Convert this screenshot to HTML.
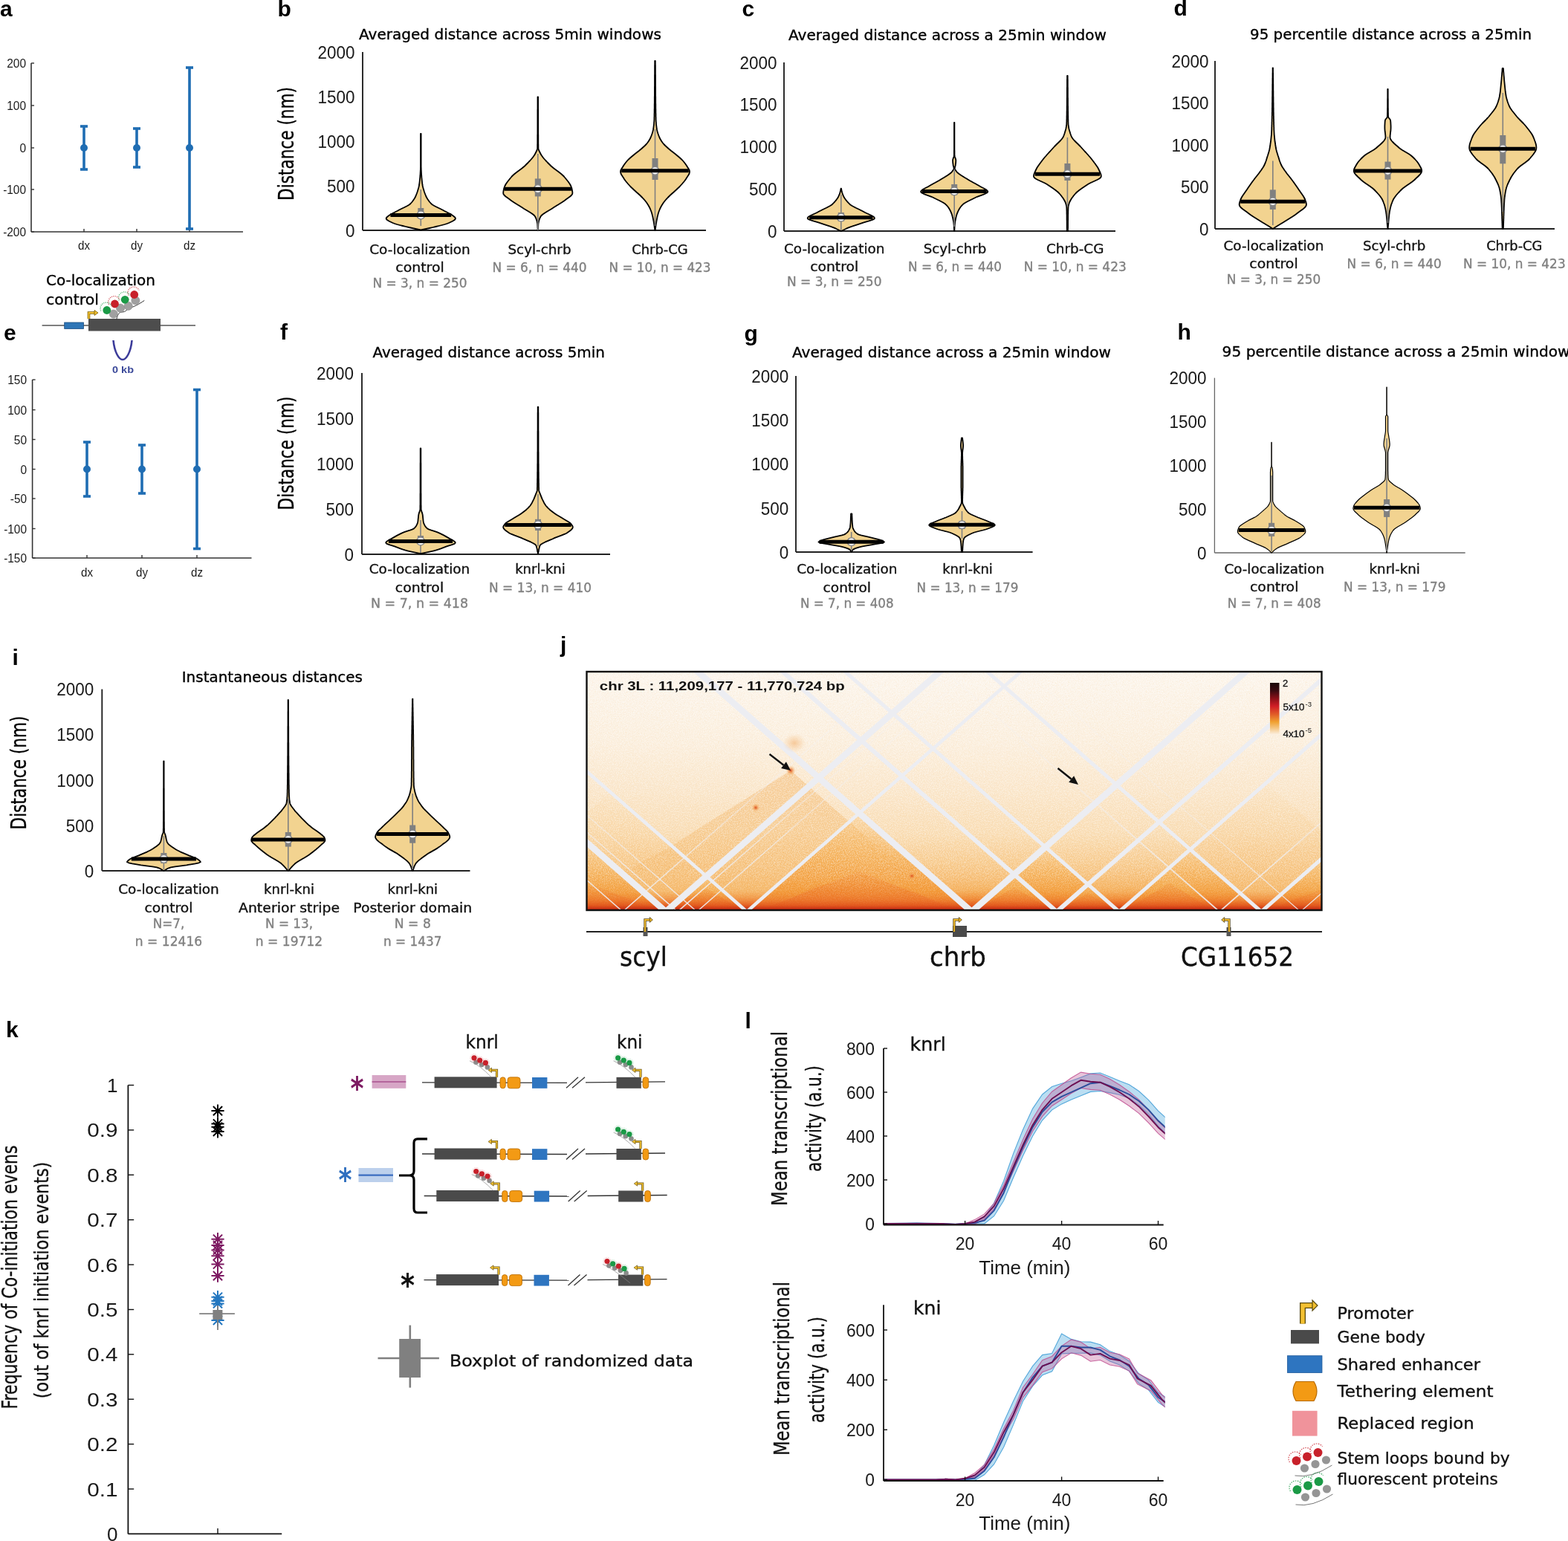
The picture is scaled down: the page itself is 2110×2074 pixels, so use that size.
<!DOCTYPE html><html><head><meta charset="utf-8"><style>html,body{margin:0;padding:0;background:#fff;overflow:hidden}svg{display:block}</style></head><body><svg width="2110" height="2074" viewBox="0 0 2110 2074">
<rect width="2110" height="2074" fill="#fff"/>
<text x="0.0" y="21.7" font-size="30" font-family="'Liberation Sans', Arial, sans-serif" fill="#000" font-weight="bold">a</text>
<text x="373.5" y="21.7" font-size="30" font-family="'Liberation Sans', Arial, sans-serif" fill="#000" font-weight="bold">b</text>
<text x="998.5" y="22.0" font-size="30" font-family="'Liberation Sans', Arial, sans-serif" fill="#000" font-weight="bold">c</text>
<text x="1579.5" y="21.0" font-size="30" font-family="'Liberation Sans', Arial, sans-serif" fill="#000" font-weight="bold">d</text>
<text x="5.0" y="458.0" font-size="30" font-family="'Liberation Sans', Arial, sans-serif" fill="#000" font-weight="bold">e</text>
<text x="377.0" y="457.0" font-size="30" font-family="'Liberation Sans', Arial, sans-serif" fill="#000" font-weight="bold">f</text>
<text x="1001.5" y="458.5" font-size="30" font-family="'Liberation Sans', Arial, sans-serif" fill="#000" font-weight="bold">g</text>
<text x="1584.5" y="457.0" font-size="30" font-family="'Liberation Sans', Arial, sans-serif" fill="#000" font-weight="bold">h</text>
<text x="16.5" y="895.0" font-size="30" font-family="'Liberation Sans', Arial, sans-serif" fill="#000" font-weight="bold">i</text>
<text x="754.0" y="877.6" font-size="30" font-family="'Liberation Sans', Arial, sans-serif" fill="#000" font-weight="bold">j</text>
<text x="8.0" y="1396.4" font-size="30" font-family="'Liberation Sans', Arial, sans-serif" fill="#000" font-weight="bold">k</text>
<text x="1002.5" y="1383.6" font-size="30" font-family="'Liberation Sans', Arial, sans-serif" fill="#000" font-weight="bold">l</text>
<line x1="42.0" y1="85.0" x2="42.0" y2="312.0" stroke="#333333" stroke-width="1.6"/>
<line x1="42.0" y1="312.0" x2="327.0" y2="312.0" stroke="#333333" stroke-width="1.6"/>
<line x1="42.0" y1="85.0" x2="46.0" y2="85.0" stroke="#333333" stroke-width="1.4"/>
<text x="35.0" y="91.0" font-size="16" font-family="'Liberation Sans', Arial, sans-serif" fill="#1a1a1a" text-anchor="end" textLength="25.799999999999997" lengthAdjust="spacingAndGlyphs">200</text>
<line x1="42.0" y1="142.0" x2="46.0" y2="142.0" stroke="#333333" stroke-width="1.4"/>
<text x="35.0" y="148.0" font-size="16" font-family="'Liberation Sans', Arial, sans-serif" fill="#1a1a1a" text-anchor="end" textLength="25.799999999999997" lengthAdjust="spacingAndGlyphs">100</text>
<line x1="42.0" y1="199.0" x2="46.0" y2="199.0" stroke="#333333" stroke-width="1.4"/>
<text x="35.0" y="205.0" font-size="16" font-family="'Liberation Sans', Arial, sans-serif" fill="#1a1a1a" text-anchor="end" textLength="8.6" lengthAdjust="spacingAndGlyphs">0</text>
<line x1="42.0" y1="255.0" x2="46.0" y2="255.0" stroke="#333333" stroke-width="1.4"/>
<text x="35.0" y="261.0" font-size="16" font-family="'Liberation Sans', Arial, sans-serif" fill="#1a1a1a" text-anchor="end" textLength="30.799999999999997" lengthAdjust="spacingAndGlyphs">-100</text>
<line x1="42.0" y1="312.0" x2="46.0" y2="312.0" stroke="#333333" stroke-width="1.4"/>
<text x="35.0" y="318.0" font-size="16" font-family="'Liberation Sans', Arial, sans-serif" fill="#1a1a1a" text-anchor="end" textLength="30.799999999999997" lengthAdjust="spacingAndGlyphs">-200</text>
<line x1="113.0" y1="312.0" x2="113.0" y2="308.0" stroke="#333333" stroke-width="1.4"/>
<line x1="113.0" y1="170.0" x2="113.0" y2="228.0" stroke="#1f6db3" stroke-width="3.6"/>
<line x1="108.0" y1="170.0" x2="118.0" y2="170.0" stroke="#1f6db3" stroke-width="3.6"/>
<line x1="108.0" y1="228.0" x2="118.0" y2="228.0" stroke="#1f6db3" stroke-width="3.6"/>
<circle cx="113" cy="199" r="5" fill="#1f6db3"/>
<text x="113.0" y="336.0" font-size="17" font-family="'Liberation Sans', Arial, sans-serif" fill="#1a1a1a" text-anchor="middle" textLength="16" lengthAdjust="spacingAndGlyphs">dx</text>
<line x1="184.0" y1="312.0" x2="184.0" y2="308.0" stroke="#333333" stroke-width="1.4"/>
<line x1="184.0" y1="173.0" x2="184.0" y2="225.0" stroke="#1f6db3" stroke-width="3.6"/>
<line x1="179.0" y1="173.0" x2="189.0" y2="173.0" stroke="#1f6db3" stroke-width="3.6"/>
<line x1="179.0" y1="225.0" x2="189.0" y2="225.0" stroke="#1f6db3" stroke-width="3.6"/>
<circle cx="184" cy="199" r="5" fill="#1f6db3"/>
<text x="184.0" y="336.0" font-size="17" font-family="'Liberation Sans', Arial, sans-serif" fill="#1a1a1a" text-anchor="middle" textLength="16" lengthAdjust="spacingAndGlyphs">dy</text>
<line x1="255.0" y1="312.0" x2="255.0" y2="308.0" stroke="#333333" stroke-width="1.4"/>
<line x1="255.0" y1="91.0" x2="255.0" y2="308.0" stroke="#1f6db3" stroke-width="3.6"/>
<line x1="250.0" y1="91.0" x2="260.0" y2="91.0" stroke="#1f6db3" stroke-width="3.6"/>
<line x1="250.0" y1="308.0" x2="260.0" y2="308.0" stroke="#1f6db3" stroke-width="3.6"/>
<circle cx="255" cy="199" r="5" fill="#1f6db3"/>
<text x="255.0" y="336.0" font-size="17" font-family="'Liberation Sans', Arial, sans-serif" fill="#1a1a1a" text-anchor="middle" textLength="16" lengthAdjust="spacingAndGlyphs">dz</text>
<line x1="43.6" y1="511.0" x2="43.6" y2="751.0" stroke="#333333" stroke-width="1.6"/>
<line x1="43.6" y1="751.0" x2="338.5" y2="751.0" stroke="#333333" stroke-width="1.6"/>
<line x1="43.6" y1="511.0" x2="47.6" y2="511.0" stroke="#333333" stroke-width="1.4"/>
<text x="36.0" y="517.0" font-size="16" font-family="'Liberation Sans', Arial, sans-serif" fill="#1a1a1a" text-anchor="end" textLength="25.799999999999997" lengthAdjust="spacingAndGlyphs">150</text>
<line x1="43.6" y1="551.6" x2="47.6" y2="551.6" stroke="#333333" stroke-width="1.4"/>
<text x="36.0" y="557.6" font-size="16" font-family="'Liberation Sans', Arial, sans-serif" fill="#1a1a1a" text-anchor="end" textLength="25.799999999999997" lengthAdjust="spacingAndGlyphs">100</text>
<line x1="43.6" y1="591.5" x2="47.6" y2="591.5" stroke="#333333" stroke-width="1.4"/>
<text x="36.0" y="597.5" font-size="16" font-family="'Liberation Sans', Arial, sans-serif" fill="#1a1a1a" text-anchor="end" textLength="17.2" lengthAdjust="spacingAndGlyphs">50</text>
<line x1="43.6" y1="631.5" x2="47.6" y2="631.5" stroke="#333333" stroke-width="1.4"/>
<text x="36.0" y="637.5" font-size="16" font-family="'Liberation Sans', Arial, sans-serif" fill="#1a1a1a" text-anchor="end" textLength="8.6" lengthAdjust="spacingAndGlyphs">0</text>
<line x1="43.6" y1="671.0" x2="47.6" y2="671.0" stroke="#333333" stroke-width="1.4"/>
<text x="36.0" y="677.0" font-size="16" font-family="'Liberation Sans', Arial, sans-serif" fill="#1a1a1a" text-anchor="end" textLength="22.2" lengthAdjust="spacingAndGlyphs">-50</text>
<line x1="43.6" y1="711.5" x2="47.6" y2="711.5" stroke="#333333" stroke-width="1.4"/>
<text x="36.0" y="717.5" font-size="16" font-family="'Liberation Sans', Arial, sans-serif" fill="#1a1a1a" text-anchor="end" textLength="30.799999999999997" lengthAdjust="spacingAndGlyphs">-100</text>
<line x1="43.6" y1="751.0" x2="47.6" y2="751.0" stroke="#333333" stroke-width="1.4"/>
<text x="36.0" y="757.0" font-size="16" font-family="'Liberation Sans', Arial, sans-serif" fill="#1a1a1a" text-anchor="end" textLength="30.799999999999997" lengthAdjust="spacingAndGlyphs">-150</text>
<line x1="117.0" y1="751.0" x2="117.0" y2="747.0" stroke="#333333" stroke-width="1.4"/>
<line x1="117.0" y1="595.0" x2="117.0" y2="668.0" stroke="#1f6db3" stroke-width="3.6"/>
<line x1="112.0" y1="595.0" x2="122.0" y2="595.0" stroke="#1f6db3" stroke-width="3.6"/>
<line x1="112.0" y1="668.0" x2="122.0" y2="668.0" stroke="#1f6db3" stroke-width="3.6"/>
<circle cx="117" cy="631.5" r="5" fill="#1f6db3"/>
<text x="117.0" y="776.0" font-size="17" font-family="'Liberation Sans', Arial, sans-serif" fill="#1a1a1a" text-anchor="middle" textLength="16" lengthAdjust="spacingAndGlyphs">dx</text>
<line x1="191.0" y1="751.0" x2="191.0" y2="747.0" stroke="#333333" stroke-width="1.4"/>
<line x1="191.0" y1="599.0" x2="191.0" y2="664.0" stroke="#1f6db3" stroke-width="3.6"/>
<line x1="186.0" y1="599.0" x2="196.0" y2="599.0" stroke="#1f6db3" stroke-width="3.6"/>
<line x1="186.0" y1="664.0" x2="196.0" y2="664.0" stroke="#1f6db3" stroke-width="3.6"/>
<circle cx="191" cy="631.5" r="5" fill="#1f6db3"/>
<text x="191.0" y="776.0" font-size="17" font-family="'Liberation Sans', Arial, sans-serif" fill="#1a1a1a" text-anchor="middle" textLength="16" lengthAdjust="spacingAndGlyphs">dy</text>
<line x1="265.0" y1="751.0" x2="265.0" y2="747.0" stroke="#333333" stroke-width="1.4"/>
<line x1="265.0" y1="524.5" x2="265.0" y2="738.5" stroke="#1f6db3" stroke-width="3.6"/>
<line x1="260.0" y1="524.5" x2="270.0" y2="524.5" stroke="#1f6db3" stroke-width="3.6"/>
<line x1="260.0" y1="738.5" x2="270.0" y2="738.5" stroke="#1f6db3" stroke-width="3.6"/>
<circle cx="265" cy="631.5" r="5" fill="#1f6db3"/>
<text x="265.0" y="776.0" font-size="17" font-family="'Liberation Sans', Arial, sans-serif" fill="#1a1a1a" text-anchor="middle" textLength="16" lengthAdjust="spacingAndGlyphs">dz</text>
<text x="62.0" y="384.0" font-size="20" font-family="'DejaVu Sans', 'Liberation Sans', sans-serif" fill="#000" textLength="147" lengthAdjust="spacingAndGlyphs" stroke="#000" stroke-width="0.35">Co-localization</text>
<text x="62.0" y="410.0" font-size="20" font-family="'DejaVu Sans', 'Liberation Sans', sans-serif" fill="#000" textLength="71" lengthAdjust="spacingAndGlyphs" stroke="#000" stroke-width="0.35">control</text>
<line x1="56.6" y1="438.0" x2="263.0" y2="438.0" stroke="#555" stroke-width="1.4"/>
<rect x="86.7" y="434.0" width="25.8" height="8.5" fill="#2e75b6" stroke="#1d4f80" stroke-width="0.8"/>
<rect x="119.0" y="429.0" width="97.0" height="16.5" fill="#4d4d4d"/>
<path d="M119.5,429 L119.5,421 L128,421" fill="none" stroke="#7a5c00" stroke-width="3.6"/>
<path d="M119.5,429 L119.5,421 L128,421" fill="none" stroke="#f0c030" stroke-width="2"/>
<path d="M127,417.5 L132,421 L127,424.5 Z" fill="#f0c030" stroke="#7a5c00" stroke-width="0.8"/>
<path d="M156.8,430 C158,424 160,420 164,420 C170,420 170,416 176,414 C182,412 186,410 194.3,404.4" fill="none" stroke="#333" stroke-width="1"/>
<circle cx="182.4" cy="404.4" r="5.6" fill="#a0a0a0" stroke="#8a8a8a" stroke-width="0.6"/>
<circle cx="180.7" cy="396.5" r="5.4" fill="#c8202a"/>
<path d="M172.8,397.5 A7.9,7.9 0 0 1 187.1,390.6" fill="none" stroke="#c8202a" stroke-width="1.4" stroke-dasharray="1.1,1.3" opacity="0.75"/>
<circle cx="172.7" cy="411.8" r="5.6" fill="#a0a0a0" stroke="#8a8a8a" stroke-width="0.6"/>
<circle cx="168.2" cy="403.3" r="5.4" fill="#1a9a46"/>
<path d="M160.3,404.3 A7.9,7.9 0 0 1 174.6,397.4" fill="none" stroke="#1a9a46" stroke-width="1.4" stroke-dasharray="1.1,1.3" opacity="0.75"/>
<circle cx="162.0" cy="414.7" r="5.6" fill="#a0a0a0" stroke="#8a8a8a" stroke-width="0.6"/>
<circle cx="154.5" cy="409.0" r="5.4" fill="#c8202a"/>
<path d="M146.6,410.0 A7.9,7.9 0 0 1 160.9,403.1" fill="none" stroke="#c8202a" stroke-width="1.4" stroke-dasharray="1.1,1.3" opacity="0.75"/>
<circle cx="152.8" cy="422.6" r="5.6" fill="#a0a0a0" stroke="#8a8a8a" stroke-width="0.6"/>
<circle cx="143.8" cy="417.5" r="5.4" fill="#1a9a46"/>
<path d="M135.8,418.5 A7.9,7.9 0 0 1 150.2,411.6" fill="none" stroke="#1a9a46" stroke-width="1.4" stroke-dasharray="1.1,1.3" opacity="0.75"/>
<path d="M152.5,458 C154,474 160,484 165,484 C170,484 176,474 177.5,458" fill="none" stroke="#3c3c9a" stroke-width="2.6"/>
<text x="151.0" y="502.0" font-size="13" font-family="'Liberation Sans', Arial, sans-serif" fill="#3c4a9a" font-weight="bold" textLength="29" lengthAdjust="spacingAndGlyphs">0 kb</text>
<line x1="488.0" y1="70.0" x2="488.0" y2="310.0" stroke="#222" stroke-width="1.9"/>
<line x1="488.0" y1="310.0" x2="950.0" y2="310.0" stroke="#222" stroke-width="1.9"/>
<text x="477.5" y="318.7" font-size="24.5" font-family="'Liberation Sans', Arial, sans-serif" fill="#1a1a1a" text-anchor="end" textLength="12.5" lengthAdjust="spacingAndGlyphs">0</text>
<text x="477.5" y="258.7" font-size="24.5" font-family="'Liberation Sans', Arial, sans-serif" fill="#1a1a1a" text-anchor="end" textLength="37.5" lengthAdjust="spacingAndGlyphs">500</text>
<text x="477.5" y="198.7" font-size="24.5" font-family="'Liberation Sans', Arial, sans-serif" fill="#1a1a1a" text-anchor="end" textLength="50.0" lengthAdjust="spacingAndGlyphs">1000</text>
<text x="477.5" y="138.7" font-size="24.5" font-family="'Liberation Sans', Arial, sans-serif" fill="#1a1a1a" text-anchor="end" textLength="50.0" lengthAdjust="spacingAndGlyphs">1500</text>
<text x="477.5" y="78.7" font-size="24.5" font-family="'Liberation Sans', Arial, sans-serif" fill="#1a1a1a" text-anchor="end" textLength="50.0" lengthAdjust="spacingAndGlyphs">2000</text>
<text x="483.0" y="53.0" font-size="20" font-family="'DejaVu Sans', 'Liberation Sans', sans-serif" fill="#000" textLength="407" lengthAdjust="spacingAndGlyphs" stroke="#000" stroke-width="0.35">Averaged distance across 5min windows</text>
<text x="395.0" y="193.5" font-size="29" font-family="'DejaVu Sans', 'Liberation Sans', sans-serif" fill="#000" text-anchor="middle" textLength="153" lengthAdjust="spacingAndGlyphs" transform="rotate(-90 395.0 193.5)" stroke="#000" stroke-width="0.35">Distance (nm)</text>
<path d="M566.6,180.0 L566.6,181.0 L566.6,182.0 L566.6,183.0 L566.6,184.0 L566.6,185.0 L566.6,186.0 L566.6,187.0 L566.6,188.0 L566.6,189.0 L566.6,190.0 L566.6,191.0 L566.6,192.0 L566.6,193.0 L566.6,194.0 L566.6,195.0 L566.6,196.0 L566.6,197.0 L566.6,198.0 L566.6,199.0 L566.6,200.0 L566.6,201.0 L566.6,202.0 L566.6,203.0 L566.6,204.0 L566.6,205.0 L566.6,206.0 L566.6,207.0 L566.6,208.0 L566.6,209.0 L566.6,210.0 L566.6,211.0 L566.6,212.0 L566.6,213.0 L566.6,214.0 L566.6,215.0 L566.6,216.0 L566.6,217.0 L566.6,218.0 L566.6,219.0 L566.6,220.0 L566.6,221.0 L566.6,222.0 L566.6,223.0 L566.6,224.0 L566.6,225.0 L566.7,226.0 L566.7,227.0 L566.7,228.0 L566.8,229.0 L566.8,230.0 L566.9,231.0 L566.9,232.0 L567.0,233.0 L567.0,234.0 L567.1,235.0 L567.2,236.0 L567.3,237.0 L567.3,238.0 L567.4,239.0 L567.5,240.0 L567.6,241.0 L567.7,242.0 L567.8,243.0 L567.9,244.0 L568.0,245.0 L568.1,246.0 L568.2,247.0 L568.4,248.0 L568.5,249.0 L568.7,250.0 L568.9,251.0 L569.2,252.0 L569.4,253.0 L569.7,254.0 L570.0,255.0 L570.3,256.0 L570.6,257.0 L570.9,258.0 L571.3,259.0 L571.6,260.0 L572.0,261.0 L572.4,262.0 L572.8,263.0 L573.2,264.0 L573.7,265.0 L574.2,266.0 L574.8,267.0 L575.4,268.0 L576.1,269.0 L576.8,270.0 L577.5,271.0 L578.3,272.0 L579.2,273.0 L580.1,274.0 L581.2,275.0 L582.7,276.0 L584.4,277.0 L586.3,278.0 L588.3,279.0 L590.4,280.0 L592.5,281.0 L594.5,282.0 L596.4,283.0 L598.2,284.0 L600.2,285.0 L602.1,286.0 L604.1,287.0 L605.9,288.0 L607.6,289.0 L609.1,290.0 L610.4,291.0 L611.6,292.0 L612.6,293.0 L613.0,294.0 L612.6,295.0 L611.6,296.0 L610.1,297.0 L608.3,298.0 L606.2,299.0 L604.1,300.0 L601.6,301.0 L598.4,302.0 L594.7,303.0 L590.7,304.0 L586.5,305.0 L582.4,306.0 L578.1,307.0 L573.5,308.0 L568.8,309.0 L566.4,309.5 L566.1,309.5 L563.8,309.0 L559.1,308.0 L554.5,307.0 L550.2,306.0 L546.1,305.0 L541.9,304.0 L537.9,303.0 L534.2,302.0 L531.0,301.0 L528.5,300.0 L526.4,299.0 L524.3,298.0 L522.5,297.0 L521.0,296.0 L520.0,295.0 L519.6,294.0 L520.0,293.0 L521.0,292.0 L522.2,291.0 L523.5,290.0 L525.0,289.0 L526.7,288.0 L528.5,287.0 L530.5,286.0 L532.4,285.0 L534.4,284.0 L536.2,283.0 L538.1,282.0 L540.1,281.0 L542.2,280.0 L544.3,279.0 L546.3,278.0 L548.2,277.0 L549.9,276.0 L551.4,275.0 L552.5,274.0 L553.4,273.0 L554.3,272.0 L555.1,271.0 L555.8,270.0 L556.5,269.0 L557.2,268.0 L557.8,267.0 L558.4,266.0 L558.9,265.0 L559.4,264.0 L559.8,263.0 L560.2,262.0 L560.6,261.0 L561.0,260.0 L561.3,259.0 L561.7,258.0 L562.0,257.0 L562.3,256.0 L562.6,255.0 L562.9,254.0 L563.2,253.0 L563.4,252.0 L563.7,251.0 L563.9,250.0 L564.1,249.0 L564.2,248.0 L564.4,247.0 L564.5,246.0 L564.6,245.0 L564.7,244.0 L564.8,243.0 L564.9,242.0 L565.0,241.0 L565.1,240.0 L565.2,239.0 L565.3,238.0 L565.3,237.0 L565.4,236.0 L565.5,235.0 L565.6,234.0 L565.6,233.0 L565.7,232.0 L565.7,231.0 L565.8,230.0 L565.8,229.0 L565.9,228.0 L565.9,227.0 L565.9,226.0 L566.0,225.0 L566.0,224.0 L566.0,223.0 L566.0,222.0 L566.0,221.0 L566.0,220.0 L566.0,219.0 L566.0,218.0 L566.0,217.0 L566.0,216.0 L566.0,215.0 L566.0,214.0 L566.0,213.0 L566.0,212.0 L566.0,211.0 L566.0,210.0 L566.0,209.0 L566.0,208.0 L566.0,207.0 L566.0,206.0 L566.0,205.0 L566.0,204.0 L566.0,203.0 L566.0,202.0 L566.0,201.0 L566.0,200.0 L566.0,199.0 L566.0,198.0 L566.0,197.0 L566.0,196.0 L566.0,195.0 L566.0,194.0 L566.0,193.0 L566.0,192.0 L566.0,191.0 L566.0,190.0 L566.0,189.0 L566.0,188.0 L566.0,187.0 L566.0,186.0 L566.0,185.0 L566.0,184.0 L566.0,183.0 L566.0,182.0 L566.0,181.0 L566.0,180.0 Z" fill="#f2d390" stroke="#000" stroke-width="1.8" stroke-linejoin="round"/>
<line x1="566.3" y1="255.0" x2="566.3" y2="304.0" stroke="#808080" stroke-width="1.6"/>
<rect x="562.3" y="280.0" width="8.0" height="12.0" fill="#808080"/>
<circle cx="566.3" cy="289.5" r="5.4" fill="#fff" stroke="#8a8a8a" stroke-width="1.5"/>
<line x1="525.4" y1="289.5" x2="607.2" y2="289.5" stroke="#000" stroke-width="5"/>
<rect x="564.1" y="288.0" width="4.4" height="3" fill="#fff" opacity="0.0"/>
<path d="M724.1,130.5 L724.1,131.5 L724.1,132.5 L724.1,133.5 L724.1,134.5 L724.1,135.5 L724.1,136.5 L724.1,137.5 L724.1,138.5 L724.1,139.5 L724.1,140.5 L724.1,141.5 L724.1,142.5 L724.1,143.5 L724.1,144.5 L724.1,145.5 L724.1,146.5 L724.2,147.5 L724.2,148.5 L724.2,149.5 L724.2,150.5 L724.2,151.5 L724.2,152.5 L724.2,153.5 L724.2,154.5 L724.2,155.5 L724.2,156.5 L724.2,157.5 L724.2,158.5 L724.2,159.5 L724.2,160.5 L724.2,161.5 L724.2,162.5 L724.2,163.5 L724.2,164.5 L724.2,165.5 L724.2,166.5 L724.2,167.5 L724.2,168.5 L724.2,169.5 L724.2,170.5 L724.2,171.5 L724.2,172.5 L724.2,173.5 L724.2,174.5 L724.2,175.5 L724.2,176.5 L724.2,177.5 L724.2,178.5 L724.2,179.5 L724.2,180.5 L724.3,181.5 L724.3,182.5 L724.3,183.5 L724.3,184.5 L724.3,185.5 L724.3,186.5 L724.3,187.5 L724.3,188.5 L724.3,189.5 L724.3,190.5 L724.3,191.5 L724.3,192.5 L724.3,193.5 L724.4,194.5 L724.4,195.5 L724.4,196.5 L724.4,197.5 L724.4,198.5 L724.4,199.5 L724.6,200.5 L724.9,201.5 L725.2,202.5 L725.7,203.5 L726.2,204.5 L726.7,205.5 L727.2,206.5 L727.8,207.5 L728.3,208.5 L729.0,209.5 L729.7,210.5 L730.4,211.5 L731.2,212.5 L732.0,213.5 L732.9,214.5 L733.8,215.5 L734.7,216.5 L735.7,217.5 L736.6,218.5 L737.6,219.5 L738.6,220.5 L739.6,221.5 L740.6,222.5 L741.6,223.5 L742.8,224.5 L744.0,225.5 L745.2,226.5 L746.5,227.5 L747.9,228.5 L749.2,229.5 L750.6,230.5 L751.9,231.5 L753.2,232.5 L754.5,233.5 L755.7,234.5 L756.8,235.5 L757.9,236.5 L758.9,237.5 L759.7,238.5 L760.6,239.5 L761.4,240.5 L762.2,241.5 L763.0,242.5 L763.8,243.5 L764.6,244.5 L765.3,245.5 L766.0,246.5 L766.7,247.5 L767.3,248.5 L767.8,249.5 L768.3,250.5 L768.7,251.5 L769.1,252.5 L769.4,253.5 L769.6,254.5 L769.8,255.5 L770.0,256.5 L770.2,257.5 L770.3,258.5 L770.4,259.5 L770.3,260.5 L770.0,261.5 L769.2,262.5 L768.2,263.5 L767.1,264.5 L765.7,265.5 L764.3,266.5 L762.9,267.5 L761.5,268.5 L760.3,269.5 L758.9,270.5 L757.4,271.5 L755.9,272.5 L754.3,273.5 L752.7,274.5 L751.1,275.5 L749.4,276.5 L747.8,277.5 L746.2,278.5 L744.6,279.5 L743.2,280.5 L741.6,281.5 L739.9,282.5 L738.2,283.5 L736.5,284.5 L734.9,285.5 L733.3,286.5 L731.8,287.5 L730.4,288.5 L729.2,289.5 L728.2,290.5 L727.5,291.5 L727.0,292.5 L726.5,293.5 L726.1,294.5 L725.8,295.5 L725.4,296.5 L725.1,297.5 L724.9,298.5 L724.7,299.5 L724.5,300.5 L724.4,301.5 L724.3,302.5 L724.3,303.5 L724.2,304.5 L724.2,305.5 L724.1,306.5 L724.1,307.5 L724.0,308.5 L724.0,309.5 L723.9,310.0 L723.6,310.0 L723.6,309.5 L723.6,308.5 L723.5,307.5 L723.5,306.5 L723.4,305.5 L723.4,304.5 L723.3,303.5 L723.3,302.5 L723.2,301.5 L723.1,300.5 L722.9,299.5 L722.7,298.5 L722.5,297.5 L722.2,296.5 L721.8,295.5 L721.5,294.5 L721.1,293.5 L720.6,292.5 L720.1,291.5 L719.4,290.5 L718.4,289.5 L717.2,288.5 L715.8,287.5 L714.3,286.5 L712.7,285.5 L711.1,284.5 L709.4,283.5 L707.7,282.5 L706.0,281.5 L704.4,280.5 L703.0,279.5 L701.4,278.5 L699.8,277.5 L698.2,276.5 L696.5,275.5 L694.9,274.5 L693.3,273.5 L691.7,272.5 L690.2,271.5 L688.7,270.5 L687.3,269.5 L686.1,268.5 L684.7,267.5 L683.3,266.5 L681.9,265.5 L680.5,264.5 L679.4,263.5 L678.4,262.5 L677.6,261.5 L677.3,260.5 L677.2,259.5 L677.3,258.5 L677.4,257.5 L677.6,256.5 L677.8,255.5 L678.0,254.5 L678.2,253.5 L678.5,252.5 L678.9,251.5 L679.3,250.5 L679.8,249.5 L680.3,248.5 L680.9,247.5 L681.6,246.5 L682.3,245.5 L683.0,244.5 L683.8,243.5 L684.6,242.5 L685.4,241.5 L686.2,240.5 L687.0,239.5 L687.9,238.5 L688.7,237.5 L689.7,236.5 L690.8,235.5 L691.9,234.5 L693.1,233.5 L694.4,232.5 L695.7,231.5 L697.0,230.5 L698.4,229.5 L699.7,228.5 L701.1,227.5 L702.4,226.5 L703.6,225.5 L704.8,224.5 L706.0,223.5 L707.0,222.5 L708.0,221.5 L709.0,220.5 L710.0,219.5 L711.0,218.5 L711.9,217.5 L712.9,216.5 L713.8,215.5 L714.7,214.5 L715.6,213.5 L716.4,212.5 L717.2,211.5 L717.9,210.5 L718.6,209.5 L719.3,208.5 L719.8,207.5 L720.4,206.5 L720.9,205.5 L721.4,204.5 L721.9,203.5 L722.4,202.5 L722.7,201.5 L723.0,200.5 L723.2,199.5 L723.2,198.5 L723.2,197.5 L723.2,196.5 L723.2,195.5 L723.2,194.5 L723.3,193.5 L723.3,192.5 L723.3,191.5 L723.3,190.5 L723.3,189.5 L723.3,188.5 L723.3,187.5 L723.3,186.5 L723.3,185.5 L723.3,184.5 L723.3,183.5 L723.3,182.5 L723.3,181.5 L723.4,180.5 L723.4,179.5 L723.4,178.5 L723.4,177.5 L723.4,176.5 L723.4,175.5 L723.4,174.5 L723.4,173.5 L723.4,172.5 L723.4,171.5 L723.4,170.5 L723.4,169.5 L723.4,168.5 L723.4,167.5 L723.4,166.5 L723.4,165.5 L723.4,164.5 L723.4,163.5 L723.4,162.5 L723.4,161.5 L723.4,160.5 L723.4,159.5 L723.4,158.5 L723.4,157.5 L723.4,156.5 L723.4,155.5 L723.4,154.5 L723.4,153.5 L723.4,152.5 L723.4,151.5 L723.4,150.5 L723.4,149.5 L723.4,148.5 L723.4,147.5 L723.5,146.5 L723.5,145.5 L723.5,144.5 L723.5,143.5 L723.5,142.5 L723.5,141.5 L723.5,140.5 L723.5,139.5 L723.5,138.5 L723.5,137.5 L723.5,136.5 L723.5,135.5 L723.5,134.5 L723.5,133.5 L723.5,132.5 L723.5,131.5 L723.5,130.5 Z" fill="#f2d390" stroke="#000" stroke-width="1.8" stroke-linejoin="round"/>
<line x1="723.8" y1="207.0" x2="723.8" y2="310.0" stroke="#808080" stroke-width="1.6"/>
<rect x="719.8" y="240.4" width="8.0" height="24.0" fill="#808080"/>
<circle cx="723.8" cy="254.2" r="5.4" fill="#fff" stroke="#8a8a8a" stroke-width="1.5"/>
<line x1="678.7" y1="254.2" x2="768.9" y2="254.2" stroke="#000" stroke-width="5"/>
<rect x="721.6" y="252.7" width="4.4" height="3" fill="#fff" opacity="0.0"/>
<path d="M881.8,82.0 L881.8,83.0 L881.8,84.0 L881.8,85.0 L881.8,86.0 L881.8,87.0 L881.9,88.0 L881.9,89.0 L881.9,90.0 L881.9,91.0 L881.9,92.0 L881.9,93.0 L881.9,94.0 L881.9,95.0 L881.9,96.0 L881.9,97.0 L881.9,98.0 L881.9,99.0 L881.9,100.0 L882.0,101.0 L882.0,102.0 L882.0,103.0 L882.0,104.0 L882.0,105.0 L882.0,106.0 L882.0,107.0 L882.0,108.0 L882.0,109.0 L882.0,110.0 L882.0,111.0 L882.0,112.0 L882.0,113.0 L882.0,114.0 L882.0,115.0 L882.0,116.0 L882.1,117.0 L882.1,118.0 L882.1,119.0 L882.1,120.0 L882.1,121.0 L882.1,122.0 L882.1,123.0 L882.1,124.0 L882.1,125.0 L882.1,126.0 L882.1,127.0 L882.1,128.0 L882.1,129.0 L882.2,130.0 L882.2,131.0 L882.2,132.0 L882.2,133.0 L882.2,134.0 L882.2,135.0 L882.2,136.0 L882.2,137.0 L882.2,138.0 L882.2,139.0 L882.3,140.0 L882.3,141.0 L882.3,142.0 L882.3,143.0 L882.3,144.0 L882.3,145.0 L882.3,146.0 L882.4,147.0 L882.4,148.0 L882.4,149.0 L882.4,150.0 L882.4,151.0 L882.4,152.0 L882.5,153.0 L882.5,154.0 L882.5,155.0 L882.5,156.0 L882.5,157.0 L882.6,158.0 L882.6,159.0 L882.6,160.0 L882.6,161.0 L882.7,162.0 L882.7,163.0 L882.8,164.0 L882.9,165.0 L882.9,166.0 L883.0,167.0 L883.1,168.0 L883.2,169.0 L883.4,170.0 L883.5,171.0 L883.6,172.0 L883.7,173.0 L883.9,174.0 L884.1,175.0 L884.4,176.0 L884.6,177.0 L884.9,178.0 L885.2,179.0 L885.5,180.0 L885.9,181.0 L886.2,182.0 L886.6,183.0 L887.0,184.0 L887.4,185.0 L887.9,186.0 L888.4,187.0 L889.0,188.0 L889.6,189.0 L890.2,190.0 L890.9,191.0 L891.6,192.0 L892.4,193.0 L893.2,194.0 L894.2,195.0 L895.2,196.0 L896.3,197.0 L897.4,198.0 L898.5,199.0 L899.6,200.0 L900.8,201.0 L902.0,202.0 L903.2,203.0 L904.5,204.0 L905.8,205.0 L907.1,206.0 L908.4,207.0 L909.6,208.0 L910.8,209.0 L912.0,210.0 L913.2,211.0 L914.4,212.0 L915.5,213.0 L916.6,214.0 L917.7,215.0 L918.6,216.0 L919.5,217.0 L920.3,218.0 L921.1,219.0 L921.9,220.0 L922.6,221.0 L923.3,222.0 L924.0,223.0 L924.6,224.0 L925.2,225.0 L925.9,226.0 L926.5,227.0 L927.1,228.0 L927.6,229.0 L927.9,230.0 L928.0,231.0 L927.9,232.0 L927.7,233.0 L927.3,234.0 L926.8,235.0 L926.2,236.0 L925.5,237.0 L924.9,238.0 L924.2,239.0 L923.6,240.0 L923.0,241.0 L922.3,242.0 L921.6,243.0 L920.8,244.0 L920.0,245.0 L919.1,246.0 L918.3,247.0 L917.4,248.0 L916.5,249.0 L915.6,250.0 L914.7,251.0 L913.7,252.0 L912.6,253.0 L911.5,254.0 L910.5,255.0 L909.4,256.0 L908.3,257.0 L907.2,258.0 L906.1,259.0 L904.9,260.0 L903.8,261.0 L902.7,262.0 L901.6,263.0 L900.6,264.0 L899.6,265.0 L898.6,266.0 L897.7,267.0 L896.7,268.0 L895.8,269.0 L895.0,270.0 L894.2,271.0 L893.4,272.0 L892.7,273.0 L892.0,274.0 L891.4,275.0 L890.7,276.0 L890.2,277.0 L889.6,278.0 L889.1,279.0 L888.6,280.0 L888.1,281.0 L887.7,282.0 L887.3,283.0 L886.9,284.0 L886.5,285.0 L886.2,286.0 L885.9,287.0 L885.6,288.0 L885.3,289.0 L885.1,290.0 L884.8,291.0 L884.6,292.0 L884.4,293.0 L884.2,294.0 L884.0,295.0 L883.8,296.0 L883.6,297.0 L883.4,298.0 L883.3,299.0 L883.1,300.0 L882.9,301.0 L882.8,302.0 L882.6,303.0 L882.5,304.0 L882.3,305.0 L882.2,306.0 L882.1,307.0 L881.9,308.0 L881.8,309.0 L881.6,310.0 L881.4,310.0 L881.2,309.0 L881.1,308.0 L880.9,307.0 L880.8,306.0 L880.7,305.0 L880.5,304.0 L880.4,303.0 L880.2,302.0 L880.1,301.0 L879.9,300.0 L879.7,299.0 L879.6,298.0 L879.4,297.0 L879.2,296.0 L879.0,295.0 L878.8,294.0 L878.6,293.0 L878.4,292.0 L878.2,291.0 L877.9,290.0 L877.7,289.0 L877.4,288.0 L877.1,287.0 L876.8,286.0 L876.5,285.0 L876.1,284.0 L875.7,283.0 L875.3,282.0 L874.9,281.0 L874.4,280.0 L873.9,279.0 L873.4,278.0 L872.8,277.0 L872.3,276.0 L871.6,275.0 L871.0,274.0 L870.3,273.0 L869.6,272.0 L868.8,271.0 L868.0,270.0 L867.2,269.0 L866.3,268.0 L865.3,267.0 L864.4,266.0 L863.4,265.0 L862.4,264.0 L861.4,263.0 L860.3,262.0 L859.2,261.0 L858.1,260.0 L856.9,259.0 L855.8,258.0 L854.7,257.0 L853.6,256.0 L852.5,255.0 L851.5,254.0 L850.4,253.0 L849.3,252.0 L848.3,251.0 L847.4,250.0 L846.5,249.0 L845.6,248.0 L844.7,247.0 L843.9,246.0 L843.0,245.0 L842.2,244.0 L841.4,243.0 L840.7,242.0 L840.0,241.0 L839.4,240.0 L838.8,239.0 L838.1,238.0 L837.5,237.0 L836.8,236.0 L836.2,235.0 L835.7,234.0 L835.3,233.0 L835.1,232.0 L835.0,231.0 L835.1,230.0 L835.4,229.0 L835.9,228.0 L836.5,227.0 L837.1,226.0 L837.8,225.0 L838.4,224.0 L839.0,223.0 L839.7,222.0 L840.4,221.0 L841.1,220.0 L841.9,219.0 L842.7,218.0 L843.5,217.0 L844.4,216.0 L845.3,215.0 L846.4,214.0 L847.5,213.0 L848.6,212.0 L849.8,211.0 L851.0,210.0 L852.2,209.0 L853.4,208.0 L854.6,207.0 L855.9,206.0 L857.2,205.0 L858.5,204.0 L859.8,203.0 L861.0,202.0 L862.2,201.0 L863.4,200.0 L864.5,199.0 L865.6,198.0 L866.7,197.0 L867.8,196.0 L868.8,195.0 L869.8,194.0 L870.6,193.0 L871.4,192.0 L872.1,191.0 L872.8,190.0 L873.4,189.0 L874.0,188.0 L874.6,187.0 L875.1,186.0 L875.6,185.0 L876.0,184.0 L876.4,183.0 L876.8,182.0 L877.1,181.0 L877.5,180.0 L877.8,179.0 L878.1,178.0 L878.4,177.0 L878.6,176.0 L878.9,175.0 L879.1,174.0 L879.3,173.0 L879.4,172.0 L879.5,171.0 L879.6,170.0 L879.8,169.0 L879.9,168.0 L880.0,167.0 L880.1,166.0 L880.1,165.0 L880.2,164.0 L880.3,163.0 L880.3,162.0 L880.4,161.0 L880.4,160.0 L880.4,159.0 L880.4,158.0 L880.5,157.0 L880.5,156.0 L880.5,155.0 L880.5,154.0 L880.5,153.0 L880.6,152.0 L880.6,151.0 L880.6,150.0 L880.6,149.0 L880.6,148.0 L880.6,147.0 L880.7,146.0 L880.7,145.0 L880.7,144.0 L880.7,143.0 L880.7,142.0 L880.7,141.0 L880.7,140.0 L880.8,139.0 L880.8,138.0 L880.8,137.0 L880.8,136.0 L880.8,135.0 L880.8,134.0 L880.8,133.0 L880.8,132.0 L880.8,131.0 L880.8,130.0 L880.9,129.0 L880.9,128.0 L880.9,127.0 L880.9,126.0 L880.9,125.0 L880.9,124.0 L880.9,123.0 L880.9,122.0 L880.9,121.0 L880.9,120.0 L880.9,119.0 L880.9,118.0 L880.9,117.0 L881.0,116.0 L881.0,115.0 L881.0,114.0 L881.0,113.0 L881.0,112.0 L881.0,111.0 L881.0,110.0 L881.0,109.0 L881.0,108.0 L881.0,107.0 L881.0,106.0 L881.0,105.0 L881.0,104.0 L881.0,103.0 L881.0,102.0 L881.0,101.0 L881.1,100.0 L881.1,99.0 L881.1,98.0 L881.1,97.0 L881.1,96.0 L881.1,95.0 L881.1,94.0 L881.1,93.0 L881.1,92.0 L881.1,91.0 L881.1,90.0 L881.1,89.0 L881.1,88.0 L881.2,87.0 L881.2,86.0 L881.2,85.0 L881.2,84.0 L881.2,83.0 L881.2,82.0 Z" fill="#f2d390" stroke="#000" stroke-width="1.8" stroke-linejoin="round"/>
<line x1="881.5" y1="174.0" x2="881.5" y2="304.0" stroke="#808080" stroke-width="1.6"/>
<rect x="877.5" y="213.0" width="8.0" height="29.0" fill="#808080"/>
<circle cx="881.5" cy="229.8" r="5.4" fill="#fff" stroke="#8a8a8a" stroke-width="1.5"/>
<line x1="836.2" y1="229.8" x2="926.8" y2="229.8" stroke="#000" stroke-width="5"/>
<rect x="879.3" y="228.3" width="4.4" height="3" fill="#fff" opacity="0.0"/>
<text x="565.0" y="342.0" font-size="17.5" font-family="'DejaVu Sans', 'Liberation Sans', sans-serif" fill="#111" text-anchor="middle" textLength="135.5" lengthAdjust="spacingAndGlyphs" stroke="#111" stroke-width="0.35">Co-localization</text>
<text x="565.0" y="366.0" font-size="17.5" font-family="'DejaVu Sans', 'Liberation Sans', sans-serif" fill="#111" text-anchor="middle" textLength="65.5" lengthAdjust="spacingAndGlyphs" stroke="#111" stroke-width="0.35">control</text>
<text x="565.0" y="386.7" font-size="17.5" font-family="'DejaVu Sans', 'Liberation Sans', sans-serif" fill="#808080" text-anchor="middle" textLength="127" lengthAdjust="spacingAndGlyphs" stroke="#808080" stroke-width="0.35">N = 3, n = 250</text>
<text x="726.0" y="342.0" font-size="17.5" font-family="'DejaVu Sans', 'Liberation Sans', sans-serif" fill="#111" text-anchor="middle" textLength="85" lengthAdjust="spacingAndGlyphs" stroke="#111" stroke-width="0.35">Scyl-chrb</text>
<text x="726.0" y="366.0" font-size="17.5" font-family="'DejaVu Sans', 'Liberation Sans', sans-serif" fill="#808080" text-anchor="middle" textLength="127" lengthAdjust="spacingAndGlyphs" stroke="#808080" stroke-width="0.35">N = 6, n = 440</text>
<text x="888.0" y="342.0" font-size="17.5" font-family="'DejaVu Sans', 'Liberation Sans', sans-serif" fill="#111" text-anchor="middle" textLength="75.5" lengthAdjust="spacingAndGlyphs" stroke="#111" stroke-width="0.35">Chrb-CG</text>
<text x="888.0" y="366.0" font-size="17.5" font-family="'DejaVu Sans', 'Liberation Sans', sans-serif" fill="#808080" text-anchor="middle" textLength="137" lengthAdjust="spacingAndGlyphs" stroke="#808080" stroke-width="0.35">N = 10, n = 423</text>
<line x1="1055.0" y1="84.0" x2="1055.0" y2="311.0" stroke="#222" stroke-width="1.9"/>
<line x1="1055.0" y1="311.0" x2="1501.0" y2="311.0" stroke="#222" stroke-width="1.9"/>
<text x="1045.5" y="319.7" font-size="24.5" font-family="'Liberation Sans', Arial, sans-serif" fill="#1a1a1a" text-anchor="end" textLength="12.5" lengthAdjust="spacingAndGlyphs">0</text>
<text x="1045.5" y="262.9" font-size="24.5" font-family="'Liberation Sans', Arial, sans-serif" fill="#1a1a1a" text-anchor="end" textLength="37.5" lengthAdjust="spacingAndGlyphs">500</text>
<text x="1045.5" y="206.2" font-size="24.5" font-family="'Liberation Sans', Arial, sans-serif" fill="#1a1a1a" text-anchor="end" textLength="50.0" lengthAdjust="spacingAndGlyphs">1000</text>
<text x="1045.5" y="149.4" font-size="24.5" font-family="'Liberation Sans', Arial, sans-serif" fill="#1a1a1a" text-anchor="end" textLength="50.0" lengthAdjust="spacingAndGlyphs">1500</text>
<text x="1045.5" y="92.7" font-size="24.5" font-family="'Liberation Sans', Arial, sans-serif" fill="#1a1a1a" text-anchor="end" textLength="50.0" lengthAdjust="spacingAndGlyphs">2000</text>
<text x="1061.0" y="54.0" font-size="20" font-family="'DejaVu Sans', 'Liberation Sans', sans-serif" fill="#000" textLength="428" lengthAdjust="spacingAndGlyphs" stroke="#000" stroke-width="0.35">Averaged distance across a 25min window</text>
<path d="M1132.0,253.7 L1132.2,254.7 L1132.4,255.7 L1132.6,256.7 L1132.9,257.7 L1133.1,258.7 L1133.4,259.7 L1133.7,260.7 L1134.0,261.7 L1134.5,262.7 L1134.9,263.7 L1135.4,264.7 L1136.0,265.7 L1136.6,266.7 L1137.3,267.7 L1138.0,268.7 L1138.7,269.7 L1139.6,270.7 L1140.4,271.7 L1141.3,272.7 L1142.3,273.7 L1143.3,274.7 L1144.6,275.7 L1146.1,276.7 L1147.9,277.7 L1149.8,278.7 L1151.7,279.7 L1153.8,280.7 L1155.9,281.7 L1157.9,282.7 L1159.9,283.7 L1161.8,284.7 L1163.6,285.7 L1165.6,286.7 L1167.8,287.7 L1170.0,288.7 L1172.1,289.7 L1174.0,290.7 L1175.5,291.7 L1176.5,292.7 L1176.9,293.7 L1176.3,294.7 L1174.5,295.7 L1171.7,296.7 L1168.5,297.7 L1165.0,298.7 L1161.7,299.7 L1158.8,300.7 L1155.8,301.7 L1152.8,302.7 L1149.7,303.7 L1146.6,304.7 L1143.8,305.7 L1141.1,306.7 L1138.8,307.7 L1136.7,308.7 L1134.6,309.7 L1132.6,310.7 L1132.0,311.0 L1131.6,311.0 L1131.0,310.7 L1129.0,309.7 L1126.9,308.7 L1124.8,307.7 L1122.5,306.7 L1119.8,305.7 L1117.0,304.7 L1113.9,303.7 L1110.8,302.7 L1107.8,301.7 L1104.8,300.7 L1101.9,299.7 L1098.6,298.7 L1095.1,297.7 L1091.9,296.7 L1089.1,295.7 L1087.3,294.7 L1086.7,293.7 L1087.1,292.7 L1088.1,291.7 L1089.6,290.7 L1091.5,289.7 L1093.6,288.7 L1095.8,287.7 L1098.0,286.7 L1100.0,285.7 L1101.8,284.7 L1103.7,283.7 L1105.7,282.7 L1107.7,281.7 L1109.8,280.7 L1111.9,279.7 L1113.8,278.7 L1115.7,277.7 L1117.5,276.7 L1119.0,275.7 L1120.3,274.7 L1121.3,273.7 L1122.3,272.7 L1123.2,271.7 L1124.0,270.7 L1124.9,269.7 L1125.6,268.7 L1126.3,267.7 L1127.0,266.7 L1127.6,265.7 L1128.2,264.7 L1128.7,263.7 L1129.1,262.7 L1129.6,261.7 L1129.9,260.7 L1130.2,259.7 L1130.5,258.7 L1130.7,257.7 L1131.0,256.7 L1131.2,255.7 L1131.4,254.7 L1131.6,253.7 Z" fill="#f2d390" stroke="#000" stroke-width="1.8" stroke-linejoin="round"/>
<line x1="1131.8" y1="262.0" x2="1131.8" y2="310.0" stroke="#808080" stroke-width="1.6"/>
<rect x="1127.8" y="286.0" width="8.0" height="12.0" fill="#808080"/>
<circle cx="1131.8" cy="292.7" r="5.4" fill="#fff" stroke="#8a8a8a" stroke-width="1.5"/>
<line x1="1089.1" y1="292.7" x2="1174.5" y2="292.7" stroke="#000" stroke-width="5"/>
<rect x="1129.6" y="291.2" width="4.4" height="3" fill="#fff" opacity="0.0"/>
<path d="M1284.4,164.8 L1284.4,165.8 L1284.4,166.8 L1284.4,167.8 L1284.4,168.8 L1284.4,169.8 L1284.4,170.8 L1284.4,171.8 L1284.4,172.8 L1284.4,173.8 L1284.4,174.8 L1284.4,175.8 L1284.4,176.8 L1284.4,177.8 L1284.4,178.8 L1284.4,179.8 L1284.4,180.8 L1284.4,181.8 L1284.4,182.8 L1284.4,183.8 L1284.4,184.8 L1284.4,185.8 L1284.4,186.8 L1284.4,187.8 L1284.4,188.8 L1284.4,189.8 L1284.4,190.8 L1284.4,191.8 L1284.4,192.8 L1284.4,193.8 L1284.4,194.8 L1284.4,195.8 L1284.4,196.8 L1284.4,197.8 L1284.4,198.8 L1284.4,199.8 L1284.4,200.8 L1284.4,201.8 L1284.5,202.8 L1284.5,203.8 L1284.5,204.8 L1284.5,205.8 L1284.5,206.8 L1284.5,207.8 L1284.5,208.8 L1284.6,209.8 L1284.8,210.8 L1285.2,211.8 L1285.6,212.8 L1285.9,213.8 L1286.2,214.8 L1286.3,215.8 L1286.3,216.8 L1286.2,217.8 L1286.2,218.8 L1286.1,219.8 L1285.9,220.8 L1285.8,221.8 L1285.7,222.8 L1285.4,223.8 L1285.1,224.8 L1284.9,225.8 L1284.8,226.8 L1285.1,227.8 L1285.6,228.8 L1286.4,229.8 L1287.1,230.8 L1288.0,231.8 L1289.0,232.8 L1290.2,233.8 L1291.6,234.8 L1293.0,235.8 L1294.6,236.8 L1296.2,237.8 L1297.8,238.8 L1299.5,239.8 L1301.2,240.8 L1302.8,241.8 L1304.4,242.8 L1306.2,243.8 L1308.0,244.8 L1309.8,245.8 L1311.7,246.8 L1313.5,247.8 L1315.3,248.8 L1317.0,249.8 L1318.7,250.8 L1320.5,251.8 L1322.5,252.8 L1324.4,253.8 L1326.2,254.8 L1327.7,255.8 L1328.8,256.8 L1329.3,257.8 L1328.9,258.8 L1327.7,259.8 L1325.6,260.8 L1323.1,261.8 L1320.4,262.8 L1317.6,263.8 L1315.0,264.8 L1312.9,265.8 L1310.9,266.8 L1308.9,267.8 L1306.8,268.8 L1304.8,269.8 L1302.8,270.8 L1300.9,271.8 L1299.1,272.8 L1297.5,273.8 L1296.1,274.8 L1295.0,275.8 L1294.1,276.8 L1293.3,277.8 L1292.5,278.8 L1291.8,279.8 L1291.2,280.8 L1290.6,281.8 L1290.0,282.8 L1289.5,283.8 L1289.0,284.8 L1288.6,285.8 L1288.2,286.8 L1287.8,287.8 L1287.5,288.8 L1287.2,289.8 L1286.9,290.8 L1286.7,291.8 L1286.4,292.8 L1286.2,293.8 L1286.0,294.8 L1285.8,295.8 L1285.6,296.8 L1285.4,297.8 L1285.2,298.8 L1285.1,299.8 L1285.0,300.8 L1284.9,301.8 L1284.8,302.8 L1284.7,303.8 L1284.6,304.8 L1284.6,305.8 L1284.5,306.8 L1284.5,307.8 L1284.5,308.8 L1284.4,309.8 L1284.4,310.8 L1284.4,311.0 L1284.0,311.0 L1284.0,310.8 L1284.0,309.8 L1283.9,308.8 L1283.9,307.8 L1283.9,306.8 L1283.8,305.8 L1283.8,304.8 L1283.7,303.8 L1283.6,302.8 L1283.5,301.8 L1283.4,300.8 L1283.3,299.8 L1283.2,298.8 L1283.0,297.8 L1282.8,296.8 L1282.6,295.8 L1282.4,294.8 L1282.2,293.8 L1282.0,292.8 L1281.7,291.8 L1281.5,290.8 L1281.2,289.8 L1280.9,288.8 L1280.6,287.8 L1280.2,286.8 L1279.8,285.8 L1279.4,284.8 L1278.9,283.8 L1278.4,282.8 L1277.8,281.8 L1277.2,280.8 L1276.6,279.8 L1275.9,278.8 L1275.1,277.8 L1274.3,276.8 L1273.4,275.8 L1272.3,274.8 L1270.9,273.8 L1269.3,272.8 L1267.5,271.8 L1265.6,270.8 L1263.6,269.8 L1261.6,268.8 L1259.5,267.8 L1257.5,266.8 L1255.5,265.8 L1253.4,264.8 L1250.8,263.8 L1248.0,262.8 L1245.3,261.8 L1242.8,260.8 L1240.7,259.8 L1239.5,258.8 L1239.1,257.8 L1239.6,256.8 L1240.7,255.8 L1242.2,254.8 L1244.0,253.8 L1245.9,252.8 L1247.9,251.8 L1249.7,250.8 L1251.4,249.8 L1253.1,248.8 L1254.9,247.8 L1256.7,246.8 L1258.6,245.8 L1260.4,244.8 L1262.2,243.8 L1264.0,242.8 L1265.6,241.8 L1267.2,240.8 L1268.9,239.8 L1270.6,238.8 L1272.2,237.8 L1273.8,236.8 L1275.4,235.8 L1276.8,234.8 L1278.2,233.8 L1279.4,232.8 L1280.4,231.8 L1281.3,230.8 L1282.0,229.8 L1282.8,228.8 L1283.3,227.8 L1283.6,226.8 L1283.5,225.8 L1283.3,224.8 L1283.0,223.8 L1282.7,222.8 L1282.6,221.8 L1282.5,220.8 L1282.3,219.8 L1282.2,218.8 L1282.2,217.8 L1282.1,216.8 L1282.1,215.8 L1282.2,214.8 L1282.5,213.8 L1282.8,212.8 L1283.2,211.8 L1283.6,210.8 L1283.8,209.8 L1283.9,208.8 L1283.9,207.8 L1283.9,206.8 L1283.9,205.8 L1283.9,204.8 L1283.9,203.8 L1283.9,202.8 L1284.0,201.8 L1284.0,200.8 L1284.0,199.8 L1284.0,198.8 L1284.0,197.8 L1284.0,196.8 L1284.0,195.8 L1284.0,194.8 L1284.0,193.8 L1284.0,192.8 L1284.0,191.8 L1284.0,190.8 L1284.0,189.8 L1284.0,188.8 L1284.0,187.8 L1284.0,186.8 L1284.0,185.8 L1284.0,184.8 L1284.0,183.8 L1284.0,182.8 L1284.0,181.8 L1284.0,180.8 L1284.0,179.8 L1284.0,178.8 L1284.0,177.8 L1284.0,176.8 L1284.0,175.8 L1284.0,174.8 L1284.0,173.8 L1284.0,172.8 L1284.0,171.8 L1284.0,170.8 L1284.0,169.8 L1284.0,168.8 L1284.0,167.8 L1284.0,166.8 L1284.0,165.8 L1284.0,164.8 Z" fill="#f2d390" stroke="#000" stroke-width="1.8" stroke-linejoin="round"/>
<line x1="1284.2" y1="228.0" x2="1284.2" y2="305.0" stroke="#808080" stroke-width="1.6"/>
<rect x="1280.2" y="248.0" width="8.0" height="14.4" fill="#808080"/>
<circle cx="1284.2" cy="257.4" r="5.4" fill="#fff" stroke="#8a8a8a" stroke-width="1.5"/>
<line x1="1240.6" y1="257.4" x2="1327.8" y2="257.4" stroke="#000" stroke-width="5"/>
<rect x="1282.0" y="255.9" width="4.4" height="3" fill="#fff" opacity="0.0"/>
<path d="M1436.7,102.0 L1436.7,103.0 L1436.7,104.0 L1436.7,105.0 L1436.7,106.0 L1436.8,107.0 L1436.8,108.0 L1436.8,109.0 L1436.8,110.0 L1436.8,111.0 L1436.8,112.0 L1436.8,113.0 L1436.8,114.0 L1436.8,115.0 L1436.8,116.0 L1436.8,117.0 L1436.9,118.0 L1436.9,119.0 L1436.9,120.0 L1436.9,121.0 L1436.9,122.0 L1436.9,123.0 L1436.9,124.0 L1436.9,125.0 L1436.9,126.0 L1436.9,127.0 L1436.9,128.0 L1436.9,129.0 L1436.9,130.0 L1436.9,131.0 L1437.0,132.0 L1437.0,133.0 L1437.0,134.0 L1437.0,135.0 L1437.0,136.0 L1437.0,137.0 L1437.0,138.0 L1437.0,139.0 L1437.0,140.0 L1437.0,141.0 L1437.0,142.0 L1437.1,143.0 L1437.1,144.0 L1437.1,145.0 L1437.1,146.0 L1437.1,147.0 L1437.1,148.0 L1437.1,149.0 L1437.2,150.0 L1437.2,151.0 L1437.2,152.0 L1437.2,153.0 L1437.2,154.0 L1437.2,155.0 L1437.3,156.0 L1437.3,157.0 L1437.3,158.0 L1437.3,159.0 L1437.3,160.0 L1437.4,161.0 L1437.4,162.0 L1437.4,163.0 L1437.4,164.0 L1437.5,165.0 L1437.5,166.0 L1437.5,167.0 L1437.6,168.0 L1437.7,169.0 L1437.9,170.0 L1438.0,171.0 L1438.2,172.0 L1438.4,173.0 L1438.6,174.0 L1438.9,175.0 L1439.2,176.0 L1439.5,177.0 L1439.8,178.0 L1440.1,179.0 L1440.4,180.0 L1440.8,181.0 L1441.1,182.0 L1441.5,183.0 L1441.9,184.0 L1442.5,185.0 L1443.2,186.0 L1443.9,187.0 L1444.7,188.0 L1445.6,189.0 L1446.6,190.0 L1447.6,191.0 L1448.6,192.0 L1449.7,193.0 L1450.7,194.0 L1451.7,195.0 L1452.7,196.0 L1453.7,197.0 L1454.6,198.0 L1455.5,199.0 L1456.4,200.0 L1457.3,201.0 L1458.2,202.0 L1459.1,203.0 L1460.0,204.0 L1461.0,205.0 L1461.9,206.0 L1462.8,207.0 L1463.7,208.0 L1464.6,209.0 L1465.4,210.0 L1466.3,211.0 L1467.2,212.0 L1468.0,213.0 L1468.8,214.0 L1469.6,215.0 L1470.4,216.0 L1471.1,217.0 L1471.9,218.0 L1472.6,219.0 L1473.4,220.0 L1474.1,221.0 L1474.8,222.0 L1475.5,223.0 L1476.2,224.0 L1476.9,225.0 L1477.5,226.0 L1478.0,227.0 L1478.5,228.0 L1479.0,229.0 L1479.4,230.0 L1479.9,231.0 L1480.4,232.0 L1480.8,233.0 L1481.2,234.0 L1481.5,235.0 L1481.7,236.0 L1481.8,237.0 L1481.7,238.0 L1481.0,239.0 L1479.9,240.0 L1478.3,241.0 L1476.4,242.0 L1474.3,243.0 L1472.1,244.0 L1469.9,245.0 L1467.7,246.0 L1465.7,247.0 L1464.0,248.0 L1462.5,249.0 L1461.0,250.0 L1459.5,251.0 L1458.0,252.0 L1456.5,253.0 L1455.1,254.0 L1453.7,255.0 L1452.3,256.0 L1451.1,257.0 L1449.8,258.0 L1448.7,259.0 L1447.7,260.0 L1446.8,261.0 L1445.9,262.0 L1445.1,263.0 L1444.3,264.0 L1443.6,265.0 L1442.8,266.0 L1442.1,267.0 L1441.5,268.0 L1440.9,269.0 L1440.3,270.0 L1439.8,271.0 L1439.3,272.0 L1438.9,273.0 L1438.6,274.0 L1438.3,275.0 L1438.0,276.0 L1437.8,277.0 L1437.6,278.0 L1437.5,279.0 L1437.5,280.0 L1437.4,281.0 L1437.4,282.0 L1437.4,283.0 L1437.3,284.0 L1437.3,285.0 L1437.3,286.0 L1437.3,287.0 L1437.3,288.0 L1437.2,289.0 L1437.2,290.0 L1437.2,291.0 L1437.2,292.0 L1437.2,293.0 L1437.2,294.0 L1437.2,295.0 L1437.2,296.0 L1437.1,297.0 L1437.1,298.0 L1437.1,299.0 L1437.1,300.0 L1437.1,301.0 L1437.1,302.0 L1437.1,303.0 L1437.1,304.0 L1437.1,305.0 L1437.1,306.0 L1437.1,307.0 L1437.0,308.0 L1437.0,309.0 L1437.0,310.0 L1437.0,311.0 L1435.8,311.0 L1435.8,310.0 L1435.8,309.0 L1435.8,308.0 L1435.7,307.0 L1435.7,306.0 L1435.7,305.0 L1435.7,304.0 L1435.7,303.0 L1435.7,302.0 L1435.7,301.0 L1435.7,300.0 L1435.7,299.0 L1435.7,298.0 L1435.7,297.0 L1435.6,296.0 L1435.6,295.0 L1435.6,294.0 L1435.6,293.0 L1435.6,292.0 L1435.6,291.0 L1435.6,290.0 L1435.6,289.0 L1435.5,288.0 L1435.5,287.0 L1435.5,286.0 L1435.5,285.0 L1435.5,284.0 L1435.4,283.0 L1435.4,282.0 L1435.4,281.0 L1435.3,280.0 L1435.3,279.0 L1435.2,278.0 L1435.0,277.0 L1434.8,276.0 L1434.5,275.0 L1434.2,274.0 L1433.9,273.0 L1433.5,272.0 L1433.0,271.0 L1432.5,270.0 L1431.9,269.0 L1431.3,268.0 L1430.7,267.0 L1430.0,266.0 L1429.2,265.0 L1428.5,264.0 L1427.7,263.0 L1426.9,262.0 L1426.0,261.0 L1425.1,260.0 L1424.1,259.0 L1423.0,258.0 L1421.7,257.0 L1420.5,256.0 L1419.1,255.0 L1417.7,254.0 L1416.3,253.0 L1414.8,252.0 L1413.3,251.0 L1411.8,250.0 L1410.3,249.0 L1408.8,248.0 L1407.1,247.0 L1405.1,246.0 L1402.9,245.0 L1400.7,244.0 L1398.5,243.0 L1396.4,242.0 L1394.5,241.0 L1392.9,240.0 L1391.8,239.0 L1391.1,238.0 L1391.0,237.0 L1391.1,236.0 L1391.3,235.0 L1391.6,234.0 L1392.0,233.0 L1392.4,232.0 L1392.9,231.0 L1393.4,230.0 L1393.8,229.0 L1394.3,228.0 L1394.8,227.0 L1395.3,226.0 L1395.9,225.0 L1396.6,224.0 L1397.3,223.0 L1398.0,222.0 L1398.7,221.0 L1399.4,220.0 L1400.2,219.0 L1400.9,218.0 L1401.7,217.0 L1402.4,216.0 L1403.2,215.0 L1404.0,214.0 L1404.8,213.0 L1405.6,212.0 L1406.5,211.0 L1407.4,210.0 L1408.2,209.0 L1409.1,208.0 L1410.0,207.0 L1410.9,206.0 L1411.8,205.0 L1412.8,204.0 L1413.7,203.0 L1414.6,202.0 L1415.5,201.0 L1416.4,200.0 L1417.3,199.0 L1418.2,198.0 L1419.1,197.0 L1420.1,196.0 L1421.1,195.0 L1422.1,194.0 L1423.1,193.0 L1424.2,192.0 L1425.2,191.0 L1426.2,190.0 L1427.2,189.0 L1428.1,188.0 L1428.9,187.0 L1429.6,186.0 L1430.3,185.0 L1430.9,184.0 L1431.3,183.0 L1431.7,182.0 L1432.0,181.0 L1432.4,180.0 L1432.7,179.0 L1433.0,178.0 L1433.3,177.0 L1433.6,176.0 L1433.9,175.0 L1434.2,174.0 L1434.4,173.0 L1434.6,172.0 L1434.8,171.0 L1434.9,170.0 L1435.1,169.0 L1435.2,168.0 L1435.3,167.0 L1435.3,166.0 L1435.3,165.0 L1435.4,164.0 L1435.4,163.0 L1435.4,162.0 L1435.4,161.0 L1435.5,160.0 L1435.5,159.0 L1435.5,158.0 L1435.5,157.0 L1435.5,156.0 L1435.6,155.0 L1435.6,154.0 L1435.6,153.0 L1435.6,152.0 L1435.6,151.0 L1435.6,150.0 L1435.7,149.0 L1435.7,148.0 L1435.7,147.0 L1435.7,146.0 L1435.7,145.0 L1435.7,144.0 L1435.7,143.0 L1435.8,142.0 L1435.8,141.0 L1435.8,140.0 L1435.8,139.0 L1435.8,138.0 L1435.8,137.0 L1435.8,136.0 L1435.8,135.0 L1435.8,134.0 L1435.8,133.0 L1435.8,132.0 L1435.9,131.0 L1435.9,130.0 L1435.9,129.0 L1435.9,128.0 L1435.9,127.0 L1435.9,126.0 L1435.9,125.0 L1435.9,124.0 L1435.9,123.0 L1435.9,122.0 L1435.9,121.0 L1435.9,120.0 L1435.9,119.0 L1435.9,118.0 L1436.0,117.0 L1436.0,116.0 L1436.0,115.0 L1436.0,114.0 L1436.0,113.0 L1436.0,112.0 L1436.0,111.0 L1436.0,110.0 L1436.0,109.0 L1436.0,108.0 L1436.0,107.0 L1436.1,106.0 L1436.1,105.0 L1436.1,104.0 L1436.1,103.0 L1436.1,102.0 Z" fill="#f2d390" stroke="#000" stroke-width="1.8" stroke-linejoin="round"/>
<line x1="1436.4" y1="185.0" x2="1436.4" y2="278.0" stroke="#808080" stroke-width="1.6"/>
<rect x="1432.4" y="220.0" width="8.0" height="23.0" fill="#808080"/>
<circle cx="1436.4" cy="234.2" r="5.4" fill="#fff" stroke="#8a8a8a" stroke-width="1.5"/>
<line x1="1392.7" y1="234.2" x2="1480.1" y2="234.2" stroke="#000" stroke-width="5"/>
<rect x="1434.2" y="232.7" width="4.4" height="3" fill="#fff" opacity="0.0"/>
<text x="1122.7" y="341.3" font-size="17.5" font-family="'DejaVu Sans', 'Liberation Sans', sans-serif" fill="#111" text-anchor="middle" textLength="135.6" lengthAdjust="spacingAndGlyphs" stroke="#111" stroke-width="0.35">Co-localization</text>
<text x="1122.7" y="365.3" font-size="17.5" font-family="'DejaVu Sans', 'Liberation Sans', sans-serif" fill="#111" text-anchor="middle" textLength="65" lengthAdjust="spacingAndGlyphs" stroke="#111" stroke-width="0.35">control</text>
<text x="1122.7" y="384.7" font-size="17.5" font-family="'DejaVu Sans', 'Liberation Sans', sans-serif" fill="#808080" text-anchor="middle" textLength="127.6" lengthAdjust="spacingAndGlyphs" stroke="#808080" stroke-width="0.35">N = 3, n = 250</text>
<text x="1285.0" y="341.3" font-size="17.5" font-family="'DejaVu Sans', 'Liberation Sans', sans-serif" fill="#111" text-anchor="middle" textLength="84.4" lengthAdjust="spacingAndGlyphs" stroke="#111" stroke-width="0.35">Scyl-chrb</text>
<text x="1285.0" y="365.3" font-size="17.5" font-family="'DejaVu Sans', 'Liberation Sans', sans-serif" fill="#808080" text-anchor="middle" textLength="126" lengthAdjust="spacingAndGlyphs" stroke="#808080" stroke-width="0.35">N = 6, n = 440</text>
<text x="1446.7" y="341.3" font-size="17.5" font-family="'DejaVu Sans', 'Liberation Sans', sans-serif" fill="#111" text-anchor="middle" textLength="77.4" lengthAdjust="spacingAndGlyphs" stroke="#111" stroke-width="0.35">Chrb-CG</text>
<text x="1446.7" y="365.3" font-size="17.5" font-family="'DejaVu Sans', 'Liberation Sans', sans-serif" fill="#808080" text-anchor="middle" textLength="138" lengthAdjust="spacingAndGlyphs" stroke="#808080" stroke-width="0.35">N = 10, n = 423</text>
<line x1="1635.0" y1="82.0" x2="1635.0" y2="308.0" stroke="#222" stroke-width="1.9"/>
<line x1="1635.0" y1="308.0" x2="2092.0" y2="308.0" stroke="#222" stroke-width="1.9"/>
<text x="1626.5" y="316.7" font-size="24.5" font-family="'Liberation Sans', Arial, sans-serif" fill="#1a1a1a" text-anchor="end" textLength="12.5" lengthAdjust="spacingAndGlyphs">0</text>
<text x="1626.5" y="260.2" font-size="24.5" font-family="'Liberation Sans', Arial, sans-serif" fill="#1a1a1a" text-anchor="end" textLength="37.5" lengthAdjust="spacingAndGlyphs">500</text>
<text x="1626.5" y="203.7" font-size="24.5" font-family="'Liberation Sans', Arial, sans-serif" fill="#1a1a1a" text-anchor="end" textLength="50.0" lengthAdjust="spacingAndGlyphs">1000</text>
<text x="1626.5" y="147.2" font-size="24.5" font-family="'Liberation Sans', Arial, sans-serif" fill="#1a1a1a" text-anchor="end" textLength="50.0" lengthAdjust="spacingAndGlyphs">1500</text>
<text x="1626.5" y="90.7" font-size="24.5" font-family="'Liberation Sans', Arial, sans-serif" fill="#1a1a1a" text-anchor="end" textLength="50.0" lengthAdjust="spacingAndGlyphs">2000</text>
<text x="1682.0" y="52.5" font-size="20" font-family="'DejaVu Sans', 'Liberation Sans', sans-serif" fill="#000" textLength="379" lengthAdjust="spacingAndGlyphs" stroke="#000" stroke-width="0.35">95 percentile distance across a 25min</text>
<path d="M1713.0,91.5 L1713.0,92.5 L1713.0,93.5 L1713.0,94.5 L1713.0,95.5 L1713.0,96.5 L1713.0,97.5 L1713.1,98.5 L1713.1,99.5 L1713.1,100.5 L1713.1,101.5 L1713.1,102.5 L1713.1,103.5 L1713.1,104.5 L1713.2,105.5 L1713.2,106.5 L1713.2,107.5 L1713.2,108.5 L1713.2,109.5 L1713.2,110.5 L1713.2,111.5 L1713.2,112.5 L1713.3,113.5 L1713.3,114.5 L1713.3,115.5 L1713.3,116.5 L1713.3,117.5 L1713.3,118.5 L1713.3,119.5 L1713.3,120.5 L1713.3,121.5 L1713.4,122.5 L1713.4,123.5 L1713.4,124.5 L1713.4,125.5 L1713.4,126.5 L1713.4,127.5 L1713.4,128.5 L1713.4,129.5 L1713.5,130.5 L1713.5,131.5 L1713.5,132.5 L1713.5,133.5 L1713.5,134.5 L1713.5,135.5 L1713.5,136.5 L1713.5,137.5 L1713.6,138.5 L1713.6,139.5 L1713.6,140.5 L1713.6,141.5 L1713.6,142.5 L1713.6,143.5 L1713.6,144.5 L1713.7,145.5 L1713.7,146.5 L1713.7,147.5 L1713.7,148.5 L1713.7,149.5 L1713.7,150.5 L1713.8,151.5 L1713.8,152.5 L1713.8,153.5 L1713.8,154.5 L1713.8,155.5 L1713.9,156.5 L1713.9,157.5 L1713.9,158.5 L1713.9,159.5 L1714.0,160.5 L1714.0,161.5 L1714.0,162.5 L1714.0,163.5 L1714.1,164.5 L1714.1,165.5 L1714.1,166.5 L1714.1,167.5 L1714.2,168.5 L1714.2,169.5 L1714.2,170.5 L1714.3,171.5 L1714.3,172.5 L1714.3,173.5 L1714.3,174.5 L1714.4,175.5 L1714.4,176.5 L1714.5,177.5 L1714.5,178.5 L1714.6,179.5 L1714.6,180.5 L1714.7,181.5 L1714.8,182.5 L1714.9,183.5 L1715.0,184.5 L1715.1,185.5 L1715.2,186.5 L1715.3,187.5 L1715.4,188.5 L1715.5,189.5 L1715.6,190.5 L1715.8,191.5 L1715.9,192.5 L1716.1,193.5 L1716.2,194.5 L1716.3,195.5 L1716.5,196.5 L1716.7,197.5 L1716.8,198.5 L1717.0,199.5 L1717.2,200.5 L1717.4,201.5 L1717.7,202.5 L1717.9,203.5 L1718.2,204.5 L1718.5,205.5 L1718.8,206.5 L1719.1,207.5 L1719.4,208.5 L1719.7,209.5 L1720.1,210.5 L1720.4,211.5 L1720.7,212.5 L1721.0,213.5 L1721.3,214.5 L1721.6,215.5 L1721.9,216.5 L1722.3,217.5 L1722.7,218.5 L1723.0,219.5 L1723.5,220.5 L1723.9,221.5 L1724.4,222.5 L1724.9,223.5 L1725.5,224.5 L1726.1,225.5 L1726.8,226.5 L1727.5,227.5 L1728.1,228.5 L1728.8,229.5 L1729.6,230.5 L1730.3,231.5 L1731.0,232.5 L1731.7,233.5 L1732.5,234.5 L1733.3,235.5 L1734.1,236.5 L1734.9,237.5 L1735.7,238.5 L1736.5,239.5 L1737.3,240.5 L1738.0,241.5 L1738.8,242.5 L1739.5,243.5 L1740.3,244.5 L1741.0,245.5 L1741.7,246.5 L1742.4,247.5 L1743.1,248.5 L1743.8,249.5 L1744.5,250.5 L1745.2,251.5 L1745.9,252.5 L1746.6,253.5 L1747.2,254.5 L1747.9,255.5 L1748.6,256.5 L1749.3,257.5 L1750.0,258.5 L1750.7,259.5 L1751.4,260.5 L1752.1,261.5 L1752.8,262.5 L1753.5,263.5 L1754.1,264.5 L1754.7,265.5 L1755.2,266.5 L1755.7,267.5 L1756.2,268.5 L1756.5,269.5 L1756.9,270.5 L1757.2,271.5 L1757.5,272.5 L1757.7,273.5 L1757.9,274.5 L1757.9,275.5 L1757.7,276.5 L1757.2,277.5 L1756.5,278.5 L1755.5,279.5 L1754.4,280.5 L1753.2,281.5 L1751.8,282.5 L1750.4,283.5 L1749.0,284.5 L1747.6,285.5 L1746.3,286.5 L1745.0,287.5 L1743.7,288.5 L1742.3,289.5 L1740.8,290.5 L1739.3,291.5 L1737.7,292.5 L1736.1,293.5 L1734.5,294.5 L1732.9,295.5 L1731.3,296.5 L1729.7,297.5 L1728.1,298.5 L1726.5,299.5 L1724.8,300.5 L1723.1,301.5 L1721.5,302.5 L1719.8,303.5 L1718.2,304.5 L1716.6,305.5 L1715.0,306.5 L1713.6,307.5 L1713.0,308.0 L1712.6,308.0 L1712.0,307.5 L1710.6,306.5 L1709.0,305.5 L1707.4,304.5 L1705.8,303.5 L1704.1,302.5 L1702.5,301.5 L1700.8,300.5 L1699.1,299.5 L1697.5,298.5 L1695.9,297.5 L1694.3,296.5 L1692.7,295.5 L1691.1,294.5 L1689.5,293.5 L1687.9,292.5 L1686.3,291.5 L1684.8,290.5 L1683.3,289.5 L1681.9,288.5 L1680.6,287.5 L1679.3,286.5 L1678.0,285.5 L1676.6,284.5 L1675.2,283.5 L1673.8,282.5 L1672.4,281.5 L1671.2,280.5 L1670.1,279.5 L1669.1,278.5 L1668.4,277.5 L1667.9,276.5 L1667.7,275.5 L1667.7,274.5 L1667.9,273.5 L1668.1,272.5 L1668.4,271.5 L1668.7,270.5 L1669.1,269.5 L1669.4,268.5 L1669.9,267.5 L1670.4,266.5 L1670.9,265.5 L1671.5,264.5 L1672.1,263.5 L1672.8,262.5 L1673.5,261.5 L1674.2,260.5 L1674.9,259.5 L1675.6,258.5 L1676.3,257.5 L1677.0,256.5 L1677.7,255.5 L1678.4,254.5 L1679.0,253.5 L1679.7,252.5 L1680.4,251.5 L1681.1,250.5 L1681.8,249.5 L1682.5,248.5 L1683.2,247.5 L1683.9,246.5 L1684.6,245.5 L1685.3,244.5 L1686.1,243.5 L1686.8,242.5 L1687.6,241.5 L1688.3,240.5 L1689.1,239.5 L1689.9,238.5 L1690.7,237.5 L1691.5,236.5 L1692.3,235.5 L1693.1,234.5 L1693.9,233.5 L1694.6,232.5 L1695.3,231.5 L1696.0,230.5 L1696.8,229.5 L1697.5,228.5 L1698.1,227.5 L1698.8,226.5 L1699.5,225.5 L1700.1,224.5 L1700.7,223.5 L1701.2,222.5 L1701.7,221.5 L1702.1,220.5 L1702.6,219.5 L1702.9,218.5 L1703.3,217.5 L1703.7,216.5 L1704.0,215.5 L1704.3,214.5 L1704.6,213.5 L1704.9,212.5 L1705.2,211.5 L1705.5,210.5 L1705.9,209.5 L1706.2,208.5 L1706.5,207.5 L1706.8,206.5 L1707.1,205.5 L1707.4,204.5 L1707.7,203.5 L1707.9,202.5 L1708.2,201.5 L1708.4,200.5 L1708.6,199.5 L1708.8,198.5 L1708.9,197.5 L1709.1,196.5 L1709.3,195.5 L1709.4,194.5 L1709.5,193.5 L1709.7,192.5 L1709.8,191.5 L1710.0,190.5 L1710.1,189.5 L1710.2,188.5 L1710.3,187.5 L1710.4,186.5 L1710.5,185.5 L1710.6,184.5 L1710.7,183.5 L1710.8,182.5 L1710.9,181.5 L1711.0,180.5 L1711.0,179.5 L1711.1,178.5 L1711.1,177.5 L1711.2,176.5 L1711.2,175.5 L1711.3,174.5 L1711.3,173.5 L1711.3,172.5 L1711.3,171.5 L1711.4,170.5 L1711.4,169.5 L1711.4,168.5 L1711.5,167.5 L1711.5,166.5 L1711.5,165.5 L1711.5,164.5 L1711.6,163.5 L1711.6,162.5 L1711.6,161.5 L1711.6,160.5 L1711.7,159.5 L1711.7,158.5 L1711.7,157.5 L1711.7,156.5 L1711.8,155.5 L1711.8,154.5 L1711.8,153.5 L1711.8,152.5 L1711.8,151.5 L1711.9,150.5 L1711.9,149.5 L1711.9,148.5 L1711.9,147.5 L1711.9,146.5 L1711.9,145.5 L1712.0,144.5 L1712.0,143.5 L1712.0,142.5 L1712.0,141.5 L1712.0,140.5 L1712.0,139.5 L1712.0,138.5 L1712.1,137.5 L1712.1,136.5 L1712.1,135.5 L1712.1,134.5 L1712.1,133.5 L1712.1,132.5 L1712.1,131.5 L1712.1,130.5 L1712.2,129.5 L1712.2,128.5 L1712.2,127.5 L1712.2,126.5 L1712.2,125.5 L1712.2,124.5 L1712.2,123.5 L1712.2,122.5 L1712.3,121.5 L1712.3,120.5 L1712.3,119.5 L1712.3,118.5 L1712.3,117.5 L1712.3,116.5 L1712.3,115.5 L1712.3,114.5 L1712.3,113.5 L1712.4,112.5 L1712.4,111.5 L1712.4,110.5 L1712.4,109.5 L1712.4,108.5 L1712.4,107.5 L1712.4,106.5 L1712.4,105.5 L1712.5,104.5 L1712.5,103.5 L1712.5,102.5 L1712.5,101.5 L1712.5,100.5 L1712.5,99.5 L1712.5,98.5 L1712.6,97.5 L1712.6,96.5 L1712.6,95.5 L1712.6,94.5 L1712.6,93.5 L1712.6,92.5 L1712.6,91.5 Z" fill="#f2d390" stroke="#000" stroke-width="1.8" stroke-linejoin="round"/>
<line x1="1712.8" y1="216.5" x2="1712.8" y2="303.0" stroke="#808080" stroke-width="1.6"/>
<rect x="1708.8" y="255.4" width="8.0" height="26.6" fill="#808080"/>
<circle cx="1712.8" cy="271.3" r="5.4" fill="#fff" stroke="#8a8a8a" stroke-width="1.5"/>
<line x1="1669.2" y1="271.3" x2="1756.4" y2="271.3" stroke="#000" stroke-width="5"/>
<rect x="1710.6" y="269.8" width="4.4" height="3" fill="#fff" opacity="0.0"/>
<path d="M1867.7,120.0 L1867.7,121.0 L1867.7,122.0 L1867.7,123.0 L1867.7,124.0 L1867.7,125.0 L1867.7,126.0 L1867.7,127.0 L1867.7,128.0 L1867.7,129.0 L1867.7,130.0 L1867.7,131.0 L1867.7,132.0 L1867.8,133.0 L1867.8,134.0 L1867.8,135.0 L1867.8,136.0 L1867.8,137.0 L1867.8,138.0 L1867.8,139.0 L1867.8,140.0 L1867.8,141.0 L1867.8,142.0 L1867.8,143.0 L1867.8,144.0 L1867.8,145.0 L1867.9,146.0 L1867.9,147.0 L1867.9,148.0 L1867.9,149.0 L1867.9,150.0 L1867.9,151.0 L1868.0,152.0 L1868.0,153.0 L1868.0,154.0 L1868.0,155.0 L1868.1,156.0 L1868.1,157.0 L1868.4,158.0 L1869.1,159.0 L1870.0,160.0 L1870.7,161.0 L1871.1,162.0 L1871.2,163.0 L1871.3,164.0 L1871.4,165.0 L1871.4,166.0 L1871.5,167.0 L1871.5,168.0 L1871.6,169.0 L1871.6,170.0 L1871.6,171.0 L1871.6,172.0 L1871.6,173.0 L1871.5,174.0 L1871.5,175.0 L1871.4,176.0 L1871.3,177.0 L1871.1,178.0 L1871.0,179.0 L1870.9,180.0 L1870.8,181.0 L1870.7,182.0 L1870.6,183.0 L1870.6,184.0 L1870.6,185.0 L1870.8,186.0 L1871.1,187.0 L1871.7,188.0 L1872.3,189.0 L1873.1,190.0 L1874.0,191.0 L1875.0,192.0 L1876.0,193.0 L1877.1,194.0 L1878.2,195.0 L1879.4,196.0 L1880.6,197.0 L1881.7,198.0 L1882.8,199.0 L1884.1,200.0 L1885.5,201.0 L1887.0,202.0 L1888.7,203.0 L1890.4,204.0 L1892.1,205.0 L1893.8,206.0 L1895.5,207.0 L1897.0,208.0 L1898.4,209.0 L1899.6,210.0 L1900.7,211.0 L1901.8,212.0 L1902.8,213.0 L1903.8,214.0 L1904.7,215.0 L1905.6,216.0 L1906.5,217.0 L1907.3,218.0 L1908.0,219.0 L1908.7,220.0 L1909.3,221.0 L1909.9,222.0 L1910.5,223.0 L1911.0,224.0 L1911.6,225.0 L1912.1,226.0 L1912.6,227.0 L1912.9,228.0 L1913.1,229.0 L1913.2,230.0 L1913.1,231.0 L1912.7,232.0 L1912.2,233.0 L1911.5,234.0 L1910.7,235.0 L1909.7,236.0 L1908.7,237.0 L1907.7,238.0 L1906.6,239.0 L1905.5,240.0 L1904.5,241.0 L1903.5,242.0 L1902.3,243.0 L1901.1,244.0 L1899.8,245.0 L1898.4,246.0 L1897.0,247.0 L1895.5,248.0 L1894.0,249.0 L1892.6,250.0 L1891.1,251.0 L1889.8,252.0 L1888.4,253.0 L1887.2,254.0 L1886.1,255.0 L1885.1,256.0 L1884.1,257.0 L1883.2,258.0 L1882.2,259.0 L1881.3,260.0 L1880.4,261.0 L1879.5,262.0 L1878.7,263.0 L1877.9,264.0 L1877.2,265.0 L1876.5,266.0 L1875.8,267.0 L1875.2,268.0 L1874.7,269.0 L1874.3,270.0 L1873.8,271.0 L1873.4,272.0 L1873.1,273.0 L1872.7,274.0 L1872.3,275.0 L1872.0,276.0 L1871.7,277.0 L1871.4,278.0 L1871.2,279.0 L1870.9,280.0 L1870.7,281.0 L1870.5,282.0 L1870.3,283.0 L1870.1,284.0 L1869.9,285.0 L1869.8,286.0 L1869.7,287.0 L1869.5,288.0 L1869.4,289.0 L1869.3,290.0 L1869.2,291.0 L1869.1,292.0 L1869.0,293.0 L1868.9,294.0 L1868.8,295.0 L1868.7,296.0 L1868.6,297.0 L1868.5,298.0 L1868.4,299.0 L1868.4,300.0 L1868.3,301.0 L1868.2,302.0 L1868.1,303.0 L1868.0,304.0 L1867.9,305.0 L1867.8,306.0 L1867.7,307.0 L1867.7,308.0 L1867.3,308.0 L1867.3,307.0 L1867.2,306.0 L1867.1,305.0 L1867.0,304.0 L1866.9,303.0 L1866.8,302.0 L1866.7,301.0 L1866.6,300.0 L1866.6,299.0 L1866.5,298.0 L1866.4,297.0 L1866.3,296.0 L1866.2,295.0 L1866.1,294.0 L1866.0,293.0 L1865.9,292.0 L1865.8,291.0 L1865.7,290.0 L1865.6,289.0 L1865.5,288.0 L1865.3,287.0 L1865.2,286.0 L1865.1,285.0 L1864.9,284.0 L1864.7,283.0 L1864.5,282.0 L1864.3,281.0 L1864.1,280.0 L1863.8,279.0 L1863.6,278.0 L1863.3,277.0 L1863.0,276.0 L1862.7,275.0 L1862.3,274.0 L1861.9,273.0 L1861.6,272.0 L1861.2,271.0 L1860.7,270.0 L1860.3,269.0 L1859.8,268.0 L1859.2,267.0 L1858.5,266.0 L1857.8,265.0 L1857.1,264.0 L1856.3,263.0 L1855.5,262.0 L1854.6,261.0 L1853.7,260.0 L1852.8,259.0 L1851.8,258.0 L1850.9,257.0 L1849.9,256.0 L1848.9,255.0 L1847.8,254.0 L1846.6,253.0 L1845.2,252.0 L1843.9,251.0 L1842.4,250.0 L1841.0,249.0 L1839.5,248.0 L1838.0,247.0 L1836.6,246.0 L1835.2,245.0 L1833.9,244.0 L1832.7,243.0 L1831.5,242.0 L1830.5,241.0 L1829.5,240.0 L1828.4,239.0 L1827.3,238.0 L1826.3,237.0 L1825.3,236.0 L1824.3,235.0 L1823.5,234.0 L1822.8,233.0 L1822.3,232.0 L1821.9,231.0 L1821.8,230.0 L1821.9,229.0 L1822.1,228.0 L1822.4,227.0 L1822.9,226.0 L1823.4,225.0 L1824.0,224.0 L1824.5,223.0 L1825.1,222.0 L1825.7,221.0 L1826.3,220.0 L1827.0,219.0 L1827.7,218.0 L1828.5,217.0 L1829.4,216.0 L1830.3,215.0 L1831.2,214.0 L1832.2,213.0 L1833.2,212.0 L1834.3,211.0 L1835.4,210.0 L1836.6,209.0 L1838.0,208.0 L1839.5,207.0 L1841.2,206.0 L1842.9,205.0 L1844.6,204.0 L1846.3,203.0 L1848.0,202.0 L1849.5,201.0 L1850.9,200.0 L1852.2,199.0 L1853.3,198.0 L1854.4,197.0 L1855.6,196.0 L1856.8,195.0 L1857.9,194.0 L1859.0,193.0 L1860.0,192.0 L1861.0,191.0 L1861.9,190.0 L1862.7,189.0 L1863.3,188.0 L1863.9,187.0 L1864.2,186.0 L1864.4,185.0 L1864.4,184.0 L1864.4,183.0 L1864.3,182.0 L1864.2,181.0 L1864.1,180.0 L1864.0,179.0 L1863.9,178.0 L1863.7,177.0 L1863.6,176.0 L1863.5,175.0 L1863.5,174.0 L1863.4,173.0 L1863.4,172.0 L1863.4,171.0 L1863.4,170.0 L1863.4,169.0 L1863.5,168.0 L1863.5,167.0 L1863.6,166.0 L1863.6,165.0 L1863.7,164.0 L1863.8,163.0 L1863.9,162.0 L1864.3,161.0 L1865.0,160.0 L1865.9,159.0 L1866.6,158.0 L1866.9,157.0 L1866.9,156.0 L1867.0,155.0 L1867.0,154.0 L1867.0,153.0 L1867.0,152.0 L1867.1,151.0 L1867.1,150.0 L1867.1,149.0 L1867.1,148.0 L1867.1,147.0 L1867.1,146.0 L1867.2,145.0 L1867.2,144.0 L1867.2,143.0 L1867.2,142.0 L1867.2,141.0 L1867.2,140.0 L1867.2,139.0 L1867.2,138.0 L1867.2,137.0 L1867.2,136.0 L1867.2,135.0 L1867.2,134.0 L1867.2,133.0 L1867.3,132.0 L1867.3,131.0 L1867.3,130.0 L1867.3,129.0 L1867.3,128.0 L1867.3,127.0 L1867.3,126.0 L1867.3,125.0 L1867.3,124.0 L1867.3,123.0 L1867.3,122.0 L1867.3,121.0 L1867.3,120.0 Z" fill="#f2d390" stroke="#000" stroke-width="1.8" stroke-linejoin="round"/>
<line x1="1867.5" y1="184.0" x2="1867.5" y2="300.0" stroke="#808080" stroke-width="1.6"/>
<rect x="1863.5" y="217.6" width="8.0" height="24.0" fill="#808080"/>
<circle cx="1867.5" cy="230.0" r="5.4" fill="#fff" stroke="#8a8a8a" stroke-width="1.5"/>
<line x1="1822.4" y1="230.0" x2="1912.6" y2="230.0" stroke="#000" stroke-width="5"/>
<rect x="1865.3" y="228.5" width="4.4" height="3" fill="#fff" opacity="0.0"/>
<path d="M2022.9,92.0 L2023.0,93.0 L2023.1,94.0 L2023.1,95.0 L2023.2,96.0 L2023.3,97.0 L2023.4,98.0 L2023.5,99.0 L2023.5,100.0 L2023.6,101.0 L2023.7,102.0 L2023.8,103.0 L2023.9,104.0 L2024.0,105.0 L2024.0,106.0 L2024.1,107.0 L2024.2,108.0 L2024.3,109.0 L2024.4,110.0 L2024.5,111.0 L2024.6,112.0 L2024.7,113.0 L2024.8,114.0 L2024.9,115.0 L2025.0,116.0 L2025.1,117.0 L2025.2,118.0 L2025.3,119.0 L2025.4,120.0 L2025.5,121.0 L2025.6,122.0 L2025.7,123.0 L2025.8,124.0 L2026.0,125.0 L2026.1,126.0 L2026.3,127.0 L2026.4,128.0 L2026.6,129.0 L2026.8,130.0 L2027.0,131.0 L2027.3,132.0 L2027.5,133.0 L2027.8,134.0 L2028.1,135.0 L2028.4,136.0 L2028.7,137.0 L2029.1,138.0 L2029.4,139.0 L2029.8,140.0 L2030.2,141.0 L2030.6,142.0 L2031.0,143.0 L2031.6,144.0 L2032.1,145.0 L2032.7,146.0 L2033.4,147.0 L2034.1,148.0 L2034.8,149.0 L2035.6,150.0 L2036.4,151.0 L2037.2,152.0 L2038.0,153.0 L2038.8,154.0 L2039.6,155.0 L2040.4,156.0 L2041.2,157.0 L2042.1,158.0 L2043.0,159.0 L2044.0,160.0 L2044.9,161.0 L2045.9,162.0 L2046.9,163.0 L2047.9,164.0 L2048.9,165.0 L2049.9,166.0 L2050.8,167.0 L2051.7,168.0 L2052.6,169.0 L2053.4,170.0 L2054.2,171.0 L2055.0,172.0 L2055.8,173.0 L2056.6,174.0 L2057.4,175.0 L2058.1,176.0 L2058.9,177.0 L2059.6,178.0 L2060.3,179.0 L2061.0,180.0 L2061.6,181.0 L2062.2,182.0 L2062.7,183.0 L2063.1,184.0 L2063.6,185.0 L2064.0,186.0 L2064.4,187.0 L2064.8,188.0 L2065.1,189.0 L2065.5,190.0 L2065.9,191.0 L2066.2,192.0 L2066.5,193.0 L2066.8,194.0 L2067.0,195.0 L2067.2,196.0 L2067.3,197.0 L2067.4,198.0 L2067.4,199.0 L2067.3,200.0 L2067.1,201.0 L2066.8,202.0 L2066.3,203.0 L2065.8,204.0 L2065.2,205.0 L2064.5,206.0 L2063.8,207.0 L2063.1,208.0 L2062.3,209.0 L2061.5,210.0 L2060.6,211.0 L2059.8,212.0 L2059.0,213.0 L2058.1,214.0 L2057.1,215.0 L2056.0,216.0 L2054.7,217.0 L2053.4,218.0 L2052.1,219.0 L2050.7,220.0 L2049.3,221.0 L2047.9,222.0 L2046.5,223.0 L2045.3,224.0 L2044.1,225.0 L2043.0,226.0 L2042.0,227.0 L2041.1,228.0 L2040.3,229.0 L2039.5,230.0 L2038.7,231.0 L2037.9,232.0 L2037.1,233.0 L2036.4,234.0 L2035.7,235.0 L2035.1,236.0 L2034.4,237.0 L2033.8,238.0 L2033.2,239.0 L2032.7,240.0 L2032.2,241.0 L2031.6,242.0 L2031.2,243.0 L2030.7,244.0 L2030.2,245.0 L2029.7,246.0 L2029.3,247.0 L2028.8,248.0 L2028.4,249.0 L2028.0,250.0 L2027.7,251.0 L2027.3,252.0 L2027.0,253.0 L2026.8,254.0 L2026.5,255.0 L2026.3,256.0 L2026.1,257.0 L2025.9,258.0 L2025.7,259.0 L2025.6,260.0 L2025.4,261.0 L2025.2,262.0 L2025.1,263.0 L2025.0,264.0 L2024.8,265.0 L2024.7,266.0 L2024.6,267.0 L2024.5,268.0 L2024.4,269.0 L2024.4,270.0 L2024.3,271.0 L2024.3,272.0 L2024.2,273.0 L2024.1,274.0 L2024.1,275.0 L2024.0,276.0 L2024.0,277.0 L2023.9,278.0 L2023.9,279.0 L2023.8,280.0 L2023.8,281.0 L2023.8,282.0 L2023.7,283.0 L2023.7,284.0 L2023.6,285.0 L2023.6,286.0 L2023.6,287.0 L2023.5,288.0 L2023.5,289.0 L2023.5,290.0 L2023.4,291.0 L2023.4,292.0 L2023.4,293.0 L2023.4,294.0 L2023.3,295.0 L2023.3,296.0 L2023.3,297.0 L2023.2,298.0 L2023.2,299.0 L2023.2,300.0 L2023.1,301.0 L2023.1,302.0 L2023.1,303.0 L2023.0,304.0 L2023.0,305.0 L2023.0,306.0 L2022.9,307.0 L2022.9,308.0 L2021.7,308.0 L2021.7,307.0 L2021.6,306.0 L2021.6,305.0 L2021.6,304.0 L2021.5,303.0 L2021.5,302.0 L2021.5,301.0 L2021.4,300.0 L2021.4,299.0 L2021.4,298.0 L2021.3,297.0 L2021.3,296.0 L2021.3,295.0 L2021.2,294.0 L2021.2,293.0 L2021.2,292.0 L2021.2,291.0 L2021.1,290.0 L2021.1,289.0 L2021.1,288.0 L2021.0,287.0 L2021.0,286.0 L2021.0,285.0 L2020.9,284.0 L2020.9,283.0 L2020.8,282.0 L2020.8,281.0 L2020.8,280.0 L2020.7,279.0 L2020.7,278.0 L2020.6,277.0 L2020.6,276.0 L2020.5,275.0 L2020.5,274.0 L2020.4,273.0 L2020.3,272.0 L2020.3,271.0 L2020.2,270.0 L2020.2,269.0 L2020.1,268.0 L2020.0,267.0 L2019.9,266.0 L2019.8,265.0 L2019.6,264.0 L2019.5,263.0 L2019.4,262.0 L2019.2,261.0 L2019.0,260.0 L2018.9,259.0 L2018.7,258.0 L2018.5,257.0 L2018.3,256.0 L2018.1,255.0 L2017.8,254.0 L2017.6,253.0 L2017.3,252.0 L2016.9,251.0 L2016.6,250.0 L2016.2,249.0 L2015.8,248.0 L2015.3,247.0 L2014.9,246.0 L2014.4,245.0 L2013.9,244.0 L2013.4,243.0 L2013.0,242.0 L2012.4,241.0 L2011.9,240.0 L2011.4,239.0 L2010.8,238.0 L2010.2,237.0 L2009.5,236.0 L2008.9,235.0 L2008.2,234.0 L2007.5,233.0 L2006.7,232.0 L2005.9,231.0 L2005.1,230.0 L2004.3,229.0 L2003.5,228.0 L2002.6,227.0 L2001.6,226.0 L2000.5,225.0 L1999.3,224.0 L1998.1,223.0 L1996.7,222.0 L1995.3,221.0 L1993.9,220.0 L1992.5,219.0 L1991.2,218.0 L1989.9,217.0 L1988.6,216.0 L1987.5,215.0 L1986.5,214.0 L1985.6,213.0 L1984.8,212.0 L1984.0,211.0 L1983.1,210.0 L1982.3,209.0 L1981.5,208.0 L1980.8,207.0 L1980.1,206.0 L1979.4,205.0 L1978.8,204.0 L1978.3,203.0 L1977.8,202.0 L1977.5,201.0 L1977.3,200.0 L1977.2,199.0 L1977.2,198.0 L1977.3,197.0 L1977.4,196.0 L1977.6,195.0 L1977.8,194.0 L1978.1,193.0 L1978.4,192.0 L1978.7,191.0 L1979.1,190.0 L1979.5,189.0 L1979.8,188.0 L1980.2,187.0 L1980.6,186.0 L1981.0,185.0 L1981.5,184.0 L1981.9,183.0 L1982.4,182.0 L1983.0,181.0 L1983.6,180.0 L1984.3,179.0 L1985.0,178.0 L1985.7,177.0 L1986.5,176.0 L1987.2,175.0 L1988.0,174.0 L1988.8,173.0 L1989.6,172.0 L1990.4,171.0 L1991.2,170.0 L1992.0,169.0 L1992.9,168.0 L1993.8,167.0 L1994.7,166.0 L1995.7,165.0 L1996.7,164.0 L1997.7,163.0 L1998.7,162.0 L1999.7,161.0 L2000.6,160.0 L2001.6,159.0 L2002.5,158.0 L2003.4,157.0 L2004.2,156.0 L2005.0,155.0 L2005.8,154.0 L2006.6,153.0 L2007.4,152.0 L2008.2,151.0 L2009.0,150.0 L2009.8,149.0 L2010.5,148.0 L2011.2,147.0 L2011.9,146.0 L2012.5,145.0 L2013.0,144.0 L2013.6,143.0 L2014.0,142.0 L2014.4,141.0 L2014.8,140.0 L2015.2,139.0 L2015.5,138.0 L2015.9,137.0 L2016.2,136.0 L2016.5,135.0 L2016.8,134.0 L2017.1,133.0 L2017.3,132.0 L2017.6,131.0 L2017.8,130.0 L2018.0,129.0 L2018.2,128.0 L2018.3,127.0 L2018.5,126.0 L2018.6,125.0 L2018.8,124.0 L2018.9,123.0 L2019.0,122.0 L2019.1,121.0 L2019.2,120.0 L2019.3,119.0 L2019.4,118.0 L2019.5,117.0 L2019.6,116.0 L2019.7,115.0 L2019.8,114.0 L2019.9,113.0 L2020.0,112.0 L2020.1,111.0 L2020.2,110.0 L2020.3,109.0 L2020.4,108.0 L2020.5,107.0 L2020.6,106.0 L2020.6,105.0 L2020.7,104.0 L2020.8,103.0 L2020.9,102.0 L2021.0,101.0 L2021.1,100.0 L2021.1,99.0 L2021.2,98.0 L2021.3,97.0 L2021.4,96.0 L2021.5,95.0 L2021.5,94.0 L2021.6,93.0 L2021.7,92.0 Z" fill="#f2d390" stroke="#000" stroke-width="1.8" stroke-linejoin="round"/>
<line x1="2022.3" y1="125.0" x2="2022.3" y2="285.0" stroke="#808080" stroke-width="1.6"/>
<rect x="2018.3" y="182.0" width="8.0" height="38.3" fill="#808080"/>
<circle cx="2022.3" cy="200.3" r="5.4" fill="#fff" stroke="#8a8a8a" stroke-width="1.5"/>
<line x1="1978.7" y1="200.3" x2="2065.9" y2="200.3" stroke="#000" stroke-width="5"/>
<rect x="2020.1" y="198.8" width="4.4" height="3" fill="#fff" opacity="0.0"/>
<text x="1714.0" y="336.5" font-size="17.5" font-family="'DejaVu Sans', 'Liberation Sans', sans-serif" fill="#111" text-anchor="middle" textLength="135" lengthAdjust="spacingAndGlyphs" stroke="#111" stroke-width="0.35">Co-localization</text>
<text x="1714.0" y="360.6" font-size="17.5" font-family="'DejaVu Sans', 'Liberation Sans', sans-serif" fill="#111" text-anchor="middle" textLength="65.3" lengthAdjust="spacingAndGlyphs" stroke="#111" stroke-width="0.35">control</text>
<text x="1714.0" y="381.9" font-size="17.5" font-family="'DejaVu Sans', 'Liberation Sans', sans-serif" fill="#808080" text-anchor="middle" textLength="126.3" lengthAdjust="spacingAndGlyphs" stroke="#808080" stroke-width="0.35">N = 3, n = 250</text>
<text x="1876.2" y="336.5" font-size="17.5" font-family="'DejaVu Sans', 'Liberation Sans', sans-serif" fill="#111" text-anchor="middle" textLength="84.3" lengthAdjust="spacingAndGlyphs" stroke="#111" stroke-width="0.35">Scyl-chrb</text>
<text x="1876.2" y="360.6" font-size="17.5" font-family="'DejaVu Sans', 'Liberation Sans', sans-serif" fill="#808080" text-anchor="middle" textLength="127.3" lengthAdjust="spacingAndGlyphs" stroke="#808080" stroke-width="0.35">N = 6, n = 440</text>
<text x="2037.8" y="336.5" font-size="17.5" font-family="'DejaVu Sans', 'Liberation Sans', sans-serif" fill="#111" text-anchor="middle" textLength="75.3" lengthAdjust="spacingAndGlyphs" stroke="#111" stroke-width="0.35">Chrb-CG</text>
<text x="2037.8" y="360.6" font-size="17.5" font-family="'DejaVu Sans', 'Liberation Sans', sans-serif" fill="#808080" text-anchor="middle" textLength="137.7" lengthAdjust="spacingAndGlyphs" stroke="#808080" stroke-width="0.35">N = 10, n = 423</text>
<line x1="487.0" y1="502.0" x2="487.0" y2="746.0" stroke="#222" stroke-width="1.9"/>
<line x1="487.0" y1="746.0" x2="821.0" y2="746.0" stroke="#222" stroke-width="1.9"/>
<text x="476.1" y="754.7" font-size="24.5" font-family="'Liberation Sans', Arial, sans-serif" fill="#1a1a1a" text-anchor="end" textLength="12.5" lengthAdjust="spacingAndGlyphs">0</text>
<text x="476.1" y="693.7" font-size="24.5" font-family="'Liberation Sans', Arial, sans-serif" fill="#1a1a1a" text-anchor="end" textLength="37.5" lengthAdjust="spacingAndGlyphs">500</text>
<text x="476.1" y="632.7" font-size="24.5" font-family="'Liberation Sans', Arial, sans-serif" fill="#1a1a1a" text-anchor="end" textLength="50.0" lengthAdjust="spacingAndGlyphs">1000</text>
<text x="476.1" y="571.7" font-size="24.5" font-family="'Liberation Sans', Arial, sans-serif" fill="#1a1a1a" text-anchor="end" textLength="50.0" lengthAdjust="spacingAndGlyphs">1500</text>
<text x="476.1" y="510.7" font-size="24.5" font-family="'Liberation Sans', Arial, sans-serif" fill="#1a1a1a" text-anchor="end" textLength="50.0" lengthAdjust="spacingAndGlyphs">2000</text>
<text x="501.5" y="480.7" font-size="20" font-family="'DejaVu Sans', 'Liberation Sans', sans-serif" fill="#000" textLength="312.5" lengthAdjust="spacingAndGlyphs" stroke="#000" stroke-width="0.35">Averaged distance across 5min</text>
<text x="395.0" y="610.0" font-size="29" font-family="'DejaVu Sans', 'Liberation Sans', sans-serif" fill="#000" text-anchor="middle" textLength="153" lengthAdjust="spacingAndGlyphs" transform="rotate(-90 395.0 610.0)" stroke="#000" stroke-width="0.35">Distance (nm)</text>
<path d="M566.3,603.4 L566.3,604.4 L566.3,605.4 L566.3,606.4 L566.3,607.4 L566.3,608.4 L566.3,609.4 L566.3,610.4 L566.3,611.4 L566.3,612.4 L566.3,613.4 L566.3,614.4 L566.3,615.4 L566.3,616.4 L566.3,617.4 L566.3,618.4 L566.3,619.4 L566.3,620.4 L566.3,621.4 L566.3,622.4 L566.4,623.4 L566.4,624.4 L566.4,625.4 L566.4,626.4 L566.4,627.4 L566.4,628.4 L566.4,629.4 L566.4,630.4 L566.4,631.4 L566.4,632.4 L566.4,633.4 L566.4,634.4 L566.4,635.4 L566.4,636.4 L566.4,637.4 L566.4,638.4 L566.4,639.4 L566.4,640.4 L566.4,641.4 L566.4,642.4 L566.4,643.4 L566.4,644.4 L566.4,645.4 L566.4,646.4 L566.4,647.4 L566.4,648.4 L566.4,649.4 L566.4,650.4 L566.4,651.4 L566.4,652.4 L566.4,653.4 L566.4,654.4 L566.4,655.4 L566.4,656.4 L566.4,657.4 L566.4,658.4 L566.4,659.4 L566.4,660.4 L566.4,661.4 L566.4,662.4 L566.4,663.4 L566.5,664.4 L566.5,665.4 L566.5,666.4 L566.5,667.4 L566.5,668.4 L566.5,669.4 L566.5,670.4 L566.5,671.4 L566.5,672.4 L566.5,673.4 L566.5,674.4 L566.5,675.4 L566.5,676.4 L566.5,677.4 L566.5,678.4 L566.5,679.4 L566.6,680.4 L566.6,681.4 L566.6,682.4 L566.6,683.4 L566.6,684.4 L566.6,685.4 L566.8,686.4 L567.0,687.4 L567.4,688.4 L567.7,689.4 L568.1,690.4 L568.4,691.4 L568.6,692.4 L568.8,693.4 L568.9,694.4 L569.0,695.4 L569.1,696.4 L569.2,697.4 L569.3,698.4 L569.4,699.4 L569.5,700.4 L569.6,701.4 L569.8,702.4 L570.0,703.4 L570.3,704.4 L570.7,705.4 L571.2,706.4 L571.7,707.4 L572.4,708.4 L573.1,709.4 L574.0,710.4 L575.0,711.4 L576.9,712.4 L579.6,713.4 L582.8,714.4 L585.9,715.4 L588.7,716.4 L591.0,717.4 L593.1,718.4 L595.1,719.4 L597.1,720.4 L598.9,721.4 L600.7,722.4 L602.4,723.4 L604.1,724.4 L605.9,725.4 L607.8,726.4 L609.6,727.4 L611.2,728.4 L612.3,729.4 L612.8,730.4 L612.2,731.4 L610.3,732.4 L607.4,733.4 L604.1,734.4 L601.0,735.4 L598.4,736.4 L595.8,737.4 L593.2,738.4 L590.3,739.4 L587.1,740.4 L583.5,741.4 L579.2,742.4 L574.5,743.4 L569.8,744.4 L567.1,745.0 L564.9,745.0 L562.2,744.4 L557.5,743.4 L552.8,742.4 L548.5,741.4 L544.9,740.4 L541.7,739.4 L538.8,738.4 L536.2,737.4 L533.6,736.4 L531.0,735.4 L527.9,734.4 L524.6,733.4 L521.7,732.4 L519.8,731.4 L519.2,730.4 L519.7,729.4 L520.8,728.4 L522.4,727.4 L524.2,726.4 L526.1,725.4 L527.9,724.4 L529.6,723.4 L531.3,722.4 L533.1,721.4 L534.9,720.4 L536.9,719.4 L538.9,718.4 L541.0,717.4 L543.3,716.4 L546.1,715.4 L549.2,714.4 L552.4,713.4 L555.1,712.4 L557.0,711.4 L558.0,710.4 L558.9,709.4 L559.6,708.4 L560.3,707.4 L560.8,706.4 L561.3,705.4 L561.7,704.4 L562.0,703.4 L562.2,702.4 L562.4,701.4 L562.5,700.4 L562.6,699.4 L562.7,698.4 L562.8,697.4 L562.9,696.4 L563.0,695.4 L563.1,694.4 L563.2,693.4 L563.4,692.4 L563.6,691.4 L563.9,690.4 L564.3,689.4 L564.6,688.4 L565.0,687.4 L565.2,686.4 L565.4,685.4 L565.4,684.4 L565.4,683.4 L565.4,682.4 L565.4,681.4 L565.4,680.4 L565.5,679.4 L565.5,678.4 L565.5,677.4 L565.5,676.4 L565.5,675.4 L565.5,674.4 L565.5,673.4 L565.5,672.4 L565.5,671.4 L565.5,670.4 L565.5,669.4 L565.5,668.4 L565.5,667.4 L565.5,666.4 L565.5,665.4 L565.5,664.4 L565.6,663.4 L565.6,662.4 L565.6,661.4 L565.6,660.4 L565.6,659.4 L565.6,658.4 L565.6,657.4 L565.6,656.4 L565.6,655.4 L565.6,654.4 L565.6,653.4 L565.6,652.4 L565.6,651.4 L565.6,650.4 L565.6,649.4 L565.6,648.4 L565.6,647.4 L565.6,646.4 L565.6,645.4 L565.6,644.4 L565.6,643.4 L565.6,642.4 L565.6,641.4 L565.6,640.4 L565.6,639.4 L565.6,638.4 L565.6,637.4 L565.6,636.4 L565.6,635.4 L565.6,634.4 L565.6,633.4 L565.6,632.4 L565.6,631.4 L565.6,630.4 L565.6,629.4 L565.6,628.4 L565.6,627.4 L565.6,626.4 L565.6,625.4 L565.6,624.4 L565.6,623.4 L565.7,622.4 L565.7,621.4 L565.7,620.4 L565.7,619.4 L565.7,618.4 L565.7,617.4 L565.7,616.4 L565.7,615.4 L565.7,614.4 L565.7,613.4 L565.7,612.4 L565.7,611.4 L565.7,610.4 L565.7,609.4 L565.7,608.4 L565.7,607.4 L565.7,606.4 L565.7,605.4 L565.7,604.4 L565.7,603.4 Z" fill="#f2d390" stroke="#000" stroke-width="1.8" stroke-linejoin="round"/>
<line x1="566.0" y1="700.0" x2="566.0" y2="744.0" stroke="#808080" stroke-width="1.6"/>
<rect x="562.0" y="721.0" width="8.0" height="11.7" fill="#808080"/>
<circle cx="566.0" cy="728.4" r="5.4" fill="#fff" stroke="#8a8a8a" stroke-width="1.5"/>
<line x1="522.9" y1="728.4" x2="609.1" y2="728.4" stroke="#000" stroke-width="5"/>
<rect x="563.8" y="726.9" width="4.4" height="3" fill="#fff" opacity="0.0"/>
<path d="M724.3,547.7 L724.3,548.7 L724.3,549.7 L724.3,550.7 L724.3,551.7 L724.3,552.7 L724.3,553.7 L724.3,554.7 L724.4,555.7 L724.4,556.7 L724.4,557.7 L724.4,558.7 L724.4,559.7 L724.4,560.7 L724.4,561.7 L724.4,562.7 L724.4,563.7 L724.4,564.7 L724.4,565.7 L724.4,566.7 L724.4,567.7 L724.4,568.7 L724.4,569.7 L724.4,570.7 L724.4,571.7 L724.4,572.7 L724.4,573.7 L724.4,574.7 L724.4,575.7 L724.4,576.7 L724.4,577.7 L724.4,578.7 L724.4,579.7 L724.5,580.7 L724.5,581.7 L724.5,582.7 L724.5,583.7 L724.5,584.7 L724.5,585.7 L724.5,586.7 L724.5,587.7 L724.5,588.7 L724.5,589.7 L724.5,590.7 L724.5,591.7 L724.5,592.7 L724.5,593.7 L724.5,594.7 L724.5,595.7 L724.5,596.7 L724.5,597.7 L724.5,598.7 L724.5,599.7 L724.5,600.7 L724.5,601.7 L724.5,602.7 L724.5,603.7 L724.5,604.7 L724.5,605.7 L724.5,606.7 L724.5,607.7 L724.6,608.7 L724.6,609.7 L724.6,610.7 L724.6,611.7 L724.6,612.7 L724.6,613.7 L724.6,614.7 L724.6,615.7 L724.6,616.7 L724.6,617.7 L724.6,618.7 L724.6,619.7 L724.6,620.7 L724.6,621.7 L724.6,622.7 L724.6,623.7 L724.7,624.7 L724.7,625.7 L724.7,626.7 L724.7,627.7 L724.7,628.7 L724.7,629.7 L724.7,630.7 L724.7,631.7 L724.7,632.7 L724.7,633.7 L724.7,634.7 L724.8,635.7 L724.8,636.7 L724.8,637.7 L724.8,638.7 L724.8,639.7 L724.8,640.7 L724.8,641.7 L724.8,642.7 L724.8,643.7 L724.9,644.7 L724.9,645.7 L724.9,646.7 L724.9,647.7 L724.9,648.7 L724.9,649.7 L725.0,650.7 L725.0,651.7 L725.0,652.7 L725.0,653.7 L725.0,654.7 L725.0,655.7 L725.1,656.7 L725.1,657.7 L725.1,658.7 L725.1,659.7 L725.3,660.7 L725.6,661.7 L726.0,662.7 L726.4,663.7 L726.8,664.7 L727.2,665.7 L727.6,666.7 L728.0,667.7 L728.4,668.7 L728.8,669.7 L729.2,670.7 L729.6,671.7 L730.1,672.7 L730.6,673.7 L731.1,674.7 L731.6,675.7 L732.1,676.7 L732.7,677.7 L733.4,678.7 L734.0,679.7 L734.7,680.7 L735.5,681.7 L736.4,682.7 L737.3,683.7 L738.4,684.7 L739.5,685.7 L740.7,686.7 L742.0,687.7 L743.3,688.7 L744.6,689.7 L746.0,690.7 L747.4,691.7 L748.9,692.7 L750.6,693.7 L752.3,694.7 L754.0,695.7 L755.7,696.7 L757.3,697.7 L758.9,698.7 L760.6,699.7 L762.3,700.7 L764.0,701.7 L765.6,702.7 L767.0,703.7 L768.1,704.7 L768.9,705.7 L769.6,706.7 L770.2,707.7 L770.7,708.7 L770.8,709.7 L770.5,710.7 L769.9,711.7 L769.0,712.7 L767.8,713.7 L766.5,714.7 L765.1,715.7 L763.7,716.7 L762.2,717.7 L760.2,718.7 L757.8,719.7 L755.3,720.7 L752.6,721.7 L750.0,722.7 L747.3,723.7 L744.9,724.7 L742.7,725.7 L740.4,726.7 L738.1,727.7 L735.7,728.7 L733.4,729.7 L731.3,730.7 L729.5,731.7 L728.0,732.7 L727.0,733.7 L726.5,734.7 L726.1,735.7 L725.8,736.7 L725.6,737.7 L725.3,738.7 L725.1,739.7 L725.0,740.7 L724.8,741.7 L724.6,742.7 L724.4,743.7 L724.2,744.7 L724.1,745.0 L723.9,745.0 L723.8,744.7 L723.6,743.7 L723.4,742.7 L723.2,741.7 L723.0,740.7 L722.9,739.7 L722.7,738.7 L722.4,737.7 L722.2,736.7 L721.9,735.7 L721.5,734.7 L721.0,733.7 L720.0,732.7 L718.5,731.7 L716.7,730.7 L714.6,729.7 L712.3,728.7 L709.9,727.7 L707.6,726.7 L705.3,725.7 L703.1,724.7 L700.7,723.7 L698.0,722.7 L695.4,721.7 L692.7,720.7 L690.2,719.7 L687.8,718.7 L685.8,717.7 L684.3,716.7 L682.9,715.7 L681.5,714.7 L680.2,713.7 L679.0,712.7 L678.1,711.7 L677.5,710.7 L677.2,709.7 L677.3,708.7 L677.8,707.7 L678.4,706.7 L679.1,705.7 L679.9,704.7 L681.0,703.7 L682.4,702.7 L684.0,701.7 L685.7,700.7 L687.4,699.7 L689.1,698.7 L690.7,697.7 L692.3,696.7 L694.0,695.7 L695.7,694.7 L697.4,693.7 L699.1,692.7 L700.6,691.7 L702.0,690.7 L703.4,689.7 L704.7,688.7 L706.0,687.7 L707.3,686.7 L708.5,685.7 L709.6,684.7 L710.7,683.7 L711.6,682.7 L712.5,681.7 L713.3,680.7 L714.0,679.7 L714.6,678.7 L715.3,677.7 L715.9,676.7 L716.4,675.7 L716.9,674.7 L717.4,673.7 L717.9,672.7 L718.4,671.7 L718.8,670.7 L719.2,669.7 L719.6,668.7 L720.0,667.7 L720.4,666.7 L720.8,665.7 L721.2,664.7 L721.6,663.7 L722.0,662.7 L722.4,661.7 L722.7,660.7 L722.9,659.7 L722.9,658.7 L722.9,657.7 L722.9,656.7 L723.0,655.7 L723.0,654.7 L723.0,653.7 L723.0,652.7 L723.0,651.7 L723.0,650.7 L723.1,649.7 L723.1,648.7 L723.1,647.7 L723.1,646.7 L723.1,645.7 L723.1,644.7 L723.2,643.7 L723.2,642.7 L723.2,641.7 L723.2,640.7 L723.2,639.7 L723.2,638.7 L723.2,637.7 L723.2,636.7 L723.2,635.7 L723.3,634.7 L723.3,633.7 L723.3,632.7 L723.3,631.7 L723.3,630.7 L723.3,629.7 L723.3,628.7 L723.3,627.7 L723.3,626.7 L723.3,625.7 L723.3,624.7 L723.4,623.7 L723.4,622.7 L723.4,621.7 L723.4,620.7 L723.4,619.7 L723.4,618.7 L723.4,617.7 L723.4,616.7 L723.4,615.7 L723.4,614.7 L723.4,613.7 L723.4,612.7 L723.4,611.7 L723.4,610.7 L723.4,609.7 L723.4,608.7 L723.5,607.7 L723.5,606.7 L723.5,605.7 L723.5,604.7 L723.5,603.7 L723.5,602.7 L723.5,601.7 L723.5,600.7 L723.5,599.7 L723.5,598.7 L723.5,597.7 L723.5,596.7 L723.5,595.7 L723.5,594.7 L723.5,593.7 L723.5,592.7 L723.5,591.7 L723.5,590.7 L723.5,589.7 L723.5,588.7 L723.5,587.7 L723.5,586.7 L723.5,585.7 L723.5,584.7 L723.5,583.7 L723.5,582.7 L723.5,581.7 L723.5,580.7 L723.6,579.7 L723.6,578.7 L723.6,577.7 L723.6,576.7 L723.6,575.7 L723.6,574.7 L723.6,573.7 L723.6,572.7 L723.6,571.7 L723.6,570.7 L723.6,569.7 L723.6,568.7 L723.6,567.7 L723.6,566.7 L723.6,565.7 L723.6,564.7 L723.6,563.7 L723.6,562.7 L723.6,561.7 L723.6,560.7 L723.6,559.7 L723.6,558.7 L723.6,557.7 L723.6,556.7 L723.6,555.7 L723.7,554.7 L723.7,553.7 L723.7,552.7 L723.7,551.7 L723.7,550.7 L723.7,549.7 L723.7,548.7 L723.7,547.7 Z" fill="#f2d390" stroke="#000" stroke-width="1.8" stroke-linejoin="round"/>
<line x1="724.0" y1="665.0" x2="724.0" y2="735.0" stroke="#808080" stroke-width="1.6"/>
<rect x="720.0" y="698.8" width="8.0" height="15.2" fill="#808080"/>
<circle cx="724.0" cy="706.4" r="5.4" fill="#fff" stroke="#8a8a8a" stroke-width="1.5"/>
<line x1="679.4" y1="706.4" x2="768.6" y2="706.4" stroke="#000" stroke-width="5"/>
<rect x="721.8" y="704.9" width="4.4" height="3" fill="#fff" opacity="0.0"/>
<text x="564.5" y="772.0" font-size="17.5" font-family="'DejaVu Sans', 'Liberation Sans', sans-serif" fill="#111" text-anchor="middle" textLength="135.5" lengthAdjust="spacingAndGlyphs" stroke="#111" stroke-width="0.35">Co-localization</text>
<text x="564.5" y="797.0" font-size="17.5" font-family="'DejaVu Sans', 'Liberation Sans', sans-serif" fill="#111" text-anchor="middle" textLength="65.3" lengthAdjust="spacingAndGlyphs" stroke="#111" stroke-width="0.35">control</text>
<text x="564.5" y="817.5" font-size="17.5" font-family="'DejaVu Sans', 'Liberation Sans', sans-serif" fill="#808080" text-anchor="middle" textLength="131" lengthAdjust="spacingAndGlyphs" stroke="#808080" stroke-width="0.35">N = 7,  n = 418</text>
<text x="727.0" y="772.0" font-size="17.5" font-family="'DejaVu Sans', 'Liberation Sans', sans-serif" fill="#111" text-anchor="middle" textLength="67.6" lengthAdjust="spacingAndGlyphs" stroke="#111" stroke-width="0.35">knrl-kni</text>
<text x="727.0" y="797.0" font-size="17.5" font-family="'DejaVu Sans', 'Liberation Sans', sans-serif" fill="#808080" text-anchor="middle" textLength="138" lengthAdjust="spacingAndGlyphs" stroke="#808080" stroke-width="0.35">N = 13, n = 410</text>
<line x1="1071.0" y1="506.0" x2="1071.0" y2="743.0" stroke="#222" stroke-width="1.9"/>
<line x1="1071.0" y1="743.0" x2="1389.6" y2="743.0" stroke="#222" stroke-width="1.9"/>
<text x="1061.3" y="751.7" font-size="24.5" font-family="'Liberation Sans', Arial, sans-serif" fill="#1a1a1a" text-anchor="end" textLength="12.5" lengthAdjust="spacingAndGlyphs">0</text>
<text x="1061.3" y="692.5" font-size="24.5" font-family="'Liberation Sans', Arial, sans-serif" fill="#1a1a1a" text-anchor="end" textLength="37.5" lengthAdjust="spacingAndGlyphs">500</text>
<text x="1061.3" y="633.2" font-size="24.5" font-family="'Liberation Sans', Arial, sans-serif" fill="#1a1a1a" text-anchor="end" textLength="50.0" lengthAdjust="spacingAndGlyphs">1000</text>
<text x="1061.3" y="574.0" font-size="24.5" font-family="'Liberation Sans', Arial, sans-serif" fill="#1a1a1a" text-anchor="end" textLength="50.0" lengthAdjust="spacingAndGlyphs">1500</text>
<text x="1061.3" y="514.7" font-size="24.5" font-family="'Liberation Sans', Arial, sans-serif" fill="#1a1a1a" text-anchor="end" textLength="50.0" lengthAdjust="spacingAndGlyphs">2000</text>
<text x="1066.0" y="481.0" font-size="20" font-family="'DejaVu Sans', 'Liberation Sans', sans-serif" fill="#000" textLength="429" lengthAdjust="spacingAndGlyphs" stroke="#000" stroke-width="0.35">Averaged distance across a 25min window</text>
<path d="M1146.3,691.4 L1146.4,692.4 L1146.4,693.4 L1146.4,694.4 L1146.5,695.4 L1146.5,696.4 L1146.6,697.4 L1146.6,698.4 L1146.6,699.4 L1146.7,700.4 L1146.7,701.4 L1146.8,702.4 L1146.8,703.4 L1146.9,704.4 L1147.0,705.4 L1147.1,706.4 L1147.2,707.4 L1147.3,708.4 L1147.4,709.4 L1147.7,710.4 L1148.0,711.4 L1148.5,712.4 L1149.0,713.4 L1149.6,714.4 L1150.3,715.4 L1151.1,716.4 L1152.2,717.4 L1153.5,718.4 L1155.2,719.4 L1158.5,720.4 L1162.9,721.4 L1167.5,722.4 L1171.6,723.4 L1175.6,724.4 L1179.7,725.4 L1183.4,726.4 L1186.4,727.4 L1188.5,728.4 L1190.0,729.4 L1188.8,730.4 L1183.7,731.4 L1177.6,732.4 L1172.2,733.4 L1166.2,734.4 L1160.6,735.4 L1156.4,736.4 L1153.1,737.4 L1150.3,738.4 L1148.3,739.4 L1147.3,740.4 L1146.7,741.4 L1146.2,742.4 L1145.9,743.0 L1145.5,743.0 L1145.2,742.4 L1144.7,741.4 L1144.1,740.4 L1143.1,739.4 L1141.1,738.4 L1138.3,737.4 L1135.0,736.4 L1130.8,735.4 L1125.2,734.4 L1119.2,733.4 L1113.8,732.4 L1107.7,731.4 L1102.6,730.4 L1101.4,729.4 L1102.9,728.4 L1105.0,727.4 L1108.0,726.4 L1111.7,725.4 L1115.8,724.4 L1119.8,723.4 L1123.9,722.4 L1128.5,721.4 L1132.9,720.4 L1136.2,719.4 L1137.9,718.4 L1139.2,717.4 L1140.3,716.4 L1141.1,715.4 L1141.8,714.4 L1142.4,713.4 L1142.9,712.4 L1143.4,711.4 L1143.7,710.4 L1144.0,709.4 L1144.1,708.4 L1144.2,707.4 L1144.3,706.4 L1144.4,705.4 L1144.5,704.4 L1144.6,703.4 L1144.6,702.4 L1144.7,701.4 L1144.7,700.4 L1144.8,699.4 L1144.8,698.4 L1144.8,697.4 L1144.9,696.4 L1144.9,695.4 L1145.0,694.4 L1145.0,693.4 L1145.0,692.4 L1145.1,691.4 Z" fill="#f2d390" stroke="#000" stroke-width="1.8" stroke-linejoin="round"/>
<line x1="1145.7" y1="716.0" x2="1145.7" y2="741.0" stroke="#808080" stroke-width="1.6"/>
<rect x="1141.7" y="724.0" width="8.0" height="10.0" fill="#808080"/>
<circle cx="1145.7" cy="729.2" r="5.4" fill="#fff" stroke="#8a8a8a" stroke-width="1.5"/>
<line x1="1102.7" y1="729.2" x2="1188.7" y2="729.2" stroke="#000" stroke-width="5"/>
<rect x="1143.5" y="727.7" width="4.4" height="3" fill="#fff" opacity="0.0"/>
<path d="M1295.1,589.5 L1295.2,590.5 L1295.3,591.5 L1295.4,592.5 L1295.6,593.5 L1295.7,594.5 L1295.8,595.5 L1295.9,596.5 L1296.0,597.5 L1296.1,598.5 L1296.1,599.5 L1296.1,600.5 L1296.0,601.5 L1295.9,602.5 L1295.8,603.5 L1295.7,604.5 L1295.5,605.5 L1295.4,606.5 L1295.3,607.5 L1295.2,608.5 L1295.1,609.5 L1295.1,610.5 L1295.1,611.5 L1295.1,612.5 L1295.1,613.5 L1295.2,614.5 L1295.2,615.5 L1295.2,616.5 L1295.2,617.5 L1295.3,618.5 L1295.3,619.5 L1295.4,620.5 L1295.4,621.5 L1295.4,622.5 L1295.5,623.5 L1295.5,624.5 L1295.5,625.5 L1295.5,626.5 L1295.6,627.5 L1295.6,628.5 L1295.6,629.5 L1295.6,630.5 L1295.6,631.5 L1295.6,632.5 L1295.6,633.5 L1295.6,634.5 L1295.6,635.5 L1295.6,636.5 L1295.6,637.5 L1295.6,638.5 L1295.6,639.5 L1295.6,640.5 L1295.6,641.5 L1295.6,642.5 L1295.6,643.5 L1295.6,644.5 L1295.6,645.5 L1295.6,646.5 L1295.6,647.5 L1295.6,648.5 L1295.6,649.5 L1295.6,650.5 L1295.6,651.5 L1295.6,652.5 L1295.6,653.5 L1295.6,654.5 L1295.6,655.5 L1295.6,656.5 L1295.5,657.5 L1295.5,658.5 L1295.5,659.5 L1295.5,660.5 L1295.4,661.5 L1295.4,662.5 L1295.4,663.5 L1295.3,664.5 L1295.3,665.5 L1295.3,666.5 L1295.2,667.5 L1295.2,668.5 L1295.2,669.5 L1295.2,670.5 L1295.1,671.5 L1295.1,672.5 L1295.1,673.5 L1295.1,674.5 L1295.1,675.5 L1295.2,676.5 L1295.4,677.5 L1295.8,678.5 L1296.2,679.5 L1296.7,680.5 L1297.3,681.5 L1297.8,682.5 L1298.3,683.5 L1298.8,684.5 L1299.4,685.5 L1300.0,686.5 L1300.8,687.5 L1301.6,688.5 L1302.5,689.5 L1303.6,690.5 L1305.2,691.5 L1307.1,692.5 L1309.3,693.5 L1311.6,694.5 L1313.9,695.5 L1316.2,696.5 L1318.8,697.5 L1321.4,698.5 L1324.1,699.5 L1326.7,700.5 L1329.0,701.5 L1331.4,702.5 L1333.9,703.5 L1336.3,704.5 L1338.0,705.5 L1338.8,706.5 L1338.3,707.5 L1336.8,708.5 L1334.7,709.5 L1332.1,710.5 L1329.5,711.5 L1326.7,712.5 L1323.0,713.5 L1318.9,714.5 L1314.9,715.5 L1311.3,716.5 L1308.6,717.5 L1306.4,718.5 L1304.3,719.5 L1302.3,720.5 L1300.6,721.5 L1299.1,722.5 L1298.0,723.5 L1297.3,724.5 L1296.9,725.5 L1296.6,726.5 L1296.3,727.5 L1296.2,728.5 L1296.0,729.5 L1295.9,730.5 L1295.8,731.5 L1295.7,732.5 L1295.7,733.5 L1295.6,734.5 L1295.5,735.5 L1295.5,736.5 L1295.4,737.5 L1295.4,738.5 L1295.3,739.5 L1295.3,740.5 L1295.2,741.5 L1295.1,742.5 L1295.1,743.0 L1293.9,743.0 L1293.9,742.5 L1293.8,741.5 L1293.7,740.5 L1293.7,739.5 L1293.6,738.5 L1293.6,737.5 L1293.5,736.5 L1293.5,735.5 L1293.4,734.5 L1293.3,733.5 L1293.3,732.5 L1293.2,731.5 L1293.1,730.5 L1293.0,729.5 L1292.8,728.5 L1292.7,727.5 L1292.4,726.5 L1292.1,725.5 L1291.7,724.5 L1291.0,723.5 L1289.9,722.5 L1288.4,721.5 L1286.7,720.5 L1284.7,719.5 L1282.6,718.5 L1280.4,717.5 L1277.7,716.5 L1274.1,715.5 L1270.1,714.5 L1266.0,713.5 L1262.3,712.5 L1259.5,711.5 L1256.9,710.5 L1254.3,709.5 L1252.2,708.5 L1250.7,707.5 L1250.2,706.5 L1251.0,705.5 L1252.7,704.5 L1255.1,703.5 L1257.6,702.5 L1260.0,701.5 L1262.3,700.5 L1264.9,699.5 L1267.6,698.5 L1270.2,697.5 L1272.8,696.5 L1275.1,695.5 L1277.4,694.5 L1279.7,693.5 L1281.9,692.5 L1283.8,691.5 L1285.4,690.5 L1286.5,689.5 L1287.4,688.5 L1288.2,687.5 L1289.0,686.5 L1289.6,685.5 L1290.2,684.5 L1290.7,683.5 L1291.2,682.5 L1291.7,681.5 L1292.3,680.5 L1292.8,679.5 L1293.2,678.5 L1293.6,677.5 L1293.8,676.5 L1293.9,675.5 L1293.9,674.5 L1293.9,673.5 L1293.9,672.5 L1293.9,671.5 L1293.8,670.5 L1293.8,669.5 L1293.8,668.5 L1293.8,667.5 L1293.7,666.5 L1293.7,665.5 L1293.7,664.5 L1293.6,663.5 L1293.6,662.5 L1293.6,661.5 L1293.5,660.5 L1293.5,659.5 L1293.5,658.5 L1293.5,657.5 L1293.4,656.5 L1293.4,655.5 L1293.4,654.5 L1293.4,653.5 L1293.4,652.5 L1293.4,651.5 L1293.4,650.5 L1293.4,649.5 L1293.4,648.5 L1293.4,647.5 L1293.4,646.5 L1293.4,645.5 L1293.4,644.5 L1293.4,643.5 L1293.4,642.5 L1293.4,641.5 L1293.4,640.5 L1293.4,639.5 L1293.4,638.5 L1293.4,637.5 L1293.4,636.5 L1293.4,635.5 L1293.4,634.5 L1293.4,633.5 L1293.4,632.5 L1293.4,631.5 L1293.4,630.5 L1293.4,629.5 L1293.4,628.5 L1293.4,627.5 L1293.5,626.5 L1293.5,625.5 L1293.5,624.5 L1293.5,623.5 L1293.6,622.5 L1293.6,621.5 L1293.6,620.5 L1293.7,619.5 L1293.7,618.5 L1293.8,617.5 L1293.8,616.5 L1293.8,615.5 L1293.8,614.5 L1293.9,613.5 L1293.9,612.5 L1293.9,611.5 L1293.9,610.5 L1293.9,609.5 L1293.8,608.5 L1293.7,607.5 L1293.6,606.5 L1293.5,605.5 L1293.3,604.5 L1293.2,603.5 L1293.1,602.5 L1293.0,601.5 L1292.9,600.5 L1292.9,599.5 L1292.9,598.5 L1293.0,597.5 L1293.1,596.5 L1293.2,595.5 L1293.3,594.5 L1293.4,593.5 L1293.6,592.5 L1293.7,591.5 L1293.8,590.5 L1293.9,589.5 Z" fill="#f2d390" stroke="#000" stroke-width="1.8" stroke-linejoin="round"/>
<line x1="1294.5" y1="688.0" x2="1294.5" y2="725.0" stroke="#808080" stroke-width="1.6"/>
<rect x="1290.5" y="701.0" width="8.0" height="11.0" fill="#808080"/>
<circle cx="1294.5" cy="706.3" r="5.4" fill="#fff" stroke="#8a8a8a" stroke-width="1.5"/>
<line x1="1251.4" y1="706.3" x2="1337.6" y2="706.3" stroke="#000" stroke-width="5"/>
<rect x="1292.3" y="704.8" width="4.4" height="3" fill="#fff" opacity="0.0"/>
<text x="1139.8" y="772.0" font-size="17.5" font-family="'DejaVu Sans', 'Liberation Sans', sans-serif" fill="#111" text-anchor="middle" textLength="135.3" lengthAdjust="spacingAndGlyphs" stroke="#111" stroke-width="0.35">Co-localization</text>
<text x="1139.8" y="796.6" font-size="17.5" font-family="'DejaVu Sans', 'Liberation Sans', sans-serif" fill="#111" text-anchor="middle" textLength="64.4" lengthAdjust="spacingAndGlyphs" stroke="#111" stroke-width="0.35">control</text>
<text x="1139.8" y="818.0" font-size="17.5" font-family="'DejaVu Sans', 'Liberation Sans', sans-serif" fill="#808080" text-anchor="middle" textLength="125.7" lengthAdjust="spacingAndGlyphs" stroke="#808080" stroke-width="0.35">N = 7, n = 408</text>
<text x="1302.0" y="772.0" font-size="17.5" font-family="'DejaVu Sans', 'Liberation Sans', sans-serif" fill="#111" text-anchor="middle" textLength="67.7" lengthAdjust="spacingAndGlyphs" stroke="#111" stroke-width="0.35">knrl-kni</text>
<text x="1302.0" y="796.6" font-size="17.5" font-family="'DejaVu Sans', 'Liberation Sans', sans-serif" fill="#808080" text-anchor="middle" textLength="136.8" lengthAdjust="spacingAndGlyphs" stroke="#808080" stroke-width="0.35">N = 13, n = 179</text>
<line x1="1634.4" y1="508.6" x2="1634.4" y2="744.0" stroke="#666" stroke-width="1.3"/>
<line x1="1634.4" y1="744.0" x2="1971.7" y2="744.0" stroke="#666" stroke-width="1.3"/>
<text x="1623.5" y="752.7" font-size="24.5" font-family="'Liberation Sans', Arial, sans-serif" fill="#1a1a1a" text-anchor="end" textLength="12.5" lengthAdjust="spacingAndGlyphs">0</text>
<text x="1623.5" y="693.9" font-size="24.5" font-family="'Liberation Sans', Arial, sans-serif" fill="#1a1a1a" text-anchor="end" textLength="37.5" lengthAdjust="spacingAndGlyphs">500</text>
<text x="1623.5" y="635.0" font-size="24.5" font-family="'Liberation Sans', Arial, sans-serif" fill="#1a1a1a" text-anchor="end" textLength="50.0" lengthAdjust="spacingAndGlyphs">1000</text>
<text x="1623.5" y="576.2" font-size="24.5" font-family="'Liberation Sans', Arial, sans-serif" fill="#1a1a1a" text-anchor="end" textLength="50.0" lengthAdjust="spacingAndGlyphs">1500</text>
<text x="1623.5" y="517.3" font-size="24.5" font-family="'Liberation Sans', Arial, sans-serif" fill="#1a1a1a" text-anchor="end" textLength="50.0" lengthAdjust="spacingAndGlyphs">2000</text>
<text x="1644.6" y="480.0" font-size="20" font-family="'DejaVu Sans', 'Liberation Sans', sans-serif" fill="#000" textLength="468" lengthAdjust="spacingAndGlyphs" stroke="#000" stroke-width="0.35">95 percentile distance across a 25min window</text>
<path d="M1711.2,595.4 L1711.2,596.4 L1711.2,597.4 L1711.2,598.4 L1711.2,599.4 L1711.2,600.4 L1711.2,601.4 L1711.2,602.4 L1711.2,603.4 L1711.2,604.4 L1711.2,605.4 L1711.2,606.4 L1711.2,607.4 L1711.2,608.4 L1711.2,609.4 L1711.2,610.4 L1711.2,611.4 L1711.2,612.4 L1711.2,613.4 L1711.2,614.4 L1711.2,615.4 L1711.2,616.4 L1711.2,617.4 L1711.2,618.4 L1711.2,619.4 L1711.2,620.4 L1711.2,621.4 L1711.2,622.4 L1711.2,623.4 L1711.2,624.4 L1711.2,625.4 L1711.2,626.4 L1711.3,627.4 L1711.6,628.4 L1712.1,629.4 L1712.2,630.4 L1712.4,631.4 L1712.5,632.4 L1712.5,633.4 L1712.6,634.4 L1712.7,635.4 L1712.7,636.4 L1712.7,637.4 L1712.7,638.4 L1712.7,639.4 L1712.7,640.4 L1712.7,641.4 L1712.7,642.4 L1712.7,643.4 L1712.7,644.4 L1712.7,645.4 L1712.7,646.4 L1712.7,647.4 L1712.7,648.4 L1712.7,649.4 L1712.7,650.4 L1712.7,651.4 L1712.7,652.4 L1712.7,653.4 L1712.7,654.4 L1712.7,655.4 L1712.7,656.4 L1712.7,657.4 L1712.7,658.4 L1712.7,659.4 L1712.7,660.4 L1712.7,661.4 L1712.7,662.4 L1712.7,663.4 L1712.7,664.4 L1712.7,665.4 L1712.7,666.4 L1712.7,667.4 L1712.7,668.4 L1712.7,669.4 L1712.7,670.4 L1712.7,671.4 L1712.7,672.4 L1712.7,673.4 L1712.8,674.4 L1713.0,675.4 L1713.4,676.4 L1713.8,677.4 L1714.3,678.4 L1714.9,679.4 L1715.4,680.4 L1716.1,681.4 L1717.0,682.4 L1718.0,683.4 L1719.1,684.4 L1720.2,685.4 L1721.4,686.4 L1722.5,687.4 L1723.6,688.4 L1724.8,689.4 L1725.9,690.4 L1727.1,691.4 L1728.3,692.4 L1729.6,693.4 L1731.0,694.4 L1732.5,695.4 L1734.2,696.4 L1736.1,697.4 L1738.1,698.4 L1740.1,699.4 L1742.1,700.4 L1743.9,701.4 L1745.6,702.4 L1747.2,703.4 L1748.8,704.4 L1750.3,705.4 L1751.8,706.4 L1753.1,707.4 L1754.1,708.4 L1754.9,709.4 L1755.4,710.4 L1755.8,711.4 L1756.2,712.4 L1756.5,713.4 L1756.7,714.4 L1756.8,715.4 L1756.6,716.4 L1756.1,717.4 L1755.4,718.4 L1754.4,719.4 L1753.3,720.4 L1752.1,721.4 L1750.9,722.4 L1749.6,723.4 L1748.1,724.4 L1746.2,725.4 L1744.1,726.4 L1742.0,727.4 L1739.7,728.4 L1737.4,729.4 L1735.1,730.4 L1733.0,731.4 L1730.8,732.4 L1728.4,733.4 L1725.9,734.4 L1723.5,735.4 L1721.3,736.4 L1719.2,737.4 L1717.5,738.4 L1716.2,739.4 L1715.0,740.4 L1713.9,741.4 L1712.9,742.4 L1711.9,743.4 L1711.2,744.0 L1710.9,744.0 L1710.3,743.4 L1709.3,742.4 L1708.3,741.4 L1707.2,740.4 L1706.0,739.4 L1704.7,738.4 L1703.0,737.4 L1700.9,736.4 L1698.7,735.4 L1696.3,734.4 L1693.8,733.4 L1691.4,732.4 L1689.2,731.4 L1687.1,730.4 L1684.8,729.4 L1682.5,728.4 L1680.2,727.4 L1678.1,726.4 L1676.0,725.4 L1674.1,724.4 L1672.6,723.4 L1671.3,722.4 L1670.1,721.4 L1668.9,720.4 L1667.8,719.4 L1666.8,718.4 L1666.1,717.4 L1665.6,716.4 L1665.4,715.4 L1665.5,714.4 L1665.7,713.4 L1666.0,712.4 L1666.4,711.4 L1666.8,710.4 L1667.3,709.4 L1668.1,708.4 L1669.1,707.4 L1670.4,706.4 L1671.9,705.4 L1673.4,704.4 L1675.0,703.4 L1676.6,702.4 L1678.3,701.4 L1680.1,700.4 L1682.1,699.4 L1684.1,698.4 L1686.1,697.4 L1688.0,696.4 L1689.7,695.4 L1691.2,694.4 L1692.6,693.4 L1693.9,692.4 L1695.1,691.4 L1696.3,690.4 L1697.4,689.4 L1698.6,688.4 L1699.7,687.4 L1700.8,686.4 L1702.0,685.4 L1703.1,684.4 L1704.2,683.4 L1705.2,682.4 L1706.1,681.4 L1706.8,680.4 L1707.3,679.4 L1707.9,678.4 L1708.4,677.4 L1708.8,676.4 L1709.2,675.4 L1709.4,674.4 L1709.5,673.4 L1709.5,672.4 L1709.5,671.4 L1709.5,670.4 L1709.5,669.4 L1709.5,668.4 L1709.5,667.4 L1709.5,666.4 L1709.5,665.4 L1709.5,664.4 L1709.5,663.4 L1709.5,662.4 L1709.5,661.4 L1709.5,660.4 L1709.5,659.4 L1709.5,658.4 L1709.5,657.4 L1709.5,656.4 L1709.5,655.4 L1709.5,654.4 L1709.5,653.4 L1709.5,652.4 L1709.5,651.4 L1709.5,650.4 L1709.5,649.4 L1709.5,648.4 L1709.5,647.4 L1709.5,646.4 L1709.5,645.4 L1709.5,644.4 L1709.5,643.4 L1709.5,642.4 L1709.5,641.4 L1709.5,640.4 L1709.5,639.4 L1709.5,638.4 L1709.5,637.4 L1709.5,636.4 L1709.5,635.4 L1709.6,634.4 L1709.7,633.4 L1709.7,632.4 L1709.8,631.4 L1710.0,630.4 L1710.1,629.4 L1710.6,628.4 L1710.9,627.4 L1710.9,626.4 L1710.9,625.4 L1710.9,624.4 L1710.9,623.4 L1710.9,622.4 L1710.9,621.4 L1710.9,620.4 L1710.9,619.4 L1710.9,618.4 L1710.9,617.4 L1710.9,616.4 L1710.9,615.4 L1710.9,614.4 L1710.9,613.4 L1710.9,612.4 L1710.9,611.4 L1710.9,610.4 L1710.9,609.4 L1710.9,608.4 L1710.9,607.4 L1710.9,606.4 L1710.9,605.4 L1710.9,604.4 L1710.9,603.4 L1710.9,602.4 L1710.9,601.4 L1710.9,600.4 L1710.9,599.4 L1710.9,598.4 L1710.9,597.4 L1710.9,596.4 L1710.9,595.4 Z" fill="#f2d390" stroke="#000" stroke-width="1.2" stroke-linejoin="round"/>
<line x1="1711.1" y1="640.0" x2="1711.1" y2="742.0" stroke="#808080" stroke-width="1.6"/>
<rect x="1707.1" y="703.8" width="8.0" height="18.1" fill="#808080"/>
<circle cx="1711.1" cy="713.6" r="5.4" fill="#fff" stroke="#8a8a8a" stroke-width="1.5"/>
<line x1="1666.6" y1="713.6" x2="1755.6" y2="713.6" stroke="#000" stroke-width="5"/>
<rect x="1708.9" y="712.1" width="4.4" height="3" fill="#fff" opacity="0.0"/>
<path d="M1866.2,521.0 L1866.2,522.0 L1866.2,523.0 L1866.2,524.0 L1866.2,525.0 L1866.2,526.0 L1866.2,527.0 L1866.2,528.0 L1866.2,529.0 L1866.2,530.0 L1866.2,531.0 L1866.2,532.0 L1866.2,533.0 L1866.2,534.0 L1866.2,535.0 L1866.2,536.0 L1866.2,537.0 L1866.2,538.0 L1866.2,539.0 L1866.2,540.0 L1866.2,541.0 L1866.2,542.0 L1866.2,543.0 L1866.2,544.0 L1866.2,545.0 L1866.2,546.0 L1866.2,547.0 L1866.2,548.0 L1866.2,549.0 L1866.2,550.0 L1866.2,551.0 L1866.2,552.0 L1866.2,553.0 L1866.2,554.0 L1866.2,555.0 L1866.2,556.0 L1866.2,557.0 L1866.3,558.0 L1866.8,559.0 L1867.5,560.0 L1867.7,561.0 L1867.7,562.0 L1867.7,563.0 L1867.7,564.0 L1867.7,565.0 L1867.7,566.0 L1867.7,567.0 L1867.7,568.0 L1867.7,569.0 L1867.7,570.0 L1867.7,571.0 L1867.7,572.0 L1867.7,573.0 L1867.7,574.0 L1867.7,575.0 L1867.7,576.0 L1867.7,577.0 L1867.7,578.0 L1867.7,579.0 L1867.7,580.0 L1867.8,581.0 L1867.9,582.0 L1868.1,583.0 L1868.2,584.0 L1868.4,585.0 L1868.6,586.0 L1868.7,587.0 L1868.9,588.0 L1869.0,589.0 L1869.2,590.0 L1869.4,591.0 L1869.5,592.0 L1869.7,593.0 L1869.8,594.0 L1869.9,595.0 L1870.0,596.0 L1870.1,597.0 L1870.1,598.0 L1870.1,599.0 L1870.0,600.0 L1869.8,601.0 L1869.5,602.0 L1869.2,603.0 L1868.9,604.0 L1868.6,605.0 L1868.3,606.0 L1868.1,607.0 L1867.9,608.0 L1867.7,609.0 L1867.7,610.0 L1867.7,611.0 L1867.7,612.0 L1867.7,613.0 L1867.7,614.0 L1867.7,615.0 L1867.7,616.0 L1867.7,617.0 L1867.7,618.0 L1867.7,619.0 L1867.7,620.0 L1867.7,621.0 L1867.7,622.0 L1867.7,623.0 L1867.7,624.0 L1867.7,625.0 L1867.7,626.0 L1867.7,627.0 L1867.7,628.0 L1867.7,629.0 L1867.7,630.0 L1867.7,631.0 L1867.7,632.0 L1867.7,633.0 L1867.7,634.0 L1867.8,635.0 L1867.8,636.0 L1867.8,637.0 L1867.8,638.0 L1867.9,639.0 L1867.9,640.0 L1868.0,641.0 L1868.0,642.0 L1868.1,643.0 L1868.2,644.0 L1868.3,645.0 L1868.6,646.0 L1869.3,647.0 L1870.2,648.0 L1871.3,649.0 L1872.5,650.0 L1873.7,651.0 L1874.8,652.0 L1876.2,653.0 L1877.7,654.0 L1879.4,655.0 L1881.1,656.0 L1882.9,657.0 L1884.6,658.0 L1886.2,659.0 L1887.7,660.0 L1889.1,661.0 L1890.5,662.0 L1891.9,663.0 L1893.3,664.0 L1894.6,665.0 L1895.9,666.0 L1897.2,667.0 L1898.5,668.0 L1899.8,669.0 L1901.1,670.0 L1902.3,671.0 L1903.4,672.0 L1904.4,673.0 L1905.4,674.0 L1906.3,675.0 L1907.2,676.0 L1908.1,677.0 L1908.9,678.0 L1909.6,679.0 L1910.1,680.0 L1910.5,681.0 L1910.9,682.0 L1911.1,683.0 L1911.3,684.0 L1911.2,685.0 L1910.8,686.0 L1910.2,687.0 L1909.4,688.0 L1908.4,689.0 L1907.3,690.0 L1906.2,691.0 L1905.2,692.0 L1904.2,693.0 L1903.1,694.0 L1901.9,695.0 L1900.7,696.0 L1899.4,697.0 L1898.0,698.0 L1896.6,699.0 L1895.3,700.0 L1893.8,701.0 L1892.5,702.0 L1891.0,703.0 L1889.5,704.0 L1887.8,705.0 L1886.1,706.0 L1884.4,707.0 L1882.6,708.0 L1880.9,709.0 L1879.3,710.0 L1877.9,711.0 L1876.5,712.0 L1875.5,713.0 L1874.6,714.0 L1873.9,715.0 L1873.3,716.0 L1872.7,717.0 L1872.1,718.0 L1871.6,719.0 L1871.1,720.0 L1870.7,721.0 L1870.3,722.0 L1869.9,723.0 L1869.6,724.0 L1869.3,725.0 L1869.1,726.0 L1868.8,727.0 L1868.6,728.0 L1868.4,729.0 L1868.3,730.0 L1868.1,731.0 L1867.9,732.0 L1867.8,733.0 L1867.6,734.0 L1867.5,735.0 L1867.3,736.0 L1867.2,737.0 L1867.1,738.0 L1866.9,739.0 L1866.8,740.0 L1866.6,741.0 L1866.5,742.0 L1866.4,743.0 L1866.2,744.0 L1865.9,744.0 L1865.8,743.0 L1865.7,742.0 L1865.6,741.0 L1865.4,740.0 L1865.3,739.0 L1865.1,738.0 L1865.0,737.0 L1864.9,736.0 L1864.7,735.0 L1864.6,734.0 L1864.4,733.0 L1864.3,732.0 L1864.1,731.0 L1863.9,730.0 L1863.8,729.0 L1863.6,728.0 L1863.4,727.0 L1863.1,726.0 L1862.9,725.0 L1862.6,724.0 L1862.3,723.0 L1861.9,722.0 L1861.5,721.0 L1861.1,720.0 L1860.6,719.0 L1860.1,718.0 L1859.5,717.0 L1858.9,716.0 L1858.3,715.0 L1857.6,714.0 L1856.7,713.0 L1855.7,712.0 L1854.3,711.0 L1852.9,710.0 L1851.3,709.0 L1849.6,708.0 L1847.8,707.0 L1846.1,706.0 L1844.4,705.0 L1842.7,704.0 L1841.2,703.0 L1839.7,702.0 L1838.4,701.0 L1836.9,700.0 L1835.6,699.0 L1834.2,698.0 L1832.8,697.0 L1831.5,696.0 L1830.3,695.0 L1829.1,694.0 L1828.0,693.0 L1827.0,692.0 L1826.0,691.0 L1824.9,690.0 L1823.8,689.0 L1822.8,688.0 L1822.0,687.0 L1821.4,686.0 L1821.0,685.0 L1820.9,684.0 L1821.1,683.0 L1821.3,682.0 L1821.7,681.0 L1822.1,680.0 L1822.6,679.0 L1823.3,678.0 L1824.1,677.0 L1825.0,676.0 L1825.9,675.0 L1826.8,674.0 L1827.8,673.0 L1828.8,672.0 L1829.9,671.0 L1831.1,670.0 L1832.4,669.0 L1833.7,668.0 L1835.0,667.0 L1836.3,666.0 L1837.6,665.0 L1838.9,664.0 L1840.3,663.0 L1841.7,662.0 L1843.1,661.0 L1844.5,660.0 L1846.0,659.0 L1847.6,658.0 L1849.3,657.0 L1851.1,656.0 L1852.8,655.0 L1854.5,654.0 L1856.0,653.0 L1857.4,652.0 L1858.5,651.0 L1859.7,650.0 L1860.9,649.0 L1862.0,648.0 L1862.9,647.0 L1863.6,646.0 L1863.9,645.0 L1864.0,644.0 L1864.1,643.0 L1864.2,642.0 L1864.2,641.0 L1864.3,640.0 L1864.3,639.0 L1864.4,638.0 L1864.4,637.0 L1864.4,636.0 L1864.4,635.0 L1864.5,634.0 L1864.5,633.0 L1864.5,632.0 L1864.5,631.0 L1864.5,630.0 L1864.5,629.0 L1864.5,628.0 L1864.5,627.0 L1864.5,626.0 L1864.5,625.0 L1864.5,624.0 L1864.5,623.0 L1864.5,622.0 L1864.5,621.0 L1864.5,620.0 L1864.5,619.0 L1864.5,618.0 L1864.5,617.0 L1864.5,616.0 L1864.5,615.0 L1864.5,614.0 L1864.5,613.0 L1864.5,612.0 L1864.5,611.0 L1864.5,610.0 L1864.5,609.0 L1864.3,608.0 L1864.1,607.0 L1863.9,606.0 L1863.6,605.0 L1863.3,604.0 L1863.0,603.0 L1862.7,602.0 L1862.4,601.0 L1862.2,600.0 L1862.1,599.0 L1862.1,598.0 L1862.1,597.0 L1862.2,596.0 L1862.3,595.0 L1862.4,594.0 L1862.5,593.0 L1862.7,592.0 L1862.8,591.0 L1863.0,590.0 L1863.2,589.0 L1863.3,588.0 L1863.5,587.0 L1863.6,586.0 L1863.8,585.0 L1864.0,584.0 L1864.1,583.0 L1864.3,582.0 L1864.4,581.0 L1864.5,580.0 L1864.5,579.0 L1864.5,578.0 L1864.5,577.0 L1864.5,576.0 L1864.5,575.0 L1864.5,574.0 L1864.5,573.0 L1864.5,572.0 L1864.5,571.0 L1864.5,570.0 L1864.5,569.0 L1864.5,568.0 L1864.5,567.0 L1864.5,566.0 L1864.5,565.0 L1864.5,564.0 L1864.5,563.0 L1864.5,562.0 L1864.5,561.0 L1864.7,560.0 L1865.4,559.0 L1865.9,558.0 L1865.9,557.0 L1865.9,556.0 L1865.9,555.0 L1865.9,554.0 L1865.9,553.0 L1865.9,552.0 L1865.9,551.0 L1865.9,550.0 L1865.9,549.0 L1865.9,548.0 L1865.9,547.0 L1865.9,546.0 L1865.9,545.0 L1865.9,544.0 L1865.9,543.0 L1865.9,542.0 L1865.9,541.0 L1865.9,540.0 L1865.9,539.0 L1865.9,538.0 L1865.9,537.0 L1865.9,536.0 L1865.9,535.0 L1865.9,534.0 L1865.9,533.0 L1865.9,532.0 L1865.9,531.0 L1865.9,530.0 L1865.9,529.0 L1865.9,528.0 L1865.9,527.0 L1865.9,526.0 L1865.9,525.0 L1865.9,524.0 L1865.9,523.0 L1865.9,522.0 L1865.9,521.0 Z" fill="#f2d390" stroke="#000" stroke-width="1.2" stroke-linejoin="round"/>
<line x1="1866.1" y1="590.0" x2="1866.1" y2="742.0" stroke="#808080" stroke-width="1.6"/>
<rect x="1862.1" y="672.0" width="8.0" height="23.9" fill="#808080"/>
<circle cx="1866.1" cy="683.3" r="5.4" fill="#fff" stroke="#8a8a8a" stroke-width="1.5"/>
<line x1="1821.8" y1="683.3" x2="1910.4" y2="683.3" stroke="#000" stroke-width="5"/>
<rect x="1863.9" y="681.8" width="4.4" height="3" fill="#fff" opacity="0.0"/>
<text x="1714.7" y="772.0" font-size="17.5" font-family="'DejaVu Sans', 'Liberation Sans', sans-serif" fill="#111" text-anchor="middle" textLength="134.6" lengthAdjust="spacingAndGlyphs" stroke="#111" stroke-width="0.35">Co-localization</text>
<text x="1714.7" y="796.0" font-size="17.5" font-family="'DejaVu Sans', 'Liberation Sans', sans-serif" fill="#111" text-anchor="middle" textLength="65.4" lengthAdjust="spacingAndGlyphs" stroke="#111" stroke-width="0.35">control</text>
<text x="1714.7" y="817.5" font-size="17.5" font-family="'DejaVu Sans', 'Liberation Sans', sans-serif" fill="#808080" text-anchor="middle" textLength="125.7" lengthAdjust="spacingAndGlyphs" stroke="#808080" stroke-width="0.35">N = 7, n = 408</text>
<text x="1876.7" y="772.0" font-size="17.5" font-family="'DejaVu Sans', 'Liberation Sans', sans-serif" fill="#111" text-anchor="middle" textLength="68.2" lengthAdjust="spacingAndGlyphs" stroke="#111" stroke-width="0.35">knrl-kni</text>
<text x="1876.7" y="796.0" font-size="17.5" font-family="'DejaVu Sans', 'Liberation Sans', sans-serif" fill="#808080" text-anchor="middle" textLength="137.6" lengthAdjust="spacingAndGlyphs" stroke="#808080" stroke-width="0.35">N = 13, n = 179</text>
<line x1="137.3" y1="927.6" x2="137.3" y2="1172.0" stroke="#222" stroke-width="1.9"/>
<line x1="137.3" y1="1172.0" x2="632.5" y2="1172.0" stroke="#222" stroke-width="1.9"/>
<text x="126.3" y="1180.7" font-size="24.5" font-family="'Liberation Sans', Arial, sans-serif" fill="#1a1a1a" text-anchor="end" textLength="12.5" lengthAdjust="spacingAndGlyphs">0</text>
<text x="126.3" y="1119.6" font-size="24.5" font-family="'Liberation Sans', Arial, sans-serif" fill="#1a1a1a" text-anchor="end" textLength="37.5" lengthAdjust="spacingAndGlyphs">500</text>
<text x="126.3" y="1058.5" font-size="24.5" font-family="'Liberation Sans', Arial, sans-serif" fill="#1a1a1a" text-anchor="end" textLength="50.0" lengthAdjust="spacingAndGlyphs">1000</text>
<text x="126.3" y="997.4" font-size="24.5" font-family="'Liberation Sans', Arial, sans-serif" fill="#1a1a1a" text-anchor="end" textLength="50.0" lengthAdjust="spacingAndGlyphs">1500</text>
<text x="126.3" y="936.3" font-size="24.5" font-family="'Liberation Sans', Arial, sans-serif" fill="#1a1a1a" text-anchor="end" textLength="50.0" lengthAdjust="spacingAndGlyphs">2000</text>
<text x="244.7" y="917.8" font-size="20" font-family="'DejaVu Sans', 'Liberation Sans', sans-serif" fill="#000" textLength="243.3" lengthAdjust="spacingAndGlyphs" stroke="#000" stroke-width="0.35">Instantaneous distances</text>
<text x="35.0" y="1040.0" font-size="29" font-family="'DejaVu Sans', 'Liberation Sans', sans-serif" fill="#000" text-anchor="middle" textLength="153" lengthAdjust="spacingAndGlyphs" transform="rotate(-90 35.0 1040.0)" stroke="#000" stroke-width="0.35">Distance (nm)</text>
<path d="M220.6,1024.3 L220.6,1025.3 L220.6,1026.3 L220.6,1027.3 L220.6,1028.3 L220.6,1029.3 L220.6,1030.3 L220.6,1031.3 L220.6,1032.3 L220.6,1033.3 L220.6,1034.3 L220.6,1035.3 L220.6,1036.3 L220.6,1037.3 L220.6,1038.3 L220.6,1039.3 L220.6,1040.3 L220.6,1041.3 L220.6,1042.3 L220.6,1043.3 L220.6,1044.3 L220.6,1045.3 L220.6,1046.3 L220.6,1047.3 L220.6,1048.3 L220.6,1049.3 L220.6,1050.3 L220.6,1051.3 L220.6,1052.3 L220.6,1053.3 L220.6,1054.3 L220.6,1055.3 L220.6,1056.3 L220.6,1057.3 L220.6,1058.3 L220.6,1059.3 L220.6,1060.3 L220.7,1061.3 L220.7,1062.3 L220.7,1063.3 L220.7,1064.3 L220.7,1065.3 L220.7,1066.3 L220.7,1067.3 L220.7,1068.3 L220.7,1069.3 L220.7,1070.3 L220.7,1071.3 L220.7,1072.3 L220.7,1073.3 L220.7,1074.3 L220.7,1075.3 L220.7,1076.3 L220.7,1077.3 L220.7,1078.3 L220.7,1079.3 L220.7,1080.3 L220.7,1081.3 L220.7,1082.3 L220.7,1083.3 L220.7,1084.3 L220.7,1085.3 L220.7,1086.3 L220.7,1087.3 L220.7,1088.3 L220.7,1089.3 L220.7,1090.3 L220.8,1091.3 L220.8,1092.3 L220.8,1093.3 L220.8,1094.3 L220.8,1095.3 L220.8,1096.3 L220.8,1097.3 L220.8,1098.3 L220.8,1099.3 L220.8,1100.3 L220.8,1101.3 L220.8,1102.3 L220.8,1103.3 L220.8,1104.3 L220.8,1105.3 L220.9,1106.3 L220.9,1107.3 L220.9,1108.3 L220.9,1109.3 L220.9,1110.3 L220.9,1111.3 L220.9,1112.3 L220.9,1113.3 L220.9,1114.3 L221.0,1115.3 L221.0,1116.3 L221.0,1117.3 L221.0,1118.3 L221.0,1119.3 L221.2,1120.3 L221.5,1121.3 L222.0,1122.3 L222.3,1123.3 L222.6,1124.3 L222.9,1125.3 L223.1,1126.3 L223.3,1127.3 L223.5,1128.3 L223.7,1129.3 L224.0,1130.3 L224.2,1131.3 L224.5,1132.3 L224.9,1133.3 L225.4,1134.3 L226.1,1135.3 L227.0,1136.3 L228.1,1137.3 L229.3,1138.3 L230.6,1139.3 L232.1,1140.3 L233.6,1141.3 L235.1,1142.3 L236.7,1143.3 L238.4,1144.3 L240.4,1145.3 L242.5,1146.3 L244.8,1147.3 L247.2,1148.3 L249.6,1149.3 L251.9,1150.3 L254.2,1151.3 L256.7,1152.3 L259.3,1153.3 L261.8,1154.3 L264.0,1155.3 L265.8,1156.3 L267.2,1157.3 L268.5,1158.3 L269.5,1159.3 L269.8,1160.3 L267.6,1161.3 L262.8,1162.3 L256.9,1163.3 L251.1,1164.3 L243.6,1165.3 L235.7,1166.3 L229.9,1167.3 L227.0,1168.3 L225.0,1169.3 L223.4,1170.3 L221.8,1171.3 L220.6,1172.0 L220.2,1172.0 L219.0,1171.3 L217.4,1170.3 L215.8,1169.3 L213.8,1168.3 L210.9,1167.3 L205.1,1166.3 L197.2,1165.3 L189.7,1164.3 L183.9,1163.3 L178.0,1162.3 L173.2,1161.3 L171.0,1160.3 L171.3,1159.3 L172.3,1158.3 L173.6,1157.3 L175.0,1156.3 L176.8,1155.3 L179.0,1154.3 L181.5,1153.3 L184.1,1152.3 L186.6,1151.3 L188.9,1150.3 L191.2,1149.3 L193.6,1148.3 L196.0,1147.3 L198.3,1146.3 L200.4,1145.3 L202.4,1144.3 L204.1,1143.3 L205.7,1142.3 L207.2,1141.3 L208.7,1140.3 L210.2,1139.3 L211.5,1138.3 L212.7,1137.3 L213.8,1136.3 L214.7,1135.3 L215.4,1134.3 L215.9,1133.3 L216.3,1132.3 L216.6,1131.3 L216.8,1130.3 L217.1,1129.3 L217.3,1128.3 L217.5,1127.3 L217.7,1126.3 L217.9,1125.3 L218.2,1124.3 L218.5,1123.3 L218.8,1122.3 L219.3,1121.3 L219.6,1120.3 L219.8,1119.3 L219.8,1118.3 L219.8,1117.3 L219.8,1116.3 L219.8,1115.3 L219.9,1114.3 L219.9,1113.3 L219.9,1112.3 L219.9,1111.3 L219.9,1110.3 L219.9,1109.3 L219.9,1108.3 L219.9,1107.3 L219.9,1106.3 L220.0,1105.3 L220.0,1104.3 L220.0,1103.3 L220.0,1102.3 L220.0,1101.3 L220.0,1100.3 L220.0,1099.3 L220.0,1098.3 L220.0,1097.3 L220.0,1096.3 L220.0,1095.3 L220.0,1094.3 L220.0,1093.3 L220.0,1092.3 L220.0,1091.3 L220.1,1090.3 L220.1,1089.3 L220.1,1088.3 L220.1,1087.3 L220.1,1086.3 L220.1,1085.3 L220.1,1084.3 L220.1,1083.3 L220.1,1082.3 L220.1,1081.3 L220.1,1080.3 L220.1,1079.3 L220.1,1078.3 L220.1,1077.3 L220.1,1076.3 L220.1,1075.3 L220.1,1074.3 L220.1,1073.3 L220.1,1072.3 L220.1,1071.3 L220.1,1070.3 L220.1,1069.3 L220.1,1068.3 L220.1,1067.3 L220.1,1066.3 L220.1,1065.3 L220.1,1064.3 L220.1,1063.3 L220.1,1062.3 L220.1,1061.3 L220.2,1060.3 L220.2,1059.3 L220.2,1058.3 L220.2,1057.3 L220.2,1056.3 L220.2,1055.3 L220.2,1054.3 L220.2,1053.3 L220.2,1052.3 L220.2,1051.3 L220.2,1050.3 L220.2,1049.3 L220.2,1048.3 L220.2,1047.3 L220.2,1046.3 L220.2,1045.3 L220.2,1044.3 L220.2,1043.3 L220.2,1042.3 L220.2,1041.3 L220.2,1040.3 L220.2,1039.3 L220.2,1038.3 L220.2,1037.3 L220.2,1036.3 L220.2,1035.3 L220.2,1034.3 L220.2,1033.3 L220.2,1032.3 L220.2,1031.3 L220.2,1030.3 L220.2,1029.3 L220.2,1028.3 L220.2,1027.3 L220.2,1026.3 L220.2,1025.3 L220.2,1024.3 Z" fill="#f2d390" stroke="#000" stroke-width="1.8" stroke-linejoin="round"/>
<line x1="220.4" y1="1125.0" x2="220.4" y2="1170.0" stroke="#808080" stroke-width="1.6"/>
<rect x="216.4" y="1148.0" width="8.0" height="14.0" fill="#808080"/>
<circle cx="220.4" cy="1155.9" r="5.4" fill="#fff" stroke="#8a8a8a" stroke-width="1.5"/>
<line x1="176.8" y1="1155.9" x2="264.0" y2="1155.9" stroke="#000" stroke-width="5"/>
<rect x="218.2" y="1154.4" width="4.4" height="3" fill="#fff" opacity="0.0"/>
<path d="M387.9,941.8 L388.0,942.8 L388.0,943.8 L388.0,944.8 L388.0,945.8 L388.0,946.8 L388.0,947.8 L388.0,948.8 L388.0,949.8 L388.0,950.8 L388.0,951.8 L388.0,952.8 L388.0,953.8 L388.0,954.8 L388.0,955.8 L388.0,956.8 L388.1,957.8 L388.1,958.8 L388.1,959.8 L388.1,960.8 L388.1,961.8 L388.1,962.8 L388.1,963.8 L388.1,964.8 L388.1,965.8 L388.1,966.8 L388.1,967.8 L388.1,968.8 L388.1,969.8 L388.1,970.8 L388.1,971.8 L388.1,972.8 L388.1,973.8 L388.1,974.8 L388.1,975.8 L388.1,976.8 L388.2,977.8 L388.2,978.8 L388.2,979.8 L388.2,980.8 L388.2,981.8 L388.2,982.8 L388.2,983.8 L388.2,984.8 L388.2,985.8 L388.2,986.8 L388.2,987.8 L388.2,988.8 L388.2,989.8 L388.2,990.8 L388.2,991.8 L388.2,992.8 L388.2,993.8 L388.2,994.8 L388.2,995.8 L388.2,996.8 L388.2,997.8 L388.2,998.8 L388.3,999.8 L388.3,1000.8 L388.3,1001.8 L388.3,1002.8 L388.3,1003.8 L388.3,1004.8 L388.3,1005.8 L388.3,1006.8 L388.3,1007.8 L388.3,1008.8 L388.3,1009.8 L388.3,1010.8 L388.3,1011.8 L388.3,1012.8 L388.3,1013.8 L388.3,1014.8 L388.3,1015.8 L388.3,1016.8 L388.4,1017.8 L388.4,1018.8 L388.4,1019.8 L388.4,1020.8 L388.4,1021.8 L388.4,1022.8 L388.4,1023.8 L388.4,1024.8 L388.4,1025.8 L388.4,1026.8 L388.4,1027.8 L388.4,1028.8 L388.4,1029.8 L388.5,1030.8 L388.5,1031.8 L388.5,1032.8 L388.5,1033.8 L388.5,1034.8 L388.5,1035.8 L388.5,1036.8 L388.5,1037.8 L388.5,1038.8 L388.5,1039.8 L388.6,1040.8 L388.6,1041.8 L388.6,1042.8 L388.6,1043.8 L388.6,1044.8 L388.6,1045.8 L388.6,1046.8 L388.6,1047.8 L388.6,1048.8 L388.7,1049.8 L388.7,1050.8 L388.7,1051.8 L388.7,1052.8 L388.7,1053.8 L388.7,1054.8 L388.7,1055.8 L388.8,1056.8 L388.8,1057.8 L388.8,1058.8 L388.8,1059.8 L388.8,1060.8 L388.8,1061.8 L388.9,1062.8 L388.9,1063.8 L388.9,1064.8 L388.9,1065.8 L388.9,1066.8 L389.0,1067.8 L389.0,1068.8 L389.0,1069.8 L389.1,1070.8 L389.1,1071.8 L389.2,1072.8 L389.3,1073.8 L389.3,1074.8 L389.4,1075.8 L389.5,1076.8 L389.6,1077.8 L389.8,1078.8 L389.9,1079.8 L390.1,1080.8 L390.4,1081.8 L390.8,1082.8 L391.4,1083.8 L392.0,1084.8 L392.7,1085.8 L393.5,1086.8 L394.2,1087.8 L395.0,1088.8 L395.8,1089.8 L396.5,1090.8 L397.4,1091.8 L398.3,1092.8 L399.3,1093.8 L400.2,1094.8 L401.1,1095.8 L402.0,1096.8 L402.9,1097.8 L403.9,1098.8 L404.8,1099.8 L405.7,1100.8 L406.7,1101.8 L407.7,1102.8 L408.7,1103.8 L409.7,1104.8 L410.7,1105.8 L411.7,1106.8 L412.7,1107.8 L413.8,1108.8 L414.8,1109.8 L415.9,1110.8 L417.1,1111.8 L418.3,1112.8 L419.5,1113.8 L420.8,1114.8 L422.2,1115.8 L423.7,1116.8 L425.2,1117.8 L426.6,1118.8 L428.0,1119.8 L429.4,1120.8 L430.7,1121.8 L431.9,1122.8 L433.2,1123.8 L434.4,1124.8 L435.5,1125.8 L436.3,1126.8 L436.7,1127.8 L437.1,1128.8 L437.3,1129.8 L437.4,1130.8 L437.3,1131.8 L436.7,1132.8 L435.9,1133.8 L434.8,1134.8 L433.7,1135.8 L432.4,1136.8 L431.3,1137.8 L430.2,1138.8 L429.1,1139.8 L428.0,1140.8 L426.9,1141.8 L425.7,1142.8 L424.6,1143.8 L423.3,1144.8 L422.1,1145.8 L420.8,1146.8 L419.5,1147.8 L418.2,1148.8 L416.9,1149.8 L415.5,1150.8 L414.0,1151.8 L412.4,1152.8 L410.8,1153.8 L409.1,1154.8 L407.3,1155.8 L405.6,1156.8 L403.9,1157.8 L402.2,1158.8 L400.6,1159.8 L399.1,1160.8 L397.7,1161.8 L396.5,1162.8 L395.4,1163.8 L394.4,1164.8 L393.4,1165.8 L392.5,1166.8 L391.6,1167.8 L390.8,1168.8 L389.9,1169.8 L389.0,1170.8 L388.1,1171.8 L387.9,1172.0 L387.7,1172.0 L387.5,1171.8 L386.6,1170.8 L385.7,1169.8 L384.8,1168.8 L384.0,1167.8 L383.1,1166.8 L382.2,1165.8 L381.2,1164.8 L380.2,1163.8 L379.1,1162.8 L377.9,1161.8 L376.5,1160.8 L375.0,1159.8 L373.4,1158.8 L371.7,1157.8 L370.0,1156.8 L368.3,1155.8 L366.5,1154.8 L364.8,1153.8 L363.2,1152.8 L361.6,1151.8 L360.1,1150.8 L358.7,1149.8 L357.4,1148.8 L356.1,1147.8 L354.8,1146.8 L353.5,1145.8 L352.3,1144.8 L351.0,1143.8 L349.9,1142.8 L348.7,1141.8 L347.6,1140.8 L346.5,1139.8 L345.4,1138.8 L344.3,1137.8 L343.2,1136.8 L341.9,1135.8 L340.8,1134.8 L339.7,1133.8 L338.9,1132.8 L338.3,1131.8 L338.2,1130.8 L338.3,1129.8 L338.5,1128.8 L338.9,1127.8 L339.3,1126.8 L340.1,1125.8 L341.2,1124.8 L342.4,1123.8 L343.7,1122.8 L344.9,1121.8 L346.2,1120.8 L347.6,1119.8 L349.0,1118.8 L350.4,1117.8 L351.9,1116.8 L353.4,1115.8 L354.8,1114.8 L356.1,1113.8 L357.3,1112.8 L358.5,1111.8 L359.7,1110.8 L360.8,1109.8 L361.8,1108.8 L362.9,1107.8 L363.9,1106.8 L364.9,1105.8 L365.9,1104.8 L366.9,1103.8 L367.9,1102.8 L368.9,1101.8 L369.9,1100.8 L370.8,1099.8 L371.7,1098.8 L372.7,1097.8 L373.6,1096.8 L374.5,1095.8 L375.4,1094.8 L376.3,1093.8 L377.3,1092.8 L378.2,1091.8 L379.1,1090.8 L379.8,1089.8 L380.6,1088.8 L381.4,1087.8 L382.1,1086.8 L382.9,1085.8 L383.6,1084.8 L384.2,1083.8 L384.8,1082.8 L385.2,1081.8 L385.5,1080.8 L385.7,1079.8 L385.8,1078.8 L386.0,1077.8 L386.1,1076.8 L386.2,1075.8 L386.3,1074.8 L386.3,1073.8 L386.4,1072.8 L386.5,1071.8 L386.5,1070.8 L386.6,1069.8 L386.6,1068.8 L386.6,1067.8 L386.7,1066.8 L386.7,1065.8 L386.7,1064.8 L386.7,1063.8 L386.7,1062.8 L386.8,1061.8 L386.8,1060.8 L386.8,1059.8 L386.8,1058.8 L386.8,1057.8 L386.8,1056.8 L386.9,1055.8 L386.9,1054.8 L386.9,1053.8 L386.9,1052.8 L386.9,1051.8 L386.9,1050.8 L386.9,1049.8 L387.0,1048.8 L387.0,1047.8 L387.0,1046.8 L387.0,1045.8 L387.0,1044.8 L387.0,1043.8 L387.0,1042.8 L387.0,1041.8 L387.0,1040.8 L387.1,1039.8 L387.1,1038.8 L387.1,1037.8 L387.1,1036.8 L387.1,1035.8 L387.1,1034.8 L387.1,1033.8 L387.1,1032.8 L387.1,1031.8 L387.1,1030.8 L387.2,1029.8 L387.2,1028.8 L387.2,1027.8 L387.2,1026.8 L387.2,1025.8 L387.2,1024.8 L387.2,1023.8 L387.2,1022.8 L387.2,1021.8 L387.2,1020.8 L387.2,1019.8 L387.2,1018.8 L387.2,1017.8 L387.3,1016.8 L387.3,1015.8 L387.3,1014.8 L387.3,1013.8 L387.3,1012.8 L387.3,1011.8 L387.3,1010.8 L387.3,1009.8 L387.3,1008.8 L387.3,1007.8 L387.3,1006.8 L387.3,1005.8 L387.3,1004.8 L387.3,1003.8 L387.3,1002.8 L387.3,1001.8 L387.3,1000.8 L387.3,999.8 L387.4,998.8 L387.4,997.8 L387.4,996.8 L387.4,995.8 L387.4,994.8 L387.4,993.8 L387.4,992.8 L387.4,991.8 L387.4,990.8 L387.4,989.8 L387.4,988.8 L387.4,987.8 L387.4,986.8 L387.4,985.8 L387.4,984.8 L387.4,983.8 L387.4,982.8 L387.4,981.8 L387.4,980.8 L387.4,979.8 L387.4,978.8 L387.4,977.8 L387.5,976.8 L387.5,975.8 L387.5,974.8 L387.5,973.8 L387.5,972.8 L387.5,971.8 L387.5,970.8 L387.5,969.8 L387.5,968.8 L387.5,967.8 L387.5,966.8 L387.5,965.8 L387.5,964.8 L387.5,963.8 L387.5,962.8 L387.5,961.8 L387.5,960.8 L387.5,959.8 L387.5,958.8 L387.5,957.8 L387.6,956.8 L387.6,955.8 L387.6,954.8 L387.6,953.8 L387.6,952.8 L387.6,951.8 L387.6,950.8 L387.6,949.8 L387.6,948.8 L387.6,947.8 L387.6,946.8 L387.6,945.8 L387.6,944.8 L387.6,943.8 L387.6,942.8 L387.7,941.8 Z" fill="#f2d390" stroke="#000" stroke-width="1.8" stroke-linejoin="round"/>
<line x1="387.8" y1="1075.0" x2="387.8" y2="1170.0" stroke="#808080" stroke-width="1.6"/>
<rect x="383.8" y="1120.0" width="8.0" height="19.6" fill="#808080"/>
<circle cx="387.8" cy="1129.9" r="5.4" fill="#fff" stroke="#8a8a8a" stroke-width="1.5"/>
<line x1="339.0" y1="1129.9" x2="436.6" y2="1129.9" stroke="#000" stroke-width="5"/>
<rect x="385.6" y="1128.4" width="4.4" height="3" fill="#fff" opacity="0.0"/>
<path d="M555.4,940.6 L555.4,941.6 L555.4,942.6 L555.4,943.6 L555.4,944.6 L555.4,945.6 L555.4,946.6 L555.5,947.6 L555.5,948.6 L555.5,949.6 L555.5,950.6 L555.5,951.6 L555.6,952.6 L555.6,953.6 L555.6,954.6 L555.6,955.6 L555.6,956.6 L555.6,957.6 L555.7,958.6 L555.7,959.6 L555.7,960.6 L555.7,961.6 L555.7,962.6 L555.7,963.6 L555.8,964.6 L555.8,965.6 L555.8,966.6 L555.8,967.6 L555.8,968.6 L555.8,969.6 L555.9,970.6 L555.9,971.6 L555.9,972.6 L555.9,973.6 L555.9,974.6 L555.9,975.6 L556.0,976.6 L556.0,977.6 L556.0,978.6 L556.0,979.6 L556.0,980.6 L556.0,981.6 L556.1,982.6 L556.1,983.6 L556.1,984.6 L556.1,985.6 L556.1,986.6 L556.1,987.6 L556.2,988.6 L556.2,989.6 L556.2,990.6 L556.2,991.6 L556.2,992.6 L556.2,993.6 L556.2,994.6 L556.2,995.6 L556.3,996.6 L556.3,997.6 L556.3,998.6 L556.3,999.6 L556.3,1000.6 L556.3,1001.6 L556.3,1002.6 L556.3,1003.6 L556.3,1004.6 L556.4,1005.6 L556.4,1006.6 L556.4,1007.6 L556.4,1008.6 L556.4,1009.6 L556.4,1010.6 L556.4,1011.6 L556.4,1012.6 L556.4,1013.6 L556.4,1014.6 L556.4,1015.6 L556.4,1016.6 L556.4,1017.6 L556.4,1018.6 L556.4,1019.6 L556.4,1020.6 L556.4,1021.6 L556.5,1022.6 L556.5,1023.6 L556.5,1024.6 L556.5,1025.6 L556.5,1026.6 L556.5,1027.6 L556.5,1028.6 L556.5,1029.6 L556.5,1030.6 L556.5,1031.6 L556.5,1032.6 L556.5,1033.6 L556.5,1034.6 L556.5,1035.6 L556.5,1036.6 L556.5,1037.6 L556.6,1038.6 L556.6,1039.6 L556.6,1040.6 L556.6,1041.6 L556.6,1042.6 L556.6,1043.6 L556.6,1044.6 L556.6,1045.6 L556.6,1046.6 L556.7,1047.6 L556.7,1048.6 L556.7,1049.6 L556.7,1050.6 L556.7,1051.6 L556.7,1052.6 L556.8,1053.6 L556.8,1054.6 L556.8,1055.6 L556.8,1056.6 L556.9,1057.6 L557.0,1058.6 L557.1,1059.6 L557.3,1060.6 L557.5,1061.6 L557.7,1062.6 L557.9,1063.6 L558.1,1064.6 L558.3,1065.6 L558.5,1066.6 L558.8,1067.6 L559.1,1068.6 L559.4,1069.6 L559.7,1070.6 L560.1,1071.6 L560.5,1072.6 L560.9,1073.6 L561.3,1074.6 L561.8,1075.6 L562.2,1076.6 L562.7,1077.6 L563.2,1078.6 L563.8,1079.6 L564.4,1080.6 L565.1,1081.6 L565.8,1082.6 L566.5,1083.6 L567.2,1084.6 L568.0,1085.6 L568.8,1086.6 L569.6,1087.6 L570.5,1088.6 L571.5,1089.6 L572.4,1090.6 L573.5,1091.6 L574.5,1092.6 L575.5,1093.6 L576.5,1094.6 L577.5,1095.6 L578.5,1096.6 L579.5,1097.6 L580.6,1098.6 L581.6,1099.6 L582.7,1100.6 L583.8,1101.6 L584.8,1102.6 L585.9,1103.6 L586.9,1104.6 L588.0,1105.6 L589.1,1106.6 L590.2,1107.6 L591.3,1108.6 L592.4,1109.6 L593.4,1110.6 L594.5,1111.6 L595.5,1112.6 L596.5,1113.6 L597.5,1114.6 L598.6,1115.6 L599.7,1116.6 L600.7,1117.6 L601.6,1118.6 L602.4,1119.6 L603.1,1120.6 L603.6,1121.6 L604.1,1122.6 L604.6,1123.6 L605.0,1124.6 L605.2,1125.6 L605.3,1126.6 L605.1,1127.6 L604.6,1128.6 L603.9,1129.6 L603.0,1130.6 L601.9,1131.6 L600.8,1132.6 L599.5,1133.6 L598.2,1134.6 L596.8,1135.6 L595.4,1136.6 L594.1,1137.6 L592.8,1138.6 L591.5,1139.6 L590.0,1140.6 L588.5,1141.6 L586.8,1142.6 L585.1,1143.6 L583.3,1144.6 L581.6,1145.6 L579.8,1146.6 L578.1,1147.6 L576.5,1148.6 L575.0,1149.6 L573.6,1150.6 L572.2,1151.6 L570.8,1152.6 L569.4,1153.6 L568.0,1154.6 L566.6,1155.6 L565.3,1156.6 L564.0,1157.6 L562.8,1158.6 L561.8,1159.6 L560.8,1160.6 L560.0,1161.6 L559.3,1162.6 L558.7,1163.6 L558.2,1164.6 L557.7,1165.6 L557.3,1166.6 L557.0,1167.6 L556.6,1168.6 L556.3,1169.6 L555.9,1170.6 L555.5,1171.6 L555.4,1172.0 L555.1,1172.0 L554.9,1171.6 L554.5,1170.6 L554.1,1169.6 L553.8,1168.6 L553.4,1167.6 L553.1,1166.6 L552.7,1165.6 L552.2,1164.6 L551.7,1163.6 L551.1,1162.6 L550.4,1161.6 L549.6,1160.6 L548.6,1159.6 L547.6,1158.6 L546.4,1157.6 L545.1,1156.6 L543.8,1155.6 L542.4,1154.6 L541.0,1153.6 L539.6,1152.6 L538.2,1151.6 L536.8,1150.6 L535.4,1149.6 L533.9,1148.6 L532.3,1147.6 L530.6,1146.6 L528.8,1145.6 L527.1,1144.6 L525.3,1143.6 L523.6,1142.6 L521.9,1141.6 L520.4,1140.6 L518.9,1139.6 L517.6,1138.6 L516.3,1137.6 L515.0,1136.6 L513.6,1135.6 L512.2,1134.6 L510.9,1133.6 L509.6,1132.6 L508.5,1131.6 L507.4,1130.6 L506.5,1129.6 L505.8,1128.6 L505.3,1127.6 L505.1,1126.6 L505.2,1125.6 L505.4,1124.6 L505.8,1123.6 L506.3,1122.6 L506.8,1121.6 L507.3,1120.6 L508.0,1119.6 L508.8,1118.6 L509.7,1117.6 L510.7,1116.6 L511.8,1115.6 L512.9,1114.6 L513.9,1113.6 L514.9,1112.6 L515.9,1111.6 L517.0,1110.6 L518.0,1109.6 L519.1,1108.6 L520.2,1107.6 L521.3,1106.6 L522.4,1105.6 L523.5,1104.6 L524.5,1103.6 L525.6,1102.6 L526.6,1101.6 L527.7,1100.6 L528.8,1099.6 L529.8,1098.6 L530.9,1097.6 L531.9,1096.6 L532.9,1095.6 L533.9,1094.6 L534.9,1093.6 L535.9,1092.6 L536.9,1091.6 L538.0,1090.6 L538.9,1089.6 L539.9,1088.6 L540.8,1087.6 L541.6,1086.6 L542.4,1085.6 L543.2,1084.6 L543.9,1083.6 L544.6,1082.6 L545.3,1081.6 L546.0,1080.6 L546.6,1079.6 L547.2,1078.6 L547.7,1077.6 L548.2,1076.6 L548.6,1075.6 L549.1,1074.6 L549.5,1073.6 L549.9,1072.6 L550.3,1071.6 L550.7,1070.6 L551.0,1069.6 L551.3,1068.6 L551.6,1067.6 L551.9,1066.6 L552.1,1065.6 L552.3,1064.6 L552.5,1063.6 L552.7,1062.6 L552.9,1061.6 L553.1,1060.6 L553.3,1059.6 L553.4,1058.6 L553.5,1057.6 L553.6,1056.6 L553.6,1055.6 L553.6,1054.6 L553.6,1053.6 L553.7,1052.6 L553.7,1051.6 L553.7,1050.6 L553.7,1049.6 L553.7,1048.6 L553.7,1047.6 L553.8,1046.6 L553.8,1045.6 L553.8,1044.6 L553.8,1043.6 L553.8,1042.6 L553.8,1041.6 L553.8,1040.6 L553.8,1039.6 L553.8,1038.6 L553.9,1037.6 L553.9,1036.6 L553.9,1035.6 L553.9,1034.6 L553.9,1033.6 L553.9,1032.6 L553.9,1031.6 L553.9,1030.6 L553.9,1029.6 L553.9,1028.6 L553.9,1027.6 L553.9,1026.6 L553.9,1025.6 L553.9,1024.6 L553.9,1023.6 L553.9,1022.6 L554.0,1021.6 L554.0,1020.6 L554.0,1019.6 L554.0,1018.6 L554.0,1017.6 L554.0,1016.6 L554.0,1015.6 L554.0,1014.6 L554.0,1013.6 L554.0,1012.6 L554.0,1011.6 L554.0,1010.6 L554.0,1009.6 L554.0,1008.6 L554.0,1007.6 L554.0,1006.6 L554.0,1005.6 L554.1,1004.6 L554.1,1003.6 L554.1,1002.6 L554.1,1001.6 L554.1,1000.6 L554.1,999.6 L554.1,998.6 L554.1,997.6 L554.1,996.6 L554.2,995.6 L554.2,994.6 L554.2,993.6 L554.2,992.6 L554.2,991.6 L554.2,990.6 L554.2,989.6 L554.2,988.6 L554.3,987.6 L554.3,986.6 L554.3,985.6 L554.3,984.6 L554.3,983.6 L554.3,982.6 L554.4,981.6 L554.4,980.6 L554.4,979.6 L554.4,978.6 L554.4,977.6 L554.4,976.6 L554.5,975.6 L554.5,974.6 L554.5,973.6 L554.5,972.6 L554.5,971.6 L554.5,970.6 L554.6,969.6 L554.6,968.6 L554.6,967.6 L554.6,966.6 L554.6,965.6 L554.6,964.6 L554.7,963.6 L554.7,962.6 L554.7,961.6 L554.7,960.6 L554.7,959.6 L554.7,958.6 L554.8,957.6 L554.8,956.6 L554.8,955.6 L554.8,954.6 L554.8,953.6 L554.8,952.6 L554.9,951.6 L554.9,950.6 L554.9,949.6 L554.9,948.6 L554.9,947.6 L555.0,946.6 L555.0,945.6 L555.0,944.6 L555.0,943.6 L555.0,942.6 L555.0,941.6 L555.1,940.6 Z" fill="#f2d390" stroke="#000" stroke-width="1.8" stroke-linejoin="round"/>
<line x1="555.2" y1="1068.0" x2="555.2" y2="1170.0" stroke="#808080" stroke-width="1.6"/>
<rect x="551.2" y="1110.5" width="8.0" height="24.2" fill="#808080"/>
<circle cx="555.2" cy="1122.6" r="5.4" fill="#fff" stroke="#8a8a8a" stroke-width="1.5"/>
<line x1="507.1" y1="1122.6" x2="603.3" y2="1122.6" stroke="#000" stroke-width="5"/>
<rect x="553.0" y="1121.1" width="4.4" height="3" fill="#fff" opacity="0.0"/>
<text x="227.0" y="1203.0" font-size="17.5" font-family="'DejaVu Sans', 'Liberation Sans', sans-serif" fill="#111" text-anchor="middle" textLength="135.5" lengthAdjust="spacingAndGlyphs" stroke="#111" stroke-width="0.35">Co-localization</text>
<text x="227.0" y="1227.5" font-size="17.5" font-family="'DejaVu Sans', 'Liberation Sans', sans-serif" fill="#111" text-anchor="middle" textLength="65" lengthAdjust="spacingAndGlyphs" stroke="#111" stroke-width="0.35">control</text>
<text x="227.0" y="1248.5" font-size="17.5" font-family="'DejaVu Sans', 'Liberation Sans', sans-serif" fill="#808080" text-anchor="middle" textLength="42.6" lengthAdjust="spacingAndGlyphs" stroke="#808080" stroke-width="0.35">N=7,</text>
<text x="227.0" y="1273.0" font-size="17.5" font-family="'DejaVu Sans', 'Liberation Sans', sans-serif" fill="#808080" text-anchor="middle" textLength="90.4" lengthAdjust="spacingAndGlyphs" stroke="#808080" stroke-width="0.35">n = 12416</text>
<text x="389.0" y="1203.0" font-size="17.5" font-family="'DejaVu Sans', 'Liberation Sans', sans-serif" fill="#111" text-anchor="middle" textLength="67.9" lengthAdjust="spacingAndGlyphs" stroke="#111" stroke-width="0.35">knrl-kni</text>
<text x="389.0" y="1227.5" font-size="17.5" font-family="'DejaVu Sans', 'Liberation Sans', sans-serif" fill="#111" text-anchor="middle" textLength="136" lengthAdjust="spacingAndGlyphs" stroke="#111" stroke-width="0.35">Anterior stripe</text>
<text x="389.0" y="1248.5" font-size="17.5" font-family="'DejaVu Sans', 'Liberation Sans', sans-serif" fill="#808080" text-anchor="middle" textLength="64" lengthAdjust="spacingAndGlyphs" stroke="#808080" stroke-width="0.35">N = 13,</text>
<text x="389.0" y="1273.0" font-size="17.5" font-family="'DejaVu Sans', 'Liberation Sans', sans-serif" fill="#808080" text-anchor="middle" textLength="90.4" lengthAdjust="spacingAndGlyphs" stroke="#808080" stroke-width="0.35">n = 19712</text>
<text x="555.3" y="1203.0" font-size="17.5" font-family="'DejaVu Sans', 'Liberation Sans', sans-serif" fill="#111" text-anchor="middle" textLength="67.5" lengthAdjust="spacingAndGlyphs" stroke="#111" stroke-width="0.35">knrl-kni</text>
<text x="555.3" y="1227.5" font-size="17.5" font-family="'DejaVu Sans', 'Liberation Sans', sans-serif" fill="#111" text-anchor="middle" textLength="160" lengthAdjust="spacingAndGlyphs" stroke="#111" stroke-width="0.35">Posterior domain</text>
<text x="555.3" y="1248.5" font-size="17.5" font-family="'DejaVu Sans', 'Liberation Sans', sans-serif" fill="#808080" text-anchor="middle" textLength="49" lengthAdjust="spacingAndGlyphs" stroke="#808080" stroke-width="0.35">N = 8</text>
<text x="555.3" y="1273.0" font-size="17.5" font-family="'DejaVu Sans', 'Liberation Sans', sans-serif" fill="#808080" text-anchor="middle" textLength="78.5" lengthAdjust="spacingAndGlyphs" stroke="#808080" stroke-width="0.35">n = 1437</text>
<defs>
<clipPath id="jclip"><rect x="789.5" y="904" width="989.0" height="321"/></clipPath>
<linearGradient id="jbg" x1="0" y1="904" x2="0" y2="1225" gradientUnits="userSpaceOnUse">
<stop offset="0" stop-color="#fcf5ec"/><stop offset="0.3" stop-color="#fbeedc"/><stop offset="0.5" stop-color="#fae5c8"/>
<stop offset="0.68" stop-color="#f9dbb0"/><stop offset="0.8" stop-color="#f7c98a"/><stop offset="0.9" stop-color="#f5b463"/><stop offset="0.95" stop-color="#f3a045"/>
<stop offset="0.975" stop-color="#ee8530"/><stop offset="0.99" stop-color="#dc4e1e"/><stop offset="1" stop-color="#b02410"/></linearGradient>
<linearGradient id="tad" x1="0" y1="0" x2="0" y2="1">
<stop offset="0" stop-color="#f7c070" stop-opacity="0.25"/><stop offset="0.45" stop-color="#f4aa4c" stop-opacity="0.75"/>
<stop offset="0.8" stop-color="#f29632" stop-opacity="0.95"/><stop offset="1" stop-color="#ee8428" stop-opacity="1"/></linearGradient>
<linearGradient id="tad2" x1="0" y1="0" x2="0" y2="1">
<stop offset="0" stop-color="#f9d49a" stop-opacity="0.1"/><stop offset="0.55" stop-color="#f7c684" stop-opacity="0.45"/>
<stop offset="1" stop-color="#f5b868" stop-opacity="0.65"/></linearGradient>
<linearGradient id="tad3" x1="0" y1="0" x2="0" y2="1">
<stop offset="0" stop-color="#f3b870" stop-opacity="0.55"/><stop offset="0.4" stop-color="#f5c07a" stop-opacity="0.6"/>
<stop offset="1" stop-color="#f5b868" stop-opacity="0.7"/></linearGradient>
<linearGradient id="jbot" x1="0" y1="1199" x2="0" y2="1225" gradientUnits="userSpaceOnUse">
<stop offset="0" stop-color="#f08a30" stop-opacity="0"/><stop offset="0.45" stop-color="#ec7428" stop-opacity="0.55"/><stop offset="0.75" stop-color="#e2561c" stop-opacity="0.9"/><stop offset="0.92" stop-color="#cc3416" stop-opacity="1"/><stop offset="1" stop-color="#a01a10" stop-opacity="1"/></linearGradient>
<linearGradient id="tadd" x1="0" y1="0" x2="0" y2="1"><stop offset="0" stop-color="#f08a30" stop-opacity="0.25"/><stop offset="0.6" stop-color="#ec7426" stop-opacity="0.6"/><stop offset="1" stop-color="#e25c1e" stop-opacity="0.85"/></linearGradient>
<linearGradient id="thin" x1="0" y1="904" x2="0" y2="1225" gradientUnits="userSpaceOnUse">
<stop offset="0" stop-color="#f2f0f2" stop-opacity="0.15"/><stop offset="0.6" stop-color="#f0eff2" stop-opacity="0.5"/><stop offset="1" stop-color="#eeeef2" stop-opacity="0.95"/></linearGradient>
<radialGradient id="hot"><stop offset="0" stop-color="#d8401a" stop-opacity="0.95"/><stop offset="0.4" stop-color="#ea7a30" stop-opacity="0.6"/><stop offset="1" stop-color="#f5b060" stop-opacity="0"/></radialGradient>
<filter id="speck" x="0" y="0" width="1" height="1"><feTurbulence type="fractalNoise" baseFrequency="0.75" numOctaves="2" seed="3" result="n"/>
<feColorMatrix in="n" type="matrix" values="0 0 0 0 1  0 0 0 0 1  0 0 0 0 1  0 0 0 -4 2.3" result="w"/><feComposite in="w" in2="SourceGraphic" operator="in"/></filter>
<filter id="speck2" x="0" y="0" width="1" height="1"><feTurbulence type="fractalNoise" baseFrequency="0.8" numOctaves="2" seed="11" result="n"/>
<feColorMatrix in="n" type="matrix" values="0 0 0 0 0.95  0 0 0 0 0.72  0 0 0 0 0.45  0 0 0 4 -2.2" result="w"/><feComposite in="w" in2="SourceGraphic" operator="in"/></filter>
<linearGradient id="speckfade" x1="0" y1="904" x2="0" y2="1225" gradientUnits="userSpaceOnUse"><stop offset="0" stop-color="#fff" stop-opacity="1"/><stop offset="0.7" stop-color="#fff" stop-opacity="0.6"/><stop offset="1" stop-color="#fff" stop-opacity="0"/></linearGradient>
</defs>
<g clip-path="url(#jclip)">
<rect x="789.5" y="904.0" width="989.0" height="321.0" fill="url(#jbg)"/>
<polygon points="640.0,1225 822.5,1065.1 1005.0,1225" fill="url(#tad2)"/>
<polygon points="1506.0,1225 1703.0,1052.4 1900.0,1225" fill="url(#tad2)"/>
<polygon points="1307.6,1225 1406.8,1138.1 1506.0,1225" fill="url(#tad)"/>
<polygon points="1506.0,1225 1601.5,1141.3 1697.0,1225" fill="url(#tad)"/>
<polygon points="1064,1037 1275,1222 789,1222 789,1200 901,1140" fill="url(#tad3)"/>
<polygon points="700.0,1225 798.0,1139.2 896.0,1225" fill="url(#tad)"/>
<polygon points="896.0,1225 950.5,1177.3 1005.0,1225" fill="url(#tad)"/>
<polygon points="1005.0,1225 1156.3,1092.5 1307.6,1225" fill="url(#tad)"/>
<polygon points="1307.6,1225 1364.8,1174.9 1422.0,1225" fill="url(#tad)"/>
<polygon points="1422.0,1225 1464.0,1188.2 1506.0,1225" fill="url(#tad)"/>
<polygon points="1506.0,1225 1573.5,1165.9 1641.0,1225" fill="url(#tad)"/>
<polygon points="1641.0,1225 1669.0,1200.5 1697.0,1225" fill="url(#tad)"/>
<polygon points="1697.0,1225 1778.5,1153.6 1860.0,1225" fill="url(#tad)"/>
<polygon points="711.8,1225 798.0,1191.0 884.2,1225" fill="url(#tadd)"/>
<polygon points="719.6,1225 763.7,1201.8 807.8,1225" fill="url(#tadd)"/>
<polygon points="798.0,1225 839.2,1205.2 880.3,1225" fill="url(#tadd)"/>
<polygon points="902.5,1225 950.5,1195.6 998.5,1225" fill="url(#tadd)"/>
<polygon points="906.9,1225 931.4,1212.1 956.0,1225" fill="url(#tadd)"/>
<polygon points="950.5,1225 973.4,1214.0 996.3,1225" fill="url(#tadd)"/>
<polygon points="1023.2,1225 1156.3,1172.5 1289.4,1225" fill="url(#tadd)"/>
<polygon points="1035.3,1225 1103.3,1189.2 1171.4,1225" fill="url(#tadd)"/>
<polygon points="1156.3,1225 1219.8,1194.4 1283.4,1225" fill="url(#tadd)"/>
<polygon points="1314.5,1225 1364.8,1194.1 1415.1,1225" fill="url(#tadd)"/>
<polygon points="1319.0,1225 1344.8,1211.5 1370.5,1225" fill="url(#tadd)"/>
<polygon points="1364.8,1225 1388.8,1213.4 1412.8,1225" fill="url(#tadd)"/>
<polygon points="1427.0,1225 1464.0,1202.3 1501.0,1225" fill="url(#tadd)"/>
<polygon points="1430.4,1225 1449.3,1215.1 1468.2,1225" fill="url(#tadd)"/>
<polygon points="1464.0,1225 1481.6,1216.5 1499.3,1225" fill="url(#tadd)"/>
<polygon points="1514.1,1225 1573.5,1188.6 1632.9,1225" fill="url(#tadd)"/>
<polygon points="1519.5,1225 1549.9,1209.0 1580.2,1225" fill="url(#tadd)"/>
<polygon points="1573.5,1225 1601.8,1211.3 1630.2,1225" fill="url(#tadd)"/>
<polygon points="1644.4,1225 1669.0,1209.9 1693.6,1225" fill="url(#tadd)"/>
<polygon points="1706.8,1225 1778.5,1196.7 1850.2,1225" fill="url(#tadd)"/>
<polygon points="1713.3,1225 1750.0,1205.7 1786.7,1225" fill="url(#tadd)"/>
<polygon points="1778.5,1225 1812.7,1208.5 1847.0,1225" fill="url(#tadd)"/>
<rect x="789.5" y="1199.0" width="989.0" height="26.0" fill="url(#jbot)"/>
<linearGradient id="speckfade2" x1="0" y1="904" x2="0" y2="1225" gradientUnits="userSpaceOnUse"><stop offset="0" stop-color="#fff" stop-opacity="1"/><stop offset="0.85" stop-color="#fff" stop-opacity="0.8"/><stop offset="0.97" stop-color="#fff" stop-opacity="0.1"/><stop offset="1" stop-color="#fff" stop-opacity="0"/></linearGradient>
<rect x="789.5" y="904" width="989.0" height="321" fill="url(#speckfade2)" filter="url(#speck)" opacity="0.45"/>
<rect x="789.5" y="904" width="989.0" height="321" fill="url(#speckfade)" filter="url(#speck2)" opacity="0.35"/>
<line x1="838.0" y1="1227.0" x2="236.2" y2="699.9" stroke="url(#thin)" stroke-width="1.5" stroke-linecap="butt"/>
<line x1="838.0" y1="1227.0" x2="1439.8" y2="699.9" stroke="url(#thin)" stroke-width="1.5" stroke-linecap="butt"/>
<line x1="911.8" y1="1227.0" x2="310.0" y2="699.9" stroke="url(#thin)" stroke-width="1.6" stroke-linecap="butt"/>
<line x1="911.8" y1="1227.0" x2="1513.6" y2="699.9" stroke="url(#thin)" stroke-width="1.6" stroke-linecap="butt"/>
<line x1="937.8" y1="1227.0" x2="336.0" y2="699.9" stroke="url(#thin)" stroke-width="1.4" stroke-linecap="butt"/>
<line x1="937.8" y1="1227.0" x2="1539.6" y2="699.9" stroke="url(#thin)" stroke-width="1.4" stroke-linecap="butt"/>
<line x1="1641.0" y1="1227.0" x2="1039.2" y2="699.9" stroke="url(#thin)" stroke-width="1.8" stroke-linecap="butt"/>
<line x1="1641.0" y1="1227.0" x2="2242.8" y2="699.9" stroke="url(#thin)" stroke-width="1.8" stroke-linecap="butt"/>
<line x1="1750.0" y1="1227.0" x2="1148.2" y2="699.9" stroke="url(#thin)" stroke-width="1.2" stroke-linecap="butt"/>
<line x1="1750.0" y1="1227.0" x2="2351.8" y2="699.9" stroke="url(#thin)" stroke-width="1.2" stroke-linecap="butt"/>
<line x1="896.0" y1="1227.0" x2="294.2" y2="699.9" stroke="#ecedf2" stroke-width="8.5" stroke-linecap="butt"/>
<line x1="896.0" y1="1227.0" x2="1497.8" y2="699.9" stroke="#ecedf2" stroke-width="8.5" stroke-linecap="butt"/>
<line x1="1005.0" y1="1227.0" x2="403.2" y2="699.9" stroke="#ecedf2" stroke-width="4.5" stroke-linecap="butt"/>
<line x1="1005.0" y1="1227.0" x2="1606.8" y2="699.9" stroke="#ecedf2" stroke-width="4.5" stroke-linecap="butt"/>
<line x1="1307.6" y1="1227.0" x2="705.8" y2="699.9" stroke="#ecedf2" stroke-width="8.5" stroke-linecap="butt"/>
<line x1="1307.6" y1="1227.0" x2="1909.4" y2="699.9" stroke="#ecedf2" stroke-width="8.5" stroke-linecap="butt"/>
<line x1="1422.0" y1="1227.0" x2="820.2" y2="699.9" stroke="#ecedf2" stroke-width="6" stroke-linecap="butt"/>
<line x1="1422.0" y1="1227.0" x2="2023.8" y2="699.9" stroke="#ecedf2" stroke-width="6" stroke-linecap="butt"/>
<line x1="1506.0" y1="1227.0" x2="904.2" y2="699.9" stroke="#ecedf2" stroke-width="5" stroke-linecap="butt"/>
<line x1="1506.0" y1="1227.0" x2="2107.8" y2="699.9" stroke="#ecedf2" stroke-width="5" stroke-linecap="butt"/>
<line x1="1697.3" y1="1227.0" x2="1095.5" y2="699.9" stroke="#ecedf2" stroke-width="5" stroke-linecap="butt"/>
<line x1="1697.3" y1="1227.0" x2="2299.1" y2="699.9" stroke="#ecedf2" stroke-width="5" stroke-linecap="butt"/>
<circle cx="1064" cy="1037" r="6.5" fill="url(#hot)"/>
<circle cx="1017" cy="1087" r="5.5" fill="url(#hot)"/>
<circle cx="1227" cy="1179" r="5" fill="url(#hot)"/>
<radialGradient id="blob"><stop offset="0" stop-color="#f2a860" stop-opacity="0.55"/><stop offset="1" stop-color="#f5c080" stop-opacity="0"/></radialGradient>
<ellipse cx="1069" cy="1000" rx="16" ry="13" fill="url(#blob)"/>
</g>
<rect x="789.5" y="904" width="989.0" height="321" fill="none" stroke="#111" stroke-width="2.4"/>
<line x1="1035.5" y1="1015.0" x2="1054.5" y2="1029.7" stroke="#111" stroke-width="2.4"/>
<polygon points="1064.0,1037.0 1051.1,1034.0 1054.5,1029.7 1057.9,1025.3" fill="#111"/>
<line x1="1423.5" y1="1034.0" x2="1441.6" y2="1048.5" stroke="#111" stroke-width="2.4"/>
<polygon points="1451.0,1056.0 1438.2,1052.8 1441.6,1048.5 1445.1,1044.2" fill="#111"/>
<text x="806.8" y="928.7" font-size="17" font-family="'Liberation Sans', Arial, sans-serif" fill="#111" font-weight="bold" textLength="330" lengthAdjust="spacingAndGlyphs">chr 3L : 11,209,177 - 11,770,724 bp</text>
<defs><linearGradient id="cbar" x1="0" y1="0" x2="0" y2="1"><stop offset="0" stop-color="#1a0808"/><stop offset="0.15" stop-color="#3a0a10"/><stop offset="0.3" stop-color="#8a1018"/>
<stop offset="0.45" stop-color="#d01e26"/><stop offset="0.6" stop-color="#e05a28"/><stop offset="0.75" stop-color="#f0a030"/><stop offset="0.88" stop-color="#f5c888"/><stop offset="1" stop-color="#fcf2e6"/></linearGradient></defs>
<rect x="1709.0" y="919.0" width="12.5" height="70.0" fill="url(#cbar)"/>
<text x="1726.0" y="923.5" font-size="13" font-family="'Liberation Sans', Arial, sans-serif" fill="#111" stroke="#111" stroke-width="0.3">2</text>
<text x="1726.5" y="956.0" font-size="13" font-family="'Liberation Sans', Arial, sans-serif" fill="#111" textLength="29" lengthAdjust="spacingAndGlyphs" stroke="#111" stroke-width="0.3">5x10</text>
<text x="1756.5" y="951.0" font-size="8.5" font-family="'Liberation Sans', Arial, sans-serif" fill="#111" textLength="8.5" lengthAdjust="spacingAndGlyphs">-3</text>
<text x="1726.5" y="991.5" font-size="13" font-family="'Liberation Sans', Arial, sans-serif" fill="#111" textLength="29" lengthAdjust="spacingAndGlyphs" stroke="#111" stroke-width="0.3">4x10</text>
<text x="1756.5" y="986.0" font-size="8.5" font-family="'Liberation Sans', Arial, sans-serif" fill="#111" textLength="8.5" lengthAdjust="spacingAndGlyphs">-5</text>
<line x1="789.0" y1="1254.0" x2="1779.0" y2="1254.0" stroke="#222" stroke-width="2"/>
<rect x="865.5" y="1248.0" width="6.0" height="12.0" fill="#555"/>
<path d="M868,1254 L868,1238 L875.2,1238" fill="none" stroke="#5a4a20" stroke-width="3.4"/>
<path d="M868,1254 L868,1238 L875.2,1238" fill="none" stroke="#f0b828" stroke-width="1.8"/>
<polygon points="874.3,1234.5 878.35,1238 874.3,1241.5" fill="#f0b828" stroke="#5a4a20" stroke-width="0.8"/>
<rect x="1282.0" y="1246.0" width="19.0" height="15.0" fill="#4a4a4a"/>
<path d="M1284,1254 L1284,1238 L1291.2,1238" fill="none" stroke="#5a4a20" stroke-width="3.4"/>
<path d="M1284,1254 L1284,1238 L1291.2,1238" fill="none" stroke="#f0b828" stroke-width="1.8"/>
<polygon points="1290.3,1234.5 1294.35,1238 1290.3,1241.5" fill="#f0b828" stroke="#5a4a20" stroke-width="0.8"/>
<rect x="1650.5" y="1248.0" width="6.0" height="12.0" fill="#555"/>
<path d="M1654,1254 L1654,1238 L1646.8,1238" fill="none" stroke="#5a4a20" stroke-width="3.4"/>
<path d="M1654,1254 L1654,1238 L1646.8,1238" fill="none" stroke="#f0b828" stroke-width="1.8"/>
<polygon points="1647.7,1234.5 1643.65,1238 1647.7,1241.5" fill="#f0b828" stroke="#5a4a20" stroke-width="0.8"/>
<text x="866.0" y="1300.0" font-size="36" font-family="'DejaVu Sans', 'Liberation Sans', sans-serif" fill="#111" text-anchor="middle" textLength="64" lengthAdjust="spacingAndGlyphs" stroke="#111" stroke-width="0.35">scyl</text>
<text x="1289.0" y="1300.0" font-size="36" font-family="'DejaVu Sans', 'Liberation Sans', sans-serif" fill="#111" text-anchor="middle" textLength="76" lengthAdjust="spacingAndGlyphs" stroke="#111" stroke-width="0.35">chrb</text>
<text x="1665.0" y="1300.0" font-size="36" font-family="'DejaVu Sans', 'Liberation Sans', sans-serif" fill="#111" text-anchor="middle" textLength="152" lengthAdjust="spacingAndGlyphs" stroke="#111" stroke-width="0.35">CG11652</text>
<line x1="172.4" y1="1460.5" x2="172.4" y2="2064.4" stroke="#111" stroke-width="1.8"/>
<line x1="172.4" y1="2064.4" x2="379.2" y2="2064.4" stroke="#111" stroke-width="1.8"/>
<line x1="293.0" y1="2064.4" x2="293.0" y2="2057.0" stroke="#111" stroke-width="1.4"/>
<line x1="172.4" y1="1460.5" x2="180.2" y2="1460.5" stroke="#111" stroke-width="1.4"/>
<text x="158.6" y="1470.0" font-size="25" font-family="'Liberation Sans', Arial, sans-serif" fill="#1a1a1a" text-anchor="end" textLength="14.5" lengthAdjust="spacingAndGlyphs">1</text>
<line x1="172.4" y1="1520.9" x2="180.2" y2="1520.9" stroke="#111" stroke-width="1.4"/>
<text x="158.6" y="1530.4" font-size="25" font-family="'Liberation Sans', Arial, sans-serif" fill="#1a1a1a" text-anchor="end" textLength="41.3" lengthAdjust="spacingAndGlyphs">0.9</text>
<line x1="172.4" y1="1581.3" x2="180.2" y2="1581.3" stroke="#111" stroke-width="1.4"/>
<text x="158.6" y="1590.8" font-size="25" font-family="'Liberation Sans', Arial, sans-serif" fill="#1a1a1a" text-anchor="end" textLength="41.3" lengthAdjust="spacingAndGlyphs">0.8</text>
<line x1="172.4" y1="1641.7" x2="180.2" y2="1641.7" stroke="#111" stroke-width="1.4"/>
<text x="158.6" y="1651.2" font-size="25" font-family="'Liberation Sans', Arial, sans-serif" fill="#1a1a1a" text-anchor="end" textLength="41.3" lengthAdjust="spacingAndGlyphs">0.7</text>
<line x1="172.4" y1="1702.1" x2="180.2" y2="1702.1" stroke="#111" stroke-width="1.4"/>
<text x="158.6" y="1711.6" font-size="25" font-family="'Liberation Sans', Arial, sans-serif" fill="#1a1a1a" text-anchor="end" textLength="41.3" lengthAdjust="spacingAndGlyphs">0.6</text>
<line x1="172.4" y1="1762.5" x2="180.2" y2="1762.5" stroke="#111" stroke-width="1.4"/>
<text x="158.6" y="1772.0" font-size="25" font-family="'Liberation Sans', Arial, sans-serif" fill="#1a1a1a" text-anchor="end" textLength="41.3" lengthAdjust="spacingAndGlyphs">0.5</text>
<line x1="172.4" y1="1822.8" x2="180.2" y2="1822.8" stroke="#111" stroke-width="1.4"/>
<text x="158.6" y="1832.3" font-size="25" font-family="'Liberation Sans', Arial, sans-serif" fill="#1a1a1a" text-anchor="end" textLength="41.3" lengthAdjust="spacingAndGlyphs">0.4</text>
<line x1="172.4" y1="1883.2" x2="180.2" y2="1883.2" stroke="#111" stroke-width="1.4"/>
<text x="158.6" y="1892.7" font-size="25" font-family="'Liberation Sans', Arial, sans-serif" fill="#1a1a1a" text-anchor="end" textLength="41.3" lengthAdjust="spacingAndGlyphs">0.3</text>
<line x1="172.4" y1="1943.6" x2="180.2" y2="1943.6" stroke="#111" stroke-width="1.4"/>
<text x="158.6" y="1953.1" font-size="25" font-family="'Liberation Sans', Arial, sans-serif" fill="#1a1a1a" text-anchor="end" textLength="41.3" lengthAdjust="spacingAndGlyphs">0.2</text>
<line x1="172.4" y1="2004.0" x2="180.2" y2="2004.0" stroke="#111" stroke-width="1.4"/>
<text x="158.6" y="2013.5" font-size="25" font-family="'Liberation Sans', Arial, sans-serif" fill="#1a1a1a" text-anchor="end" textLength="41.3" lengthAdjust="spacingAndGlyphs">0.1</text>
<text x="158.6" y="2073.9" font-size="25" font-family="'Liberation Sans', Arial, sans-serif" fill="#1a1a1a" text-anchor="end" textLength="14.5" lengthAdjust="spacingAndGlyphs">0</text>
<text x="22.9" y="1719.0" font-size="28" font-family="'DejaVu Sans', 'Liberation Sans', sans-serif" fill="#111" text-anchor="middle" textLength="355" lengthAdjust="spacingAndGlyphs" transform="rotate(-90 22.9 1719.0)" stroke="#111" stroke-width="0.35">Frequency of Co-initiation evens</text>
<text x="64.5" y="1723.0" font-size="27" font-family="'DejaVu Sans', 'Liberation Sans', sans-serif" fill="#111" text-anchor="middle" textLength="318.4" lengthAdjust="spacingAndGlyphs" transform="rotate(-90 64.5 1723.0)" stroke="#111" stroke-width="0.35">(out of knrl initiation events)</text>
<path d="M284.4,1495.1L301.6,1495.1M286.9,1489.0L299.1,1501.2M293.0,1486.5L293.0,1503.7M299.1,1489.0L286.9,1501.2" stroke="#000" stroke-width="2.0" fill="none"/>
<path d="M284.4,1512.5L301.6,1512.5M286.9,1506.4L299.1,1518.6M293.0,1503.9L293.0,1521.1M299.1,1506.4L286.9,1518.6" stroke="#000" stroke-width="2.0" fill="none"/>
<path d="M284.4,1516.8L301.6,1516.8M286.9,1510.7L299.1,1522.9M293.0,1508.2L293.0,1525.4M299.1,1510.7L286.9,1522.9" stroke="#000" stroke-width="2.0" fill="none"/>
<path d="M284.4,1522.9L301.6,1522.9M286.9,1516.8L299.1,1529.0M293.0,1514.3L293.0,1531.5M299.1,1516.8L286.9,1529.0" stroke="#000" stroke-width="2.0" fill="none"/>
<path d="M284.4,1667.7L301.6,1667.7M286.9,1661.6L299.1,1673.8M293.0,1659.1L293.0,1676.3M299.1,1661.6L286.9,1673.8" stroke="#7d1a62" stroke-width="2.0" fill="none"/>
<path d="M284.4,1676.0L301.6,1676.0M286.9,1669.9L299.1,1682.1M293.0,1667.4L293.0,1684.6M299.1,1669.9L286.9,1682.1" stroke="#7d1a62" stroke-width="2.0" fill="none"/>
<path d="M284.4,1682.4L301.6,1682.4M286.9,1676.3L299.1,1688.5M293.0,1673.8L293.0,1691.0M299.1,1676.3L286.9,1688.5" stroke="#7d1a62" stroke-width="2.0" fill="none"/>
<path d="M284.4,1690.2L301.6,1690.2M286.9,1684.1L299.1,1696.3M293.0,1681.6L293.0,1698.8M299.1,1684.1L286.9,1696.3" stroke="#7d1a62" stroke-width="2.0" fill="none"/>
<path d="M284.4,1701.5L301.6,1701.5M286.9,1695.4L299.1,1707.6M293.0,1692.9L293.0,1710.1M299.1,1695.4L286.9,1707.6" stroke="#7d1a62" stroke-width="2.0" fill="none"/>
<path d="M284.4,1717.1L301.6,1717.1M286.9,1711.0L299.1,1723.2M293.0,1708.5L293.0,1725.7M299.1,1711.0L286.9,1723.2" stroke="#7d1a62" stroke-width="2.0" fill="none"/>
<path d="M284.4,1745.7L301.6,1745.7M286.9,1739.6L299.1,1751.8M293.0,1737.1L293.0,1754.3M299.1,1739.6L286.9,1751.8" stroke="#2377c0" stroke-width="2.0" fill="none"/>
<path d="M284.4,1750.9L301.6,1750.9M286.9,1744.8L299.1,1757.0M293.0,1742.3L293.0,1759.5M299.1,1744.8L286.9,1757.0" stroke="#2377c0" stroke-width="2.0" fill="none"/>
<path d="M284.4,1754.4L301.6,1754.4M286.9,1748.3L299.1,1760.5M293.0,1745.8L293.0,1763.0M299.1,1748.3L286.9,1760.5" stroke="#2377c0" stroke-width="2.0" fill="none"/>
<path d="M284.4,1776.9L301.6,1776.9M286.9,1770.8L299.1,1783.0M293.0,1768.3L293.0,1785.5M299.1,1770.8L286.9,1783.0" stroke="#2377c0" stroke-width="2.0" fill="none"/>
<line x1="293.0" y1="1757.0" x2="293.0" y2="1790.0" stroke="#808080" stroke-width="1.8"/>
<line x1="268.2" y1="1768.2" x2="315.9" y2="1768.2" stroke="#808080" stroke-width="1.8"/>
<rect x="286.4" y="1763.0" width="13.0" height="13.0" fill="#808080"/>
<text x="626.5" y="1410.6" font-size="25" font-family="'DejaVu Sans', 'Liberation Sans', sans-serif" fill="#111" textLength="44.3" lengthAdjust="spacingAndGlyphs" stroke="#111" stroke-width="0.35">knrl</text>
<text x="830.0" y="1410.6" font-size="25" font-family="'DejaVu Sans', 'Liberation Sans', sans-serif" fill="#111" textLength="34.5" lengthAdjust="spacingAndGlyphs" stroke="#111" stroke-width="0.35">kni</text>
<line x1="568.0" y1="1456.8" x2="763.0" y2="1457.3" stroke="#333" stroke-width="1.3"/>
<line x1="788.0" y1="1456.8" x2="895.0" y2="1455.8" stroke="#333" stroke-width="1.3"/>
<line x1="762.0" y1="1464.3" x2="778.0" y2="1449.8" stroke="#333" stroke-width="1.3"/>
<line x1="770.0" y1="1464.3" x2="787.0" y2="1449.8" stroke="#333" stroke-width="1.3"/>
<rect x="584.6" y="1449.3" width="84.0" height="15.0" fill="#4a4a4a"/>
<rect x="673.0" y="1449.8" width="7.3" height="15.0" rx="3.5" fill="#f39a14" stroke="#b86a00" stroke-width="0.8"/>
<rect x="683.0" y="1449.8" width="17.0" height="15.0" rx="3.5" fill="#f39a14" stroke="#b86a00" stroke-width="0.8"/>
<rect x="716.0" y="1450.0" width="20.4" height="14.8" fill="#2e75c0"/>
<rect x="829.5" y="1449.8" width="33.3" height="15.0" fill="#4a4a4a"/>
<rect x="865.0" y="1449.8" width="7.7" height="15.0" rx="3.5" fill="#f39a14" stroke="#b86a00" stroke-width="0.8"/>
<path d="M668.5,1449.8 L668.5,1440.3 L660.5,1440.3" fill="none" stroke="#6a5418" stroke-width="3.2"/>
<path d="M668.5,1449.8 L668.5,1440.3 L660.5,1440.3" fill="none" stroke="#f0c030" stroke-width="1.7"/>
<polygon points="661.5,1437.1 657.0,1440.3 661.5,1443.5" fill="#f0c030" stroke="#6a5418" stroke-width="0.7"/>
<path d="M862,1449.8 L862,1440.3 L854,1440.3" fill="none" stroke="#6a5418" stroke-width="3.2"/>
<path d="M862,1449.8 L862,1440.3 L854,1440.3" fill="none" stroke="#f0c030" stroke-width="1.7"/>
<polygon points="855,1437.1 850.5,1440.3 855,1443.5" fill="#f0c030" stroke="#6a5418" stroke-width="0.7"/>
<path d="M632,1427.8 Q646,1433.8 661.1,1449.7" fill="none" stroke="#888" stroke-width="0.7"/>
<circle cx="640.5" cy="1429.8" r="3.3" fill="#8c8c8c"/>
<circle cx="638.0" cy="1423.8" r="3.6" fill="#c8202a"/>
<circle cx="638.0" cy="1423.8" r="5" fill="none" stroke="#c8202a" stroke-width="0.6" stroke-dasharray="1,1" opacity="0.6"/>
<circle cx="648.2" cy="1433.1" r="3.3" fill="#8c8c8c"/>
<circle cx="645.7" cy="1427.1" r="3.6" fill="#c8202a"/>
<circle cx="645.7" cy="1427.1" r="5" fill="none" stroke="#c8202a" stroke-width="0.6" stroke-dasharray="1,1" opacity="0.6"/>
<circle cx="655.9" cy="1436.4" r="3.3" fill="#8c8c8c"/>
<circle cx="653.4" cy="1430.4" r="3.6" fill="#c8202a"/>
<circle cx="653.4" cy="1430.4" r="5" fill="none" stroke="#c8202a" stroke-width="0.6" stroke-dasharray="1,1" opacity="0.6"/>
<path d="M825.6,1427.8 Q839.6,1433.8 854.7,1449.7" fill="none" stroke="#888" stroke-width="0.7"/>
<circle cx="834.1" cy="1429.8" r="3.3" fill="#8c8c8c"/>
<circle cx="831.6" cy="1423.8" r="3.6" fill="#1a9a46"/>
<circle cx="831.6" cy="1423.8" r="5" fill="none" stroke="#1a9a46" stroke-width="0.6" stroke-dasharray="1,1" opacity="0.6"/>
<circle cx="841.8" cy="1433.1" r="3.3" fill="#8c8c8c"/>
<circle cx="839.3" cy="1427.1" r="3.6" fill="#1a9a46"/>
<circle cx="839.3" cy="1427.1" r="5" fill="none" stroke="#1a9a46" stroke-width="0.6" stroke-dasharray="1,1" opacity="0.6"/>
<circle cx="849.5" cy="1436.4" r="3.3" fill="#8c8c8c"/>
<circle cx="847.0" cy="1430.4" r="3.6" fill="#1a9a46"/>
<circle cx="847.0" cy="1430.4" r="5" fill="none" stroke="#1a9a46" stroke-width="0.6" stroke-dasharray="1,1" opacity="0.6"/>
<line x1="568.0" y1="1553.0" x2="763.0" y2="1553.5" stroke="#333" stroke-width="1.3"/>
<line x1="788.0" y1="1553.0" x2="895.0" y2="1552.0" stroke="#333" stroke-width="1.3"/>
<line x1="762.0" y1="1560.5" x2="778.0" y2="1546.0" stroke="#333" stroke-width="1.3"/>
<line x1="770.0" y1="1560.5" x2="787.0" y2="1546.0" stroke="#333" stroke-width="1.3"/>
<rect x="584.6" y="1545.5" width="84.0" height="15.0" fill="#4a4a4a"/>
<rect x="673.0" y="1546.0" width="7.3" height="15.0" rx="3.5" fill="#f39a14" stroke="#b86a00" stroke-width="0.8"/>
<rect x="683.0" y="1546.0" width="17.0" height="15.0" rx="3.5" fill="#f39a14" stroke="#b86a00" stroke-width="0.8"/>
<rect x="716.0" y="1546.2" width="20.4" height="14.8" fill="#2e75c0"/>
<rect x="829.5" y="1546.0" width="33.3" height="15.0" fill="#4a4a4a"/>
<rect x="865.0" y="1546.0" width="7.7" height="15.0" rx="3.5" fill="#f39a14" stroke="#b86a00" stroke-width="0.8"/>
<path d="M668.5,1546.0 L668.5,1536.5 L660.5,1536.5" fill="none" stroke="#6a5418" stroke-width="3.2"/>
<path d="M668.5,1546.0 L668.5,1536.5 L660.5,1536.5" fill="none" stroke="#f0c030" stroke-width="1.7"/>
<polygon points="661.5,1533.3 657.0,1536.5 661.5,1539.7" fill="#f0c030" stroke="#6a5418" stroke-width="0.7"/>
<path d="M862,1546.0 L862,1536.5 L854,1536.5" fill="none" stroke="#6a5418" stroke-width="3.2"/>
<path d="M862,1546.0 L862,1536.5 L854,1536.5" fill="none" stroke="#f0c030" stroke-width="1.7"/>
<polygon points="855,1533.3 850.5,1536.5 855,1539.7" fill="#f0c030" stroke="#6a5418" stroke-width="0.7"/>
<path d="M825.6,1524.0 Q839.6,1530.0 854.7,1545.9" fill="none" stroke="#888" stroke-width="0.7"/>
<circle cx="834.1" cy="1526.0" r="3.3" fill="#8c8c8c"/>
<circle cx="831.6" cy="1520.0" r="3.6" fill="#1a9a46"/>
<circle cx="831.6" cy="1520.0" r="5" fill="none" stroke="#1a9a46" stroke-width="0.6" stroke-dasharray="1,1" opacity="0.6"/>
<circle cx="841.8" cy="1529.3" r="3.3" fill="#8c8c8c"/>
<circle cx="839.3" cy="1523.3" r="3.6" fill="#1a9a46"/>
<circle cx="839.3" cy="1523.3" r="5" fill="none" stroke="#1a9a46" stroke-width="0.6" stroke-dasharray="1,1" opacity="0.6"/>
<circle cx="849.5" cy="1532.6" r="3.3" fill="#8c8c8c"/>
<circle cx="847.0" cy="1526.6" r="3.6" fill="#1a9a46"/>
<circle cx="847.0" cy="1526.6" r="5" fill="none" stroke="#1a9a46" stroke-width="0.6" stroke-dasharray="1,1" opacity="0.6"/>
<line x1="570.7" y1="1609.5" x2="765.7" y2="1610.0" stroke="#333" stroke-width="1.3"/>
<line x1="790.7" y1="1609.5" x2="897.7" y2="1608.5" stroke="#333" stroke-width="1.3"/>
<line x1="764.7" y1="1617.0" x2="780.7" y2="1602.5" stroke="#333" stroke-width="1.3"/>
<line x1="772.7" y1="1617.0" x2="789.7" y2="1602.5" stroke="#333" stroke-width="1.3"/>
<rect x="587.3" y="1602.0" width="84.0" height="15.0" fill="#4a4a4a"/>
<rect x="675.7" y="1602.5" width="7.3" height="15.0" rx="3.5" fill="#f39a14" stroke="#b86a00" stroke-width="0.8"/>
<rect x="685.7" y="1602.5" width="17.0" height="15.0" rx="3.5" fill="#f39a14" stroke="#b86a00" stroke-width="0.8"/>
<rect x="718.7" y="1602.7" width="20.4" height="14.8" fill="#2e75c0"/>
<rect x="832.2" y="1602.5" width="33.3" height="15.0" fill="#4a4a4a"/>
<rect x="867.7" y="1602.5" width="7.7" height="15.0" rx="3.5" fill="#f39a14" stroke="#b86a00" stroke-width="0.8"/>
<path d="M671.2,1602.5 L671.2,1593.0 L663.2,1593.0" fill="none" stroke="#6a5418" stroke-width="3.2"/>
<path d="M671.2,1602.5 L671.2,1593.0 L663.2,1593.0" fill="none" stroke="#f0c030" stroke-width="1.7"/>
<polygon points="664.2,1589.8 659.7,1593.0 664.2,1596.2" fill="#f0c030" stroke="#6a5418" stroke-width="0.7"/>
<path d="M864.7,1602.5 L864.7,1593.0 L856.7,1593.0" fill="none" stroke="#6a5418" stroke-width="3.2"/>
<path d="M864.7,1602.5 L864.7,1593.0 L856.7,1593.0" fill="none" stroke="#f0c030" stroke-width="1.7"/>
<polygon points="857.7,1589.8 853.2,1593.0 857.7,1596.2" fill="#f0c030" stroke="#6a5418" stroke-width="0.7"/>
<path d="M634.7,1580.5 Q648.7,1586.5 663.8000000000001,1602.4" fill="none" stroke="#888" stroke-width="0.7"/>
<circle cx="643.2" cy="1582.5" r="3.3" fill="#8c8c8c"/>
<circle cx="640.7" cy="1576.5" r="3.6" fill="#c8202a"/>
<circle cx="640.7" cy="1576.5" r="5" fill="none" stroke="#c8202a" stroke-width="0.6" stroke-dasharray="1,1" opacity="0.6"/>
<circle cx="650.9" cy="1585.8" r="3.3" fill="#8c8c8c"/>
<circle cx="648.4" cy="1579.8" r="3.6" fill="#c8202a"/>
<circle cx="648.4" cy="1579.8" r="5" fill="none" stroke="#c8202a" stroke-width="0.6" stroke-dasharray="1,1" opacity="0.6"/>
<circle cx="658.6" cy="1589.1" r="3.3" fill="#8c8c8c"/>
<circle cx="656.1" cy="1583.1" r="3.6" fill="#c8202a"/>
<circle cx="656.1" cy="1583.1" r="5" fill="none" stroke="#c8202a" stroke-width="0.6" stroke-dasharray="1,1" opacity="0.6"/>
<line x1="570.5" y1="1722.6" x2="765.5" y2="1723.1" stroke="#333" stroke-width="1.3"/>
<line x1="790.5" y1="1722.6" x2="897.5" y2="1721.6" stroke="#333" stroke-width="1.3"/>
<line x1="764.5" y1="1730.1" x2="780.5" y2="1715.6" stroke="#333" stroke-width="1.3"/>
<line x1="772.5" y1="1730.1" x2="789.5" y2="1715.6" stroke="#333" stroke-width="1.3"/>
<rect x="587.1" y="1715.1" width="84.0" height="15.0" fill="#4a4a4a"/>
<rect x="675.5" y="1715.6" width="7.3" height="15.0" rx="3.5" fill="#f39a14" stroke="#b86a00" stroke-width="0.8"/>
<rect x="685.5" y="1715.6" width="17.0" height="15.0" rx="3.5" fill="#f39a14" stroke="#b86a00" stroke-width="0.8"/>
<rect x="718.5" y="1715.8" width="20.4" height="14.8" fill="#2e75c0"/>
<rect x="832.0" y="1715.6" width="33.3" height="15.0" fill="#4a4a4a"/>
<rect x="867.5" y="1715.6" width="7.7" height="15.0" rx="3.5" fill="#f39a14" stroke="#b86a00" stroke-width="0.8"/>
<path d="M671.0,1715.6 L671.0,1706.1 L663.0,1706.1" fill="none" stroke="#6a5418" stroke-width="3.2"/>
<path d="M671.0,1715.6 L671.0,1706.1 L663.0,1706.1" fill="none" stroke="#f0c030" stroke-width="1.7"/>
<polygon points="664.0,1702.8999999999999 659.5,1706.1 664.0,1709.3" fill="#f0c030" stroke="#6a5418" stroke-width="0.7"/>
<path d="M864.5,1715.6 L864.5,1706.1 L856.5,1706.1" fill="none" stroke="#6a5418" stroke-width="3.2"/>
<path d="M864.5,1715.6 L864.5,1706.1 L856.5,1706.1" fill="none" stroke="#f0c030" stroke-width="1.7"/>
<polygon points="857.5,1702.8999999999999 853.0,1706.1 857.5,1709.3" fill="#f0c030" stroke="#6a5418" stroke-width="0.7"/>
<path d="M811,1701.5 Q825,1707.5 847.8,1726.7" fill="none" stroke="#888" stroke-width="0.7"/>
<circle cx="819.5" cy="1703.5" r="3.3" fill="#8c8c8c"/>
<circle cx="817.0" cy="1697.5" r="3.6" fill="#c8202a"/>
<circle cx="817.0" cy="1697.5" r="5" fill="none" stroke="#c8202a" stroke-width="0.6" stroke-dasharray="1,1" opacity="0.6"/>
<circle cx="827.2" cy="1706.8" r="3.3" fill="#8c8c8c"/>
<circle cx="824.7" cy="1700.8" r="3.6" fill="#1a9a46"/>
<circle cx="824.7" cy="1700.8" r="5" fill="none" stroke="#1a9a46" stroke-width="0.6" stroke-dasharray="1,1" opacity="0.6"/>
<circle cx="834.9" cy="1710.1" r="3.3" fill="#8c8c8c"/>
<circle cx="832.4" cy="1704.1" r="3.6" fill="#c8202a"/>
<circle cx="832.4" cy="1704.1" r="5" fill="none" stroke="#c8202a" stroke-width="0.6" stroke-dasharray="1,1" opacity="0.6"/>
<circle cx="842.6" cy="1713.4" r="3.3" fill="#8c8c8c"/>
<circle cx="840.1" cy="1707.4" r="3.6" fill="#1a9a46"/>
<circle cx="840.1" cy="1707.4" r="5" fill="none" stroke="#1a9a46" stroke-width="0.6" stroke-dasharray="1,1" opacity="0.6"/>
<text x="471.5" y="1480.0" font-size="42" font-family="'DejaVu Sans', 'Liberation Sans', sans-serif" fill="#7d1a62" font-weight="bold" textLength="18" lengthAdjust="spacingAndGlyphs">*</text>
<rect x="500.6" y="1447.0" width="45.7" height="17.8" fill="#d7a6c6"/>
<line x1="500.6" y1="1456.0" x2="546.3" y2="1456.0" stroke="#a8508e" stroke-width="1.6"/>
<text x="455.5" y="1603.0" font-size="42" font-family="'DejaVu Sans', 'Liberation Sans', sans-serif" fill="#2f6fbf" font-weight="bold" textLength="18" lengthAdjust="spacingAndGlyphs">*</text>
<rect x="482.5" y="1572.0" width="46.5" height="19.0" fill="#bcd0ec"/>
<line x1="482.5" y1="1581.6" x2="529.0" y2="1581.6" stroke="#3a6cc0" stroke-width="2.2"/>
<text x="539.0" y="1745.0" font-size="42" font-family="'DejaVu Sans', 'Liberation Sans', sans-serif" fill="#111" font-weight="bold" textLength="19" lengthAdjust="spacingAndGlyphs">*</text>
<path d="M575,1532.8 L562,1532.8 Q557,1532.8 557,1538 L557,1576 Q557,1582 551,1582 L537,1582 M551,1582 Q557,1582 557,1588 L557,1626.5 Q557,1632 562,1632 L575,1632" fill="none" stroke="#000" stroke-width="3.2"/>
<line x1="551.8" y1="1783.6" x2="551.8" y2="1867.6" stroke="#808080" stroke-width="2.6"/>
<line x1="508.5" y1="1828.0" x2="590.9" y2="1828.0" stroke="#808080" stroke-width="2.6"/>
<rect x="537.2" y="1802.0" width="28.8" height="52.0" fill="#808080"/>
<text x="605.0" y="1839.0" font-size="21" font-family="'DejaVu Sans', 'Liberation Sans', sans-serif" fill="#111" textLength="328" lengthAdjust="spacingAndGlyphs" stroke="#111" stroke-width="0.35">Boxplot of randomized data</text>
<clipPath id="lc1647"><rect x="1189" y="1391" width="378.70000000000005" height="276"/></clipPath>
<g clip-path="url(#lc1647)">
<path d="M1188.1,1647.0 L1233.6,1646.4 L1266.1,1647.0 L1285.6,1647.6 L1298.6,1647.0 L1311.6,1644.6 L1324.6,1638.2 L1337.6,1619.0 L1350.6,1589.5 L1363.6,1552.6 L1376.6,1520.2 L1389.6,1492.1 L1402.6,1473.0 L1415.6,1462.6 L1428.6,1458.2 L1441.5,1454.7 L1454.5,1449.9 L1467.5,1444.9 L1480.5,1444.0 L1493.5,1449.3 L1506.5,1454.7 L1519.5,1459.7 L1532.5,1468.5 L1545.5,1480.3 L1558.5,1495.1 L1571.5,1506.9 L1571.5,1528.4 L1558.5,1515.7 L1545.5,1499.5 L1532.5,1487.1 L1519.5,1478.3 L1506.5,1473.5 L1493.5,1470.6 L1480.5,1468.5 L1467.5,1469.4 L1454.5,1474.7 L1441.5,1480.0 L1428.6,1485.9 L1415.6,1493.9 L1402.6,1507.8 L1389.6,1529.0 L1376.6,1555.5 L1363.6,1585.0 L1350.6,1616.0 L1337.6,1636.7 L1324.6,1647.0 L1311.6,1647.0 L1298.6,1647.0 L1285.6,1647.6 L1266.1,1647.0 L1233.6,1646.4 L1188.1,1647.0 Z" fill="rgba(120,190,230,0.5)" stroke="rgba(70,160,215,0.9)" stroke-width="1.1"/>
<path d="M1188.1,1647.0 L1233.6,1647.0 L1266.1,1647.0 L1285.6,1647.9 L1298.6,1647.0 L1311.6,1641.6 L1324.6,1633.9 L1337.6,1619.5 L1350.6,1595.0 L1363.6,1564.3 L1376.6,1533.6 L1389.6,1506.0 L1402.6,1484.5 L1415.6,1469.2 L1428.6,1460.0 L1441.5,1450.8 L1454.5,1443.1 L1467.5,1445.2 L1480.5,1446.2 L1493.5,1452.3 L1506.5,1460.0 L1519.5,1469.2 L1532.5,1479.9 L1545.5,1493.7 L1558.5,1509.1 L1571.5,1521.3 L1571.5,1536.7 L1558.5,1525.3 L1545.5,1511.2 L1532.5,1498.4 L1519.5,1488.5 L1506.5,1480.0 L1493.5,1473.0 L1480.5,1467.3 L1467.5,1466.4 L1454.5,1464.5 L1441.5,1471.5 L1428.6,1480.0 L1415.6,1488.5 L1402.6,1502.7 L1389.6,1522.5 L1376.6,1548.0 L1363.6,1576.3 L1350.6,1604.6 L1337.6,1627.3 L1324.6,1640.6 L1311.6,1647.7 L1298.6,1647.0 L1285.6,1647.9 L1266.1,1647.0 L1233.6,1647.0 L1188.1,1647.0 Z" fill="rgba(190,90,150,0.35)" stroke="rgba(190,70,140,0.8)" stroke-width="1.1"/>
<path d="M1188.1,1647.0 L1233.6,1646.4 L1266.1,1647.0 L1285.6,1647.6 L1298.6,1647.0 L1311.6,1645.8 L1324.6,1642.6 L1337.6,1629.3 L1350.6,1605.7 L1363.6,1573.2 L1376.6,1543.8 L1389.6,1517.2 L1402.6,1496.5 L1415.6,1483.3 L1428.6,1475.9 L1441.5,1470.0 L1454.5,1464.1 L1467.5,1458.2 L1480.5,1456.7 L1493.5,1461.7 L1506.5,1467.0 L1519.5,1473.0 L1532.5,1481.8 L1545.5,1493.6 L1558.5,1508.3 L1571.5,1520.2" fill="none" stroke="#2a4d9c" stroke-width="1.9" stroke-linejoin="round"/>
<path d="M1188.1,1647.0 L1233.6,1647.0 L1266.1,1647.0 L1285.6,1647.9 L1298.6,1647.0 L1311.6,1644.6 L1324.6,1637.3 L1337.6,1623.4 L1350.6,1599.8 L1363.6,1570.3 L1376.6,1540.8 L1389.6,1514.2 L1402.6,1493.6 L1415.6,1478.8 L1428.6,1470.0 L1441.5,1461.2 L1454.5,1453.8 L1467.5,1455.8 L1480.5,1456.7 L1493.5,1462.6 L1506.5,1470.0 L1519.5,1478.8 L1532.5,1489.2 L1545.5,1502.5 L1558.5,1517.2 L1571.5,1529.0" fill="none" stroke="#6d0f52" stroke-width="1.9" stroke-linejoin="round"/>
</g>
<line x1="1189.0" y1="1411.0" x2="1189.0" y2="1648.5" stroke="#111" stroke-width="1.8"/>
<line x1="1189.0" y1="1648.5" x2="1565.7" y2="1648.5" stroke="#111" stroke-width="1.8"/>
<line x1="1189.0" y1="1647.0" x2="1194.0" y2="1647.0" stroke="#111" stroke-width="1.4"/>
<text x="1177.0" y="1655.8" font-size="24" font-family="'Liberation Sans', Arial, sans-serif" fill="#1a1a1a" text-anchor="end" textLength="12.7" lengthAdjust="spacingAndGlyphs">0</text>
<line x1="1189.0" y1="1588.0" x2="1194.0" y2="1588.0" stroke="#111" stroke-width="1.4"/>
<text x="1177.0" y="1596.8" font-size="24" font-family="'Liberation Sans', Arial, sans-serif" fill="#1a1a1a" text-anchor="end" textLength="38.099999999999994" lengthAdjust="spacingAndGlyphs">200</text>
<line x1="1189.0" y1="1529.0" x2="1194.0" y2="1529.0" stroke="#111" stroke-width="1.4"/>
<text x="1177.0" y="1537.8" font-size="24" font-family="'Liberation Sans', Arial, sans-serif" fill="#1a1a1a" text-anchor="end" textLength="38.099999999999994" lengthAdjust="spacingAndGlyphs">400</text>
<line x1="1189.0" y1="1470.0" x2="1194.0" y2="1470.0" stroke="#111" stroke-width="1.4"/>
<text x="1177.0" y="1478.8" font-size="24" font-family="'Liberation Sans', Arial, sans-serif" fill="#1a1a1a" text-anchor="end" textLength="38.099999999999994" lengthAdjust="spacingAndGlyphs">600</text>
<line x1="1189.0" y1="1411.0" x2="1194.0" y2="1411.0" stroke="#111" stroke-width="1.4"/>
<text x="1177.0" y="1419.8" font-size="24" font-family="'Liberation Sans', Arial, sans-serif" fill="#1a1a1a" text-anchor="end" textLength="38.099999999999994" lengthAdjust="spacingAndGlyphs">800</text>
<line x1="1298.6" y1="1648.5" x2="1298.6" y2="1643.0" stroke="#111" stroke-width="1.4"/>
<text x="1298.6" y="1682.0" font-size="23.5" font-family="'Liberation Sans', Arial, sans-serif" fill="#1a1a1a" text-anchor="middle" textLength="25.6" lengthAdjust="spacingAndGlyphs">20</text>
<line x1="1428.6" y1="1648.5" x2="1428.6" y2="1643.0" stroke="#111" stroke-width="1.4"/>
<text x="1428.6" y="1682.0" font-size="23.5" font-family="'Liberation Sans', Arial, sans-serif" fill="#1a1a1a" text-anchor="middle" textLength="25.6" lengthAdjust="spacingAndGlyphs">40</text>
<line x1="1558.5" y1="1648.5" x2="1558.5" y2="1643.0" stroke="#111" stroke-width="1.4"/>
<text x="1558.5" y="1682.0" font-size="23.5" font-family="'Liberation Sans', Arial, sans-serif" fill="#1a1a1a" text-anchor="middle" textLength="25.6" lengthAdjust="spacingAndGlyphs">60</text>
<text x="1378.8" y="1714.5" font-size="25" font-family="'Liberation Sans', Arial, sans-serif" fill="#1a1a1a" text-anchor="middle" textLength="123" lengthAdjust="spacingAndGlyphs">Time (min)</text>
<text x="1224.6" y="1414.0" font-size="25" font-family="'DejaVu Sans', 'Liberation Sans', sans-serif" fill="#111" textLength="48.2" lengthAdjust="spacingAndGlyphs" stroke="#111" stroke-width="0.35">knrl</text>
<clipPath id="lc1991"><rect x="1189" y="1736.2" width="378.70000000000005" height="275.29999999999995"/></clipPath>
<g clip-path="url(#lc1991)">
<path d="M1188.1,1991.5 L1233.6,1991.5 L1259.6,1991.5 L1272.6,1990.8 L1285.6,1991.5 L1298.6,1990.2 L1311.6,1987.1 L1324.6,1971.4 L1337.6,1945.2 L1350.6,1914.3 L1363.6,1885.7 L1376.6,1858.9 L1389.6,1838.7 L1402.6,1823.6 L1415.6,1821.6 L1428.6,1795.1 L1441.5,1802.4 L1454.5,1805.8 L1467.5,1806.1 L1480.5,1809.8 L1493.5,1818.6 L1506.5,1823.6 L1519.5,1832.0 L1532.5,1848.8 L1545.5,1857.2 L1558.5,1874.0 L1571.5,1882.4 L1571.5,1895.8 L1558.5,1887.4 L1545.5,1870.6 L1532.5,1862.2 L1519.5,1845.4 L1506.5,1837.0 L1493.5,1832.0 L1480.5,1823.9 L1467.5,1820.9 L1454.5,1821.2 L1441.5,1821.2 L1428.6,1821.9 L1415.6,1845.8 L1402.6,1850.8 L1389.6,1865.6 L1376.6,1885.7 L1363.6,1917.6 L1350.6,1947.8 L1337.6,1970.7 L1324.6,1984.8 L1311.6,1992.5 L1298.6,1991.5 L1285.6,1991.5 L1272.6,1990.8 L1259.6,1991.5 L1233.6,1991.5 L1188.1,1991.5 Z" fill="rgba(120,190,230,0.5)" stroke="rgba(70,160,215,0.9)" stroke-width="1.1"/>
<path d="M1188.1,1991.5 L1233.6,1991.5 L1259.6,1991.5 L1272.6,1990.8 L1285.6,1991.5 L1298.6,1989.8 L1311.6,1982.6 L1324.6,1971.4 L1337.6,1950.6 L1350.6,1922.8 L1363.6,1898.4 L1376.6,1867.2 L1389.6,1849.8 L1402.6,1830.7 L1415.6,1825.5 L1428.6,1811.6 L1441.5,1802.9 L1454.5,1806.3 L1467.5,1815.0 L1480.5,1813.3 L1493.5,1820.3 L1506.5,1822.7 L1519.5,1828.9 L1530.6,1848.1 L1548.8,1857.8 L1563.7,1877.2 L1571.5,1884.5 L1571.5,1897.0 L1563.7,1890.2 L1548.8,1872.0 L1530.6,1862.9 L1519.5,1845.1 L1506.5,1839.3 L1493.5,1837.0 L1480.5,1830.5 L1467.5,1832.2 L1454.5,1824.1 L1441.5,1820.8 L1428.6,1828.9 L1415.6,1841.9 L1402.6,1846.7 L1389.6,1864.6 L1376.6,1880.8 L1363.6,1909.9 L1350.6,1932.6 L1337.6,1958.5 L1324.6,1978.0 L1311.6,1988.4 L1298.6,1989.8 L1285.6,1991.5 L1272.6,1990.8 L1259.6,1991.5 L1233.6,1991.5 L1188.1,1991.5 Z" fill="rgba(190,90,150,0.35)" stroke="rgba(190,70,140,0.8)" stroke-width="1.1"/>
<path d="M1188.1,1991.5 L1233.6,1991.5 L1259.6,1991.5 L1272.6,1990.8 L1285.6,1991.5 L1298.6,1990.8 L1311.6,1989.8 L1324.6,1979.7 L1337.6,1961.3 L1350.6,1934.4 L1363.6,1904.2 L1376.6,1874.0 L1389.6,1853.8 L1402.6,1838.7 L1415.6,1833.7 L1428.6,1811.8 L1441.5,1811.8 L1454.5,1813.5 L1467.5,1813.5 L1480.5,1816.9 L1493.5,1825.3 L1506.5,1830.3 L1519.5,1838.7 L1532.5,1855.5 L1545.5,1863.9 L1558.5,1880.7 L1571.5,1889.1" fill="none" stroke="#2a4d9c" stroke-width="1.9" stroke-linejoin="round"/>
<path d="M1188.1,1991.5 L1233.6,1991.5 L1259.6,1991.5 L1272.6,1990.8 L1285.6,1991.5 L1298.6,1989.8 L1311.6,1985.5 L1324.6,1974.7 L1337.6,1954.6 L1350.6,1927.7 L1363.6,1904.2 L1376.6,1874.0 L1389.6,1857.2 L1402.6,1838.7 L1415.6,1833.7 L1428.6,1820.2 L1441.5,1811.8 L1454.5,1815.2 L1467.5,1823.6 L1480.5,1821.9 L1493.5,1828.6 L1506.5,1831.0 L1519.5,1837.0 L1530.6,1855.5 L1548.8,1864.9 L1563.7,1883.7 L1571.5,1890.8" fill="none" stroke="#6d0f52" stroke-width="1.9" stroke-linejoin="round"/>
</g>
<line x1="1189.0" y1="1756.2" x2="1189.0" y2="1993.0" stroke="#111" stroke-width="1.8"/>
<line x1="1189.0" y1="1993.0" x2="1565.7" y2="1993.0" stroke="#111" stroke-width="1.8"/>
<line x1="1189.0" y1="1991.5" x2="1194.0" y2="1991.5" stroke="#111" stroke-width="1.4"/>
<text x="1177.0" y="2000.3" font-size="24" font-family="'Liberation Sans', Arial, sans-serif" fill="#1a1a1a" text-anchor="end" textLength="12.7" lengthAdjust="spacingAndGlyphs">0</text>
<line x1="1189.0" y1="1924.3" x2="1194.0" y2="1924.3" stroke="#111" stroke-width="1.4"/>
<text x="1177.0" y="1933.1" font-size="24" font-family="'Liberation Sans', Arial, sans-serif" fill="#1a1a1a" text-anchor="end" textLength="38.099999999999994" lengthAdjust="spacingAndGlyphs">200</text>
<line x1="1189.0" y1="1857.2" x2="1194.0" y2="1857.2" stroke="#111" stroke-width="1.4"/>
<text x="1177.0" y="1866.0" font-size="24" font-family="'Liberation Sans', Arial, sans-serif" fill="#1a1a1a" text-anchor="end" textLength="38.099999999999994" lengthAdjust="spacingAndGlyphs">400</text>
<line x1="1189.0" y1="1790.0" x2="1194.0" y2="1790.0" stroke="#111" stroke-width="1.4"/>
<text x="1177.0" y="1798.8" font-size="24" font-family="'Liberation Sans', Arial, sans-serif" fill="#1a1a1a" text-anchor="end" textLength="38.099999999999994" lengthAdjust="spacingAndGlyphs">600</text>
<line x1="1298.6" y1="1993.0" x2="1298.6" y2="1987.5" stroke="#111" stroke-width="1.4"/>
<text x="1298.6" y="2026.5" font-size="23.5" font-family="'Liberation Sans', Arial, sans-serif" fill="#1a1a1a" text-anchor="middle" textLength="25.6" lengthAdjust="spacingAndGlyphs">20</text>
<line x1="1428.6" y1="1993.0" x2="1428.6" y2="1987.5" stroke="#111" stroke-width="1.4"/>
<text x="1428.6" y="2026.5" font-size="23.5" font-family="'Liberation Sans', Arial, sans-serif" fill="#1a1a1a" text-anchor="middle" textLength="25.6" lengthAdjust="spacingAndGlyphs">40</text>
<line x1="1558.5" y1="1993.0" x2="1558.5" y2="1987.5" stroke="#111" stroke-width="1.4"/>
<text x="1558.5" y="2026.5" font-size="23.5" font-family="'Liberation Sans', Arial, sans-serif" fill="#1a1a1a" text-anchor="middle" textLength="25.6" lengthAdjust="spacingAndGlyphs">60</text>
<text x="1378.8" y="2059.0" font-size="25" font-family="'Liberation Sans', Arial, sans-serif" fill="#1a1a1a" text-anchor="middle" textLength="123" lengthAdjust="spacingAndGlyphs">Time (min)</text>
<text x="1229.0" y="1768.8" font-size="25" font-family="'DejaVu Sans', 'Liberation Sans', sans-serif" fill="#111" textLength="37.5" lengthAdjust="spacingAndGlyphs" stroke="#111" stroke-width="0.35">kni</text>
<text x="1058.8" y="1505.5" font-size="28" font-family="'DejaVu Sans', 'Liberation Sans', sans-serif" fill="#111" text-anchor="middle" textLength="235" lengthAdjust="spacingAndGlyphs" transform="rotate(-90 1058.8 1505.5)" stroke="#111" stroke-width="0.35">Mean transcriptional</text>
<text x="1105.0" y="1505.5" font-size="28" font-family="'DejaVu Sans', 'Liberation Sans', sans-serif" fill="#111" text-anchor="middle" textLength="143" lengthAdjust="spacingAndGlyphs" transform="rotate(-90 1105.0 1505.5)" stroke="#111" stroke-width="0.35">activity (a.u.)</text>
<text x="1062.0" y="1842.0" font-size="28" font-family="'DejaVu Sans', 'Liberation Sans', sans-serif" fill="#111" text-anchor="middle" textLength="234" lengthAdjust="spacingAndGlyphs" transform="rotate(-90 1062.0 1842.0)" stroke="#111" stroke-width="0.35">Mean transcriptional</text>
<text x="1108.5" y="1843.5" font-size="28" font-family="'DejaVu Sans', 'Liberation Sans', sans-serif" fill="#111" text-anchor="middle" textLength="143" lengthAdjust="spacingAndGlyphs" transform="rotate(-90 1108.5 1843.5)" stroke="#111" stroke-width="0.35">activity (a.u.)</text>
<path d="M1753,1781.5 L1753,1757 L1768,1757" fill="none" stroke="#5a4a10" stroke-width="8"/>
<path d="M1753,1781.5 L1753,1757 L1768,1757" fill="none" stroke="#f3c030" stroke-width="5.4"/>
<polygon points="1766,1750 1773,1757 1766,1764" fill="#f3c030" stroke="#5a4a10" stroke-width="1.2"/>
<rect x="1737.0" y="1790.0" width="38.0" height="18.4" fill="#4a4a4a"/>
<rect x="1732.4" y="1824.7" width="46.6" height="22.8" fill="#2e75c0" stroke="#1f5a9a" stroke-width="0.8"/>
<path d="M1744,1859.5 L1768,1859.5 Q1772,1866 1772,1872.5 Q1772,1879 1768,1885.5 L1744,1885.5 Q1740,1879 1740,1872.5 Q1740,1866 1744,1859.5 Z" fill="#f39a14" stroke="#b86a00" stroke-width="1.2"/>
<rect x="1739.0" y="1898.8" width="33.6" height="33.8" fill="#f0939b"/>
<path d="M1742.5,1986 Q1764.5,1990 1792.5,1972" fill="none" stroke="#777" stroke-width="1"/>
<circle cx="1755.5" cy="1976.0" r="5.6" fill="#959595"/>
<circle cx="1744.5" cy="1966.0" r="6" fill="#c8202a"/>
<path d="M1735.5,1968.0 A9,9 0 0 1 1750.5,1958.0" fill="none" stroke="#c8202a" stroke-width="1.2" stroke-dasharray="1.5,1.5" opacity="0.8"/>
<circle cx="1770.0" cy="1970.5" r="5.6" fill="#959595"/>
<circle cx="1759.0" cy="1960.5" r="6" fill="#c8202a"/>
<path d="M1750.0,1962.5 A9,9 0 0 1 1765.0,1952.5" fill="none" stroke="#c8202a" stroke-width="1.2" stroke-dasharray="1.5,1.5" opacity="0.8"/>
<circle cx="1784.5" cy="1965.0" r="5.6" fill="#959595"/>
<circle cx="1773.5" cy="1955.0" r="6" fill="#c8202a"/>
<path d="M1764.5,1957.0 A9,9 0 0 1 1779.5,1947.0" fill="none" stroke="#c8202a" stroke-width="1.2" stroke-dasharray="1.5,1.5" opacity="0.8"/>
<path d="M1743.5,2025 Q1765.5,2029 1793.5,2011" fill="none" stroke="#777" stroke-width="1"/>
<circle cx="1756.5" cy="2015.0" r="5.6" fill="#959595"/>
<circle cx="1745.5" cy="2005.0" r="6" fill="#1a9a46"/>
<path d="M1736.5,2007.0 A9,9 0 0 1 1751.5,1997.0" fill="none" stroke="#1a9a46" stroke-width="1.2" stroke-dasharray="1.5,1.5" opacity="0.8"/>
<circle cx="1771.0" cy="2009.5" r="5.6" fill="#959595"/>
<circle cx="1760.0" cy="1999.5" r="6" fill="#1a9a46"/>
<path d="M1751.0,2001.5 A9,9 0 0 1 1766.0,1991.5" fill="none" stroke="#1a9a46" stroke-width="1.2" stroke-dasharray="1.5,1.5" opacity="0.8"/>
<circle cx="1785.5" cy="2004.0" r="5.6" fill="#959595"/>
<circle cx="1774.5" cy="1994.0" r="6" fill="#1a9a46"/>
<path d="M1765.5,1996.0 A9,9 0 0 1 1780.5,1986.0" fill="none" stroke="#1a9a46" stroke-width="1.2" stroke-dasharray="1.5,1.5" opacity="0.8"/>
<text x="1799.5" y="1774.5" font-size="21" font-family="'DejaVu Sans', 'Liberation Sans', sans-serif" fill="#111" textLength="102.5" lengthAdjust="spacingAndGlyphs" stroke="#111" stroke-width="0.35">Promoter</text>
<text x="1799.5" y="1806.7" font-size="21" font-family="'DejaVu Sans', 'Liberation Sans', sans-serif" fill="#111" textLength="118.5" lengthAdjust="spacingAndGlyphs" stroke="#111" stroke-width="0.35">Gene body</text>
<text x="1799.5" y="1843.7" font-size="21" font-family="'DejaVu Sans', 'Liberation Sans', sans-serif" fill="#111" textLength="192.5" lengthAdjust="spacingAndGlyphs" stroke="#111" stroke-width="0.35">Shared enhancer</text>
<text x="1799.5" y="1880.0" font-size="21" font-family="'DejaVu Sans', 'Liberation Sans', sans-serif" fill="#111" textLength="210" lengthAdjust="spacingAndGlyphs" stroke="#111" stroke-width="0.35">Tethering element</text>
<text x="1799.5" y="1922.5" font-size="21" font-family="'DejaVu Sans', 'Liberation Sans', sans-serif" fill="#111" textLength="184.2" lengthAdjust="spacingAndGlyphs" stroke="#111" stroke-width="0.35">Replaced region</text>
<text x="1799.5" y="1969.7" font-size="21" font-family="'DejaVu Sans', 'Liberation Sans', sans-serif" fill="#111" textLength="232.3" lengthAdjust="spacingAndGlyphs" stroke="#111" stroke-width="0.35">Stem loops bound by</text>
<text x="1799.5" y="1997.8" font-size="21" font-family="'DejaVu Sans', 'Liberation Sans', sans-serif" fill="#111" textLength="216.4" lengthAdjust="spacingAndGlyphs" stroke="#111" stroke-width="0.35">fluorescent proteins</text>
</svg></body></html>
